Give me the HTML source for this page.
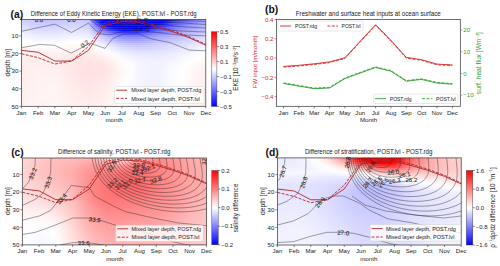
<!DOCTYPE html><html><head><meta charset="utf-8"><style>html,body{margin:0;padding:0;background:#fff;overflow:hidden}svg{display:block}</style></head><body>
<svg width="500" height="266" viewBox="0 0 500 266" font-family='"Liberation Sans", sans-serif'>
<rect width="500" height="266" fill="#fff"/>
<defs><linearGradient id="g1"><stop offset="0.000" stop-color="#cfcfff"/><stop offset="0.033" stop-color="#c9c9ff"/><stop offset="0.067" stop-color="#c4c4ff"/><stop offset="0.100" stop-color="#bfbfff"/><stop offset="0.133" stop-color="#bebeff"/><stop offset="0.167" stop-color="#bdbdff"/><stop offset="0.200" stop-color="#bebeff"/><stop offset="0.233" stop-color="#c2c2ff"/><stop offset="0.267" stop-color="#c6c6ff"/><stop offset="0.300" stop-color="#c6c6ff"/><stop offset="0.333" stop-color="#c5c5ff"/><stop offset="0.367" stop-color="#babaff"/><stop offset="0.400" stop-color="#4848ff"/><stop offset="0.433" stop-color="#0000ff"/><stop offset="0.467" stop-color="#0000ff"/><stop offset="0.500" stop-color="#0000ff"/><stop offset="0.533" stop-color="#0000ff"/><stop offset="0.567" stop-color="#0000ff"/><stop offset="0.600" stop-color="#0000ff"/><stop offset="0.633" stop-color="#0000ff"/><stop offset="0.667" stop-color="#0000ff"/><stop offset="0.700" stop-color="#0000ff"/><stop offset="0.733" stop-color="#0000ff"/><stop offset="0.767" stop-color="#0000ff"/><stop offset="0.800" stop-color="#0c0cff"/><stop offset="0.833" stop-color="#3434ff"/><stop offset="0.867" stop-color="#5151ff"/><stop offset="0.900" stop-color="#6e6eff"/><stop offset="0.933" stop-color="#8383ff"/><stop offset="0.967" stop-color="#9595ff"/><stop offset="1.000" stop-color="#a6a6ff"/></linearGradient><linearGradient id="g2"><stop offset="0.000" stop-color="#d4d4ff"/><stop offset="0.033" stop-color="#ceceff"/><stop offset="0.067" stop-color="#c8c8ff"/><stop offset="0.100" stop-color="#c4c4ff"/><stop offset="0.133" stop-color="#c4c4ff"/><stop offset="0.167" stop-color="#c3c3ff"/><stop offset="0.200" stop-color="#c5c5ff"/><stop offset="0.233" stop-color="#c9c9ff"/><stop offset="0.267" stop-color="#cdcdff"/><stop offset="0.300" stop-color="#ccccff"/><stop offset="0.333" stop-color="#cbcbff"/><stop offset="0.367" stop-color="#c1c1ff"/><stop offset="0.400" stop-color="#6262ff"/><stop offset="0.433" stop-color="#0303ff"/><stop offset="0.467" stop-color="#0000ff"/><stop offset="0.500" stop-color="#0000ff"/><stop offset="0.533" stop-color="#0000ff"/><stop offset="0.567" stop-color="#0000ff"/><stop offset="0.600" stop-color="#0000ff"/><stop offset="0.633" stop-color="#0000ff"/><stop offset="0.667" stop-color="#0000ff"/><stop offset="0.700" stop-color="#0000ff"/><stop offset="0.733" stop-color="#0000ff"/><stop offset="0.767" stop-color="#0000ff"/><stop offset="0.800" stop-color="#2626ff"/><stop offset="0.833" stop-color="#4747ff"/><stop offset="0.867" stop-color="#6060ff"/><stop offset="0.900" stop-color="#7979ff"/><stop offset="0.933" stop-color="#8b8bff"/><stop offset="0.967" stop-color="#9b9bff"/><stop offset="1.000" stop-color="#ababff"/></linearGradient><linearGradient id="g3"><stop offset="0.000" stop-color="#d8d8ff"/><stop offset="0.033" stop-color="#d3d3ff"/><stop offset="0.067" stop-color="#cdcdff"/><stop offset="0.100" stop-color="#cacaff"/><stop offset="0.133" stop-color="#cacaff"/><stop offset="0.167" stop-color="#cacaff"/><stop offset="0.200" stop-color="#cbcbff"/><stop offset="0.233" stop-color="#cfcfff"/><stop offset="0.267" stop-color="#d2d2ff"/><stop offset="0.300" stop-color="#d2d2ff"/><stop offset="0.333" stop-color="#d0d0ff"/><stop offset="0.367" stop-color="#c8c8ff"/><stop offset="0.400" stop-color="#7979ff"/><stop offset="0.433" stop-color="#2a2aff"/><stop offset="0.467" stop-color="#0000ff"/><stop offset="0.500" stop-color="#0000ff"/><stop offset="0.533" stop-color="#0000ff"/><stop offset="0.567" stop-color="#0000ff"/><stop offset="0.600" stop-color="#0000ff"/><stop offset="0.633" stop-color="#0000ff"/><stop offset="0.667" stop-color="#0000ff"/><stop offset="0.700" stop-color="#0000ff"/><stop offset="0.733" stop-color="#0000ff"/><stop offset="0.767" stop-color="#1d1dff"/><stop offset="0.800" stop-color="#3d3dff"/><stop offset="0.833" stop-color="#5959ff"/><stop offset="0.867" stop-color="#6f6fff"/><stop offset="0.900" stop-color="#8484ff"/><stop offset="0.933" stop-color="#9494ff"/><stop offset="0.967" stop-color="#a2a2ff"/><stop offset="1.000" stop-color="#b0b0ff"/></linearGradient><linearGradient id="g4"><stop offset="0.000" stop-color="#dcdcff"/><stop offset="0.033" stop-color="#d7d7ff"/><stop offset="0.067" stop-color="#d3d3ff"/><stop offset="0.100" stop-color="#cfcfff"/><stop offset="0.133" stop-color="#cfcfff"/><stop offset="0.167" stop-color="#cfcfff"/><stop offset="0.200" stop-color="#d1d1ff"/><stop offset="0.233" stop-color="#d4d4ff"/><stop offset="0.267" stop-color="#d6d6ff"/><stop offset="0.300" stop-color="#d6d6ff"/><stop offset="0.333" stop-color="#d5d5ff"/><stop offset="0.367" stop-color="#ceceff"/><stop offset="0.400" stop-color="#8c8cff"/><stop offset="0.433" stop-color="#4949ff"/><stop offset="0.467" stop-color="#0e0eff"/><stop offset="0.500" stop-color="#0000ff"/><stop offset="0.533" stop-color="#0000ff"/><stop offset="0.567" stop-color="#0000ff"/><stop offset="0.600" stop-color="#0000ff"/><stop offset="0.633" stop-color="#0000ff"/><stop offset="0.667" stop-color="#0000ff"/><stop offset="0.700" stop-color="#0000ff"/><stop offset="0.733" stop-color="#1b1bff"/><stop offset="0.767" stop-color="#3737ff"/><stop offset="0.800" stop-color="#5252ff"/><stop offset="0.833" stop-color="#6a6aff"/><stop offset="0.867" stop-color="#7d7dff"/><stop offset="0.900" stop-color="#9090ff"/><stop offset="0.933" stop-color="#9e9eff"/><stop offset="0.967" stop-color="#aaaaff"/><stop offset="1.000" stop-color="#b6b6ff"/></linearGradient><linearGradient id="g5"><stop offset="0.000" stop-color="#e0e0ff"/><stop offset="0.033" stop-color="#dcdcff"/><stop offset="0.067" stop-color="#d8d8ff"/><stop offset="0.100" stop-color="#d5d5ff"/><stop offset="0.133" stop-color="#d5d5ff"/><stop offset="0.167" stop-color="#d5d5ff"/><stop offset="0.200" stop-color="#d6d6ff"/><stop offset="0.233" stop-color="#d8d8ff"/><stop offset="0.267" stop-color="#dadaff"/><stop offset="0.300" stop-color="#dbdbff"/><stop offset="0.333" stop-color="#dadaff"/><stop offset="0.367" stop-color="#d5d5ff"/><stop offset="0.400" stop-color="#9f9fff"/><stop offset="0.433" stop-color="#6868ff"/><stop offset="0.467" stop-color="#3737ff"/><stop offset="0.500" stop-color="#1111ff"/><stop offset="0.533" stop-color="#0000ff"/><stop offset="0.567" stop-color="#0000ff"/><stop offset="0.600" stop-color="#0000ff"/><stop offset="0.633" stop-color="#0000ff"/><stop offset="0.667" stop-color="#0000ff"/><stop offset="0.700" stop-color="#1c1cff"/><stop offset="0.733" stop-color="#3b3bff"/><stop offset="0.767" stop-color="#5151ff"/><stop offset="0.800" stop-color="#6666ff"/><stop offset="0.833" stop-color="#7a7aff"/><stop offset="0.867" stop-color="#8b8bff"/><stop offset="0.900" stop-color="#9c9cff"/><stop offset="0.933" stop-color="#a8a8ff"/><stop offset="0.967" stop-color="#b2b2ff"/><stop offset="1.000" stop-color="#bcbcff"/></linearGradient><linearGradient id="g6"><stop offset="0.000" stop-color="#e5e5ff"/><stop offset="0.033" stop-color="#e1e1ff"/><stop offset="0.067" stop-color="#dedeff"/><stop offset="0.100" stop-color="#dbdbff"/><stop offset="0.133" stop-color="#dbdbff"/><stop offset="0.167" stop-color="#dbdbff"/><stop offset="0.200" stop-color="#dcdcff"/><stop offset="0.233" stop-color="#dedeff"/><stop offset="0.267" stop-color="#e0e0ff"/><stop offset="0.300" stop-color="#e0e0ff"/><stop offset="0.333" stop-color="#e0e0ff"/><stop offset="0.367" stop-color="#dcdcff"/><stop offset="0.400" stop-color="#afafff"/><stop offset="0.433" stop-color="#8282ff"/><stop offset="0.467" stop-color="#5959ff"/><stop offset="0.500" stop-color="#3737ff"/><stop offset="0.533" stop-color="#1515ff"/><stop offset="0.567" stop-color="#0909ff"/><stop offset="0.600" stop-color="#0909ff"/><stop offset="0.633" stop-color="#0909ff"/><stop offset="0.667" stop-color="#2121ff"/><stop offset="0.700" stop-color="#3c3cff"/><stop offset="0.733" stop-color="#5656ff"/><stop offset="0.767" stop-color="#6767ff"/><stop offset="0.800" stop-color="#7979ff"/><stop offset="0.833" stop-color="#8989ff"/><stop offset="0.867" stop-color="#9898ff"/><stop offset="0.900" stop-color="#a6a6ff"/><stop offset="0.933" stop-color="#b1b1ff"/><stop offset="0.967" stop-color="#babaff"/><stop offset="1.000" stop-color="#c3c3ff"/></linearGradient><linearGradient id="g7"><stop offset="0.000" stop-color="#ebebff"/><stop offset="0.033" stop-color="#e7e7ff"/><stop offset="0.067" stop-color="#e3e3ff"/><stop offset="0.100" stop-color="#e1e1ff"/><stop offset="0.133" stop-color="#e1e1ff"/><stop offset="0.167" stop-color="#e1e1ff"/><stop offset="0.200" stop-color="#e2e2ff"/><stop offset="0.233" stop-color="#e4e4ff"/><stop offset="0.267" stop-color="#e6e6ff"/><stop offset="0.300" stop-color="#e6e6ff"/><stop offset="0.333" stop-color="#e6e6ff"/><stop offset="0.367" stop-color="#e3e3ff"/><stop offset="0.400" stop-color="#bfbfff"/><stop offset="0.433" stop-color="#9b9bff"/><stop offset="0.467" stop-color="#7979ff"/><stop offset="0.500" stop-color="#5b5bff"/><stop offset="0.533" stop-color="#3e3eff"/><stop offset="0.567" stop-color="#3333ff"/><stop offset="0.600" stop-color="#3333ff"/><stop offset="0.633" stop-color="#3333ff"/><stop offset="0.667" stop-color="#4646ff"/><stop offset="0.700" stop-color="#5b5bff"/><stop offset="0.733" stop-color="#6f6fff"/><stop offset="0.767" stop-color="#7d7dff"/><stop offset="0.800" stop-color="#8b8bff"/><stop offset="0.833" stop-color="#9898ff"/><stop offset="0.867" stop-color="#a4a4ff"/><stop offset="0.900" stop-color="#b0b0ff"/><stop offset="0.933" stop-color="#b9b9ff"/><stop offset="0.967" stop-color="#c2c2ff"/><stop offset="1.000" stop-color="#cacaff"/></linearGradient><linearGradient id="g8"><stop offset="0.000" stop-color="#f1f1ff"/><stop offset="0.033" stop-color="#ededff"/><stop offset="0.067" stop-color="#e9e9ff"/><stop offset="0.100" stop-color="#e7e7ff"/><stop offset="0.133" stop-color="#e7e7ff"/><stop offset="0.167" stop-color="#e7e7ff"/><stop offset="0.200" stop-color="#e8e8ff"/><stop offset="0.233" stop-color="#e9e9ff"/><stop offset="0.267" stop-color="#ebebff"/><stop offset="0.300" stop-color="#ececff"/><stop offset="0.333" stop-color="#ececff"/><stop offset="0.367" stop-color="#e9e9ff"/><stop offset="0.400" stop-color="#ceceff"/><stop offset="0.433" stop-color="#b3b3ff"/><stop offset="0.467" stop-color="#9999ff"/><stop offset="0.500" stop-color="#8080ff"/><stop offset="0.533" stop-color="#6666ff"/><stop offset="0.567" stop-color="#5d5dff"/><stop offset="0.600" stop-color="#5d5dff"/><stop offset="0.633" stop-color="#5d5dff"/><stop offset="0.667" stop-color="#6b6bff"/><stop offset="0.700" stop-color="#7a7aff"/><stop offset="0.733" stop-color="#8989ff"/><stop offset="0.767" stop-color="#9393ff"/><stop offset="0.800" stop-color="#9d9dff"/><stop offset="0.833" stop-color="#a6a6ff"/><stop offset="0.867" stop-color="#b0b0ff"/><stop offset="0.900" stop-color="#b9b9ff"/><stop offset="0.933" stop-color="#c1c1ff"/><stop offset="0.967" stop-color="#c9c9ff"/><stop offset="1.000" stop-color="#d1d1ff"/></linearGradient><linearGradient id="g9"><stop offset="0.000" stop-color="#f6f6ff"/><stop offset="0.033" stop-color="#f2f2ff"/><stop offset="0.067" stop-color="#efefff"/><stop offset="0.100" stop-color="#ececff"/><stop offset="0.133" stop-color="#ececff"/><stop offset="0.167" stop-color="#ececff"/><stop offset="0.200" stop-color="#ededff"/><stop offset="0.233" stop-color="#efefff"/><stop offset="0.267" stop-color="#f1f1ff"/><stop offset="0.300" stop-color="#f1f1ff"/><stop offset="0.333" stop-color="#f1f1ff"/><stop offset="0.367" stop-color="#efefff"/><stop offset="0.400" stop-color="#dbdbff"/><stop offset="0.433" stop-color="#c8c8ff"/><stop offset="0.467" stop-color="#b3b3ff"/><stop offset="0.500" stop-color="#9e9eff"/><stop offset="0.533" stop-color="#8888ff"/><stop offset="0.567" stop-color="#8080ff"/><stop offset="0.600" stop-color="#8080ff"/><stop offset="0.633" stop-color="#7f7fff"/><stop offset="0.667" stop-color="#8989ff"/><stop offset="0.700" stop-color="#9494ff"/><stop offset="0.733" stop-color="#9e9eff"/><stop offset="0.767" stop-color="#a5a5ff"/><stop offset="0.800" stop-color="#acacff"/><stop offset="0.833" stop-color="#b3b3ff"/><stop offset="0.867" stop-color="#bbbbff"/><stop offset="0.900" stop-color="#c2c2ff"/><stop offset="0.933" stop-color="#c9c9ff"/><stop offset="0.967" stop-color="#d1d1ff"/><stop offset="1.000" stop-color="#d8d8ff"/></linearGradient><linearGradient id="g10"><stop offset="0.000" stop-color="#f9f9ff"/><stop offset="0.033" stop-color="#f6f6ff"/><stop offset="0.067" stop-color="#f3f3ff"/><stop offset="0.100" stop-color="#f1f1ff"/><stop offset="0.133" stop-color="#f1f1ff"/><stop offset="0.167" stop-color="#f1f1ff"/><stop offset="0.200" stop-color="#f2f2ff"/><stop offset="0.233" stop-color="#f4f4ff"/><stop offset="0.267" stop-color="#f5f5ff"/><stop offset="0.300" stop-color="#f6f6ff"/><stop offset="0.333" stop-color="#f6f6ff"/><stop offset="0.367" stop-color="#f4f4ff"/><stop offset="0.400" stop-color="#e3e3ff"/><stop offset="0.433" stop-color="#d2d2ff"/><stop offset="0.467" stop-color="#c0c0ff"/><stop offset="0.500" stop-color="#adadff"/><stop offset="0.533" stop-color="#9999ff"/><stop offset="0.567" stop-color="#9292ff"/><stop offset="0.600" stop-color="#9191ff"/><stop offset="0.633" stop-color="#9090ff"/><stop offset="0.667" stop-color="#9898ff"/><stop offset="0.700" stop-color="#a1a1ff"/><stop offset="0.733" stop-color="#a9a9ff"/><stop offset="0.767" stop-color="#b0b0ff"/><stop offset="0.800" stop-color="#b6b6ff"/><stop offset="0.833" stop-color="#bcbcff"/><stop offset="0.867" stop-color="#c3c3ff"/><stop offset="0.900" stop-color="#c9c9ff"/><stop offset="0.933" stop-color="#d0d0ff"/><stop offset="0.967" stop-color="#d7d7ff"/><stop offset="1.000" stop-color="#dedeff"/></linearGradient><linearGradient id="g11"><stop offset="0.000" stop-color="#fdfdff"/><stop offset="0.033" stop-color="#fafaff"/><stop offset="0.067" stop-color="#f7f7ff"/><stop offset="0.100" stop-color="#f5f5ff"/><stop offset="0.133" stop-color="#f5f5ff"/><stop offset="0.167" stop-color="#f5f5ff"/><stop offset="0.200" stop-color="#f6f6ff"/><stop offset="0.233" stop-color="#f8f8ff"/><stop offset="0.267" stop-color="#fafaff"/><stop offset="0.300" stop-color="#fafaff"/><stop offset="0.333" stop-color="#fafaff"/><stop offset="0.367" stop-color="#f9f9ff"/><stop offset="0.400" stop-color="#eaeaff"/><stop offset="0.433" stop-color="#dcdcff"/><stop offset="0.467" stop-color="#ccccff"/><stop offset="0.500" stop-color="#bcbcff"/><stop offset="0.533" stop-color="#ababff"/><stop offset="0.567" stop-color="#a4a4ff"/><stop offset="0.600" stop-color="#a2a2ff"/><stop offset="0.633" stop-color="#a0a0ff"/><stop offset="0.667" stop-color="#a6a6ff"/><stop offset="0.700" stop-color="#aeaeff"/><stop offset="0.733" stop-color="#b5b5ff"/><stop offset="0.767" stop-color="#babaff"/><stop offset="0.800" stop-color="#c0c0ff"/><stop offset="0.833" stop-color="#c5c5ff"/><stop offset="0.867" stop-color="#cbcbff"/><stop offset="0.900" stop-color="#d0d0ff"/><stop offset="0.933" stop-color="#d7d7ff"/><stop offset="0.967" stop-color="#ddddff"/><stop offset="1.000" stop-color="#e4e4ff"/></linearGradient><linearGradient id="g12"><stop offset="0.000" stop-color="#fffefe"/><stop offset="0.033" stop-color="#fefeff"/><stop offset="0.067" stop-color="#fcfcff"/><stop offset="0.100" stop-color="#fafaff"/><stop offset="0.133" stop-color="#fafaff"/><stop offset="0.167" stop-color="#fafaff"/><stop offset="0.200" stop-color="#fbfbff"/><stop offset="0.233" stop-color="#fdfdff"/><stop offset="0.267" stop-color="#ffffff"/><stop offset="0.300" stop-color="#ffffff"/><stop offset="0.333" stop-color="#ffffff"/><stop offset="0.367" stop-color="#fefeff"/><stop offset="0.400" stop-color="#f2f2ff"/><stop offset="0.433" stop-color="#e6e6ff"/><stop offset="0.467" stop-color="#d9d9ff"/><stop offset="0.500" stop-color="#cbcbff"/><stop offset="0.533" stop-color="#bdbdff"/><stop offset="0.567" stop-color="#b6b6ff"/><stop offset="0.600" stop-color="#b3b3ff"/><stop offset="0.633" stop-color="#b0b0ff"/><stop offset="0.667" stop-color="#b5b5ff"/><stop offset="0.700" stop-color="#bbbbff"/><stop offset="0.733" stop-color="#c0c0ff"/><stop offset="0.767" stop-color="#c5c5ff"/><stop offset="0.800" stop-color="#c9c9ff"/><stop offset="0.833" stop-color="#ceceff"/><stop offset="0.867" stop-color="#d3d3ff"/><stop offset="0.900" stop-color="#d7d7ff"/><stop offset="0.933" stop-color="#ddddff"/><stop offset="0.967" stop-color="#e3e3ff"/><stop offset="1.000" stop-color="#e9e9ff"/></linearGradient><linearGradient id="g13"><stop offset="0.000" stop-color="#fffafa"/><stop offset="0.033" stop-color="#fffcfc"/><stop offset="0.067" stop-color="#fffefe"/><stop offset="0.100" stop-color="#ffffff"/><stop offset="0.133" stop-color="#ffffff"/><stop offset="0.167" stop-color="#ffffff"/><stop offset="0.200" stop-color="#fffefe"/><stop offset="0.233" stop-color="#fffdfd"/><stop offset="0.267" stop-color="#fffbfb"/><stop offset="0.300" stop-color="#fffafa"/><stop offset="0.333" stop-color="#fffafa"/><stop offset="0.367" stop-color="#fffbfb"/><stop offset="0.400" stop-color="#f9f9ff"/><stop offset="0.433" stop-color="#f0f0ff"/><stop offset="0.467" stop-color="#e5e5ff"/><stop offset="0.500" stop-color="#dadaff"/><stop offset="0.533" stop-color="#ceceff"/><stop offset="0.567" stop-color="#c8c8ff"/><stop offset="0.600" stop-color="#c4c4ff"/><stop offset="0.633" stop-color="#c1c1ff"/><stop offset="0.667" stop-color="#c4c4ff"/><stop offset="0.700" stop-color="#c8c8ff"/><stop offset="0.733" stop-color="#ccccff"/><stop offset="0.767" stop-color="#cfcfff"/><stop offset="0.800" stop-color="#d3d3ff"/><stop offset="0.833" stop-color="#d7d7ff"/><stop offset="0.867" stop-color="#dbdbff"/><stop offset="0.900" stop-color="#dfdfff"/><stop offset="0.933" stop-color="#e4e4ff"/><stop offset="0.967" stop-color="#e9e9ff"/><stop offset="1.000" stop-color="#efefff"/></linearGradient><linearGradient id="g14"><stop offset="0.000" stop-color="#fff8f8"/><stop offset="0.033" stop-color="#fff9f9"/><stop offset="0.067" stop-color="#fffbfb"/><stop offset="0.100" stop-color="#fffcfc"/><stop offset="0.133" stop-color="#fffcfc"/><stop offset="0.167" stop-color="#fffcfc"/><stop offset="0.200" stop-color="#fffbfb"/><stop offset="0.233" stop-color="#fff9f9"/><stop offset="0.267" stop-color="#fff7f7"/><stop offset="0.300" stop-color="#fff7f7"/><stop offset="0.333" stop-color="#fff7f7"/><stop offset="0.367" stop-color="#fff8f8"/><stop offset="0.400" stop-color="#fefeff"/><stop offset="0.433" stop-color="#f6f6ff"/><stop offset="0.467" stop-color="#ededff"/><stop offset="0.500" stop-color="#e2e2ff"/><stop offset="0.533" stop-color="#d7d7ff"/><stop offset="0.567" stop-color="#d1d1ff"/><stop offset="0.600" stop-color="#cdcdff"/><stop offset="0.633" stop-color="#c9c9ff"/><stop offset="0.667" stop-color="#ccccff"/><stop offset="0.700" stop-color="#cfcfff"/><stop offset="0.733" stop-color="#d2d2ff"/><stop offset="0.767" stop-color="#d5d5ff"/><stop offset="0.800" stop-color="#d9d9ff"/><stop offset="0.833" stop-color="#dcdcff"/><stop offset="0.867" stop-color="#e0e0ff"/><stop offset="0.900" stop-color="#e4e4ff"/><stop offset="0.933" stop-color="#e8e8ff"/><stop offset="0.967" stop-color="#eeeeff"/><stop offset="1.000" stop-color="#f3f3ff"/></linearGradient><linearGradient id="g15"><stop offset="0.000" stop-color="#fff5f5"/><stop offset="0.033" stop-color="#fff7f7"/><stop offset="0.067" stop-color="#fff8f8"/><stop offset="0.100" stop-color="#fff8f8"/><stop offset="0.133" stop-color="#fff8f8"/><stop offset="0.167" stop-color="#fff8f8"/><stop offset="0.200" stop-color="#fff7f7"/><stop offset="0.233" stop-color="#fff6f6"/><stop offset="0.267" stop-color="#fff4f4"/><stop offset="0.300" stop-color="#fff3f3"/><stop offset="0.333" stop-color="#fff3f3"/><stop offset="0.367" stop-color="#fff4f4"/><stop offset="0.400" stop-color="#fffbfb"/><stop offset="0.433" stop-color="#fcfcff"/><stop offset="0.467" stop-color="#f4f4ff"/><stop offset="0.500" stop-color="#eaeaff"/><stop offset="0.533" stop-color="#dfdfff"/><stop offset="0.567" stop-color="#d9d9ff"/><stop offset="0.600" stop-color="#d5d5ff"/><stop offset="0.633" stop-color="#d2d2ff"/><stop offset="0.667" stop-color="#d3d3ff"/><stop offset="0.700" stop-color="#d5d5ff"/><stop offset="0.733" stop-color="#d8d8ff"/><stop offset="0.767" stop-color="#dadaff"/><stop offset="0.800" stop-color="#ddddff"/><stop offset="0.833" stop-color="#e1e1ff"/><stop offset="0.867" stop-color="#e4e4ff"/><stop offset="0.900" stop-color="#e8e8ff"/><stop offset="0.933" stop-color="#ededff"/><stop offset="0.967" stop-color="#f2f2ff"/><stop offset="1.000" stop-color="#f6f6ff"/></linearGradient><linearGradient id="g16"><stop offset="0.000" stop-color="#fff3f3"/><stop offset="0.033" stop-color="#fff4f4"/><stop offset="0.067" stop-color="#fff4f4"/><stop offset="0.100" stop-color="#fff5f5"/><stop offset="0.133" stop-color="#fff5f5"/><stop offset="0.167" stop-color="#fff5f5"/><stop offset="0.200" stop-color="#fff4f4"/><stop offset="0.233" stop-color="#fff2f2"/><stop offset="0.267" stop-color="#fff0f0"/><stop offset="0.300" stop-color="#fff0f0"/><stop offset="0.333" stop-color="#fff0f0"/><stop offset="0.367" stop-color="#fff0f0"/><stop offset="0.400" stop-color="#fff6f6"/><stop offset="0.433" stop-color="#fffcfc"/><stop offset="0.467" stop-color="#fbfbff"/><stop offset="0.500" stop-color="#f1f1ff"/><stop offset="0.533" stop-color="#e7e7ff"/><stop offset="0.567" stop-color="#e1e1ff"/><stop offset="0.600" stop-color="#ddddff"/><stop offset="0.633" stop-color="#dadaff"/><stop offset="0.667" stop-color="#dadaff"/><stop offset="0.700" stop-color="#dcdcff"/><stop offset="0.733" stop-color="#ddddff"/><stop offset="0.767" stop-color="#e0e0ff"/><stop offset="0.800" stop-color="#e2e2ff"/><stop offset="0.833" stop-color="#e5e5ff"/><stop offset="0.867" stop-color="#e9e9ff"/><stop offset="0.900" stop-color="#ededff"/><stop offset="0.933" stop-color="#f1f1ff"/><stop offset="0.967" stop-color="#f5f5ff"/><stop offset="1.000" stop-color="#fafaff"/></linearGradient><linearGradient id="g17"><stop offset="0.000" stop-color="#fff1f1"/><stop offset="0.033" stop-color="#fff1f1"/><stop offset="0.067" stop-color="#fff1f1"/><stop offset="0.100" stop-color="#fff1f1"/><stop offset="0.133" stop-color="#fff1f1"/><stop offset="0.167" stop-color="#fff1f1"/><stop offset="0.200" stop-color="#fff0f0"/><stop offset="0.233" stop-color="#ffefef"/><stop offset="0.267" stop-color="#ffeded"/><stop offset="0.300" stop-color="#ffecec"/><stop offset="0.333" stop-color="#ffecec"/><stop offset="0.367" stop-color="#ffeded"/><stop offset="0.400" stop-color="#fff1f1"/><stop offset="0.433" stop-color="#fff5f5"/><stop offset="0.467" stop-color="#fffcfc"/><stop offset="0.500" stop-color="#f9f9ff"/><stop offset="0.533" stop-color="#efefff"/><stop offset="0.567" stop-color="#e9e9ff"/><stop offset="0.600" stop-color="#e6e6ff"/><stop offset="0.633" stop-color="#e2e2ff"/><stop offset="0.667" stop-color="#e2e2ff"/><stop offset="0.700" stop-color="#e2e2ff"/><stop offset="0.733" stop-color="#e3e3ff"/><stop offset="0.767" stop-color="#e5e5ff"/><stop offset="0.800" stop-color="#e7e7ff"/><stop offset="0.833" stop-color="#eaeaff"/><stop offset="0.867" stop-color="#eeeeff"/><stop offset="0.900" stop-color="#f1f1ff"/><stop offset="0.933" stop-color="#f5f5ff"/><stop offset="0.967" stop-color="#f9f9ff"/><stop offset="1.000" stop-color="#fdfdff"/></linearGradient><linearGradient id="g18"><stop offset="0.000" stop-color="#ffefef"/><stop offset="0.033" stop-color="#ffefef"/><stop offset="0.067" stop-color="#ffefef"/><stop offset="0.100" stop-color="#ffefef"/><stop offset="0.133" stop-color="#ffefef"/><stop offset="0.167" stop-color="#ffefef"/><stop offset="0.200" stop-color="#ffeeee"/><stop offset="0.233" stop-color="#ffecec"/><stop offset="0.267" stop-color="#ffeaea"/><stop offset="0.300" stop-color="#ffeaea"/><stop offset="0.333" stop-color="#ffeaea"/><stop offset="0.367" stop-color="#ffeaea"/><stop offset="0.400" stop-color="#ffeded"/><stop offset="0.433" stop-color="#fff1f1"/><stop offset="0.467" stop-color="#fff6f6"/><stop offset="0.500" stop-color="#fefeff"/><stop offset="0.533" stop-color="#f5f5ff"/><stop offset="0.567" stop-color="#f0f0ff"/><stop offset="0.600" stop-color="#ececff"/><stop offset="0.633" stop-color="#e8e8ff"/><stop offset="0.667" stop-color="#e7e7ff"/><stop offset="0.700" stop-color="#e7e7ff"/><stop offset="0.733" stop-color="#e7e7ff"/><stop offset="0.767" stop-color="#e9e9ff"/><stop offset="0.800" stop-color="#ebebff"/><stop offset="0.833" stop-color="#ededff"/><stop offset="0.867" stop-color="#f1f1ff"/><stop offset="0.900" stop-color="#f5f5ff"/><stop offset="0.933" stop-color="#f9f9ff"/><stop offset="0.967" stop-color="#fcfcff"/><stop offset="1.000" stop-color="#fffefe"/></linearGradient><linearGradient id="g19"><stop offset="0.000" stop-color="#ffeeee"/><stop offset="0.033" stop-color="#ffeeee"/><stop offset="0.067" stop-color="#ffefef"/><stop offset="0.100" stop-color="#ffefef"/><stop offset="0.133" stop-color="#ffefef"/><stop offset="0.167" stop-color="#ffefef"/><stop offset="0.200" stop-color="#ffeeee"/><stop offset="0.233" stop-color="#ffebeb"/><stop offset="0.267" stop-color="#ffe9e9"/><stop offset="0.300" stop-color="#ffe8e8"/><stop offset="0.333" stop-color="#ffe8e8"/><stop offset="0.367" stop-color="#ffe7e7"/><stop offset="0.400" stop-color="#ffebeb"/><stop offset="0.433" stop-color="#ffeeee"/><stop offset="0.467" stop-color="#fff3f3"/><stop offset="0.500" stop-color="#fffbfb"/><stop offset="0.533" stop-color="#fafaff"/><stop offset="0.567" stop-color="#f4f4ff"/><stop offset="0.600" stop-color="#efefff"/><stop offset="0.633" stop-color="#ebebff"/><stop offset="0.667" stop-color="#eaeaff"/><stop offset="0.700" stop-color="#e9e9ff"/><stop offset="0.733" stop-color="#e9e9ff"/><stop offset="0.767" stop-color="#ebebff"/><stop offset="0.800" stop-color="#ededff"/><stop offset="0.833" stop-color="#f0f0ff"/><stop offset="0.867" stop-color="#f4f4ff"/><stop offset="0.900" stop-color="#f7f7ff"/><stop offset="0.933" stop-color="#fbfbff"/><stop offset="0.967" stop-color="#ffffff"/><stop offset="1.000" stop-color="#fffcfc"/></linearGradient><linearGradient id="g20"><stop offset="0.000" stop-color="#ffeded"/><stop offset="0.033" stop-color="#ffeded"/><stop offset="0.067" stop-color="#ffeeee"/><stop offset="0.100" stop-color="#ffeeee"/><stop offset="0.133" stop-color="#ffeeee"/><stop offset="0.167" stop-color="#ffeeee"/><stop offset="0.200" stop-color="#ffeded"/><stop offset="0.233" stop-color="#ffebeb"/><stop offset="0.267" stop-color="#ffe8e8"/><stop offset="0.300" stop-color="#ffe7e7"/><stop offset="0.333" stop-color="#ffe6e6"/><stop offset="0.367" stop-color="#ffe5e5"/><stop offset="0.400" stop-color="#ffe8e8"/><stop offset="0.433" stop-color="#ffeaea"/><stop offset="0.467" stop-color="#ffefef"/><stop offset="0.500" stop-color="#fff7f7"/><stop offset="0.533" stop-color="#fefeff"/><stop offset="0.567" stop-color="#f8f8ff"/><stop offset="0.600" stop-color="#f3f3ff"/><stop offset="0.633" stop-color="#efefff"/><stop offset="0.667" stop-color="#ededff"/><stop offset="0.700" stop-color="#ececff"/><stop offset="0.733" stop-color="#ececff"/><stop offset="0.767" stop-color="#eeeeff"/><stop offset="0.800" stop-color="#efefff"/><stop offset="0.833" stop-color="#f2f2ff"/><stop offset="0.867" stop-color="#f6f6ff"/><stop offset="0.900" stop-color="#fafaff"/><stop offset="0.933" stop-color="#fdfdff"/><stop offset="0.967" stop-color="#fffdfd"/><stop offset="1.000" stop-color="#fff9f9"/></linearGradient><linearGradient id="g21"><stop offset="0.000" stop-color="#ffecec"/><stop offset="0.033" stop-color="#ffecec"/><stop offset="0.067" stop-color="#ffeded"/><stop offset="0.100" stop-color="#ffeeee"/><stop offset="0.133" stop-color="#ffeeee"/><stop offset="0.167" stop-color="#ffeeee"/><stop offset="0.200" stop-color="#ffecec"/><stop offset="0.233" stop-color="#ffeaea"/><stop offset="0.267" stop-color="#ffe7e7"/><stop offset="0.300" stop-color="#ffe5e5"/><stop offset="0.333" stop-color="#ffe4e4"/><stop offset="0.367" stop-color="#ffe3e3"/><stop offset="0.400" stop-color="#ffe5e5"/><stop offset="0.433" stop-color="#ffe7e7"/><stop offset="0.467" stop-color="#ffebeb"/><stop offset="0.500" stop-color="#fff3f3"/><stop offset="0.533" stop-color="#fffbfb"/><stop offset="0.567" stop-color="#fdfdff"/><stop offset="0.600" stop-color="#f7f7ff"/><stop offset="0.633" stop-color="#f2f2ff"/><stop offset="0.667" stop-color="#f0f0ff"/><stop offset="0.700" stop-color="#efefff"/><stop offset="0.733" stop-color="#eeeeff"/><stop offset="0.767" stop-color="#f0f0ff"/><stop offset="0.800" stop-color="#f2f2ff"/><stop offset="0.833" stop-color="#f4f4ff"/><stop offset="0.867" stop-color="#f8f8ff"/><stop offset="0.900" stop-color="#fcfcff"/><stop offset="0.933" stop-color="#fffefe"/><stop offset="0.967" stop-color="#fffbfb"/><stop offset="1.000" stop-color="#fff7f7"/></linearGradient><linearGradient id="g22"><stop offset="0.000" stop-color="#ffebeb"/><stop offset="0.033" stop-color="#ffecec"/><stop offset="0.067" stop-color="#ffeded"/><stop offset="0.100" stop-color="#ffeded"/><stop offset="0.133" stop-color="#ffeded"/><stop offset="0.167" stop-color="#ffeded"/><stop offset="0.200" stop-color="#ffecec"/><stop offset="0.233" stop-color="#ffe9e9"/><stop offset="0.267" stop-color="#ffe6e6"/><stop offset="0.300" stop-color="#ffe4e4"/><stop offset="0.333" stop-color="#ffe2e2"/><stop offset="0.367" stop-color="#ffe1e1"/><stop offset="0.400" stop-color="#ffe2e2"/><stop offset="0.433" stop-color="#ffe4e4"/><stop offset="0.467" stop-color="#ffe8e8"/><stop offset="0.500" stop-color="#fff0f0"/><stop offset="0.533" stop-color="#fff7f7"/><stop offset="0.567" stop-color="#fffdfd"/><stop offset="0.600" stop-color="#fbfbff"/><stop offset="0.633" stop-color="#f5f5ff"/><stop offset="0.667" stop-color="#f3f3ff"/><stop offset="0.700" stop-color="#f1f1ff"/><stop offset="0.733" stop-color="#f0f0ff"/><stop offset="0.767" stop-color="#f2f2ff"/><stop offset="0.800" stop-color="#f4f4ff"/><stop offset="0.833" stop-color="#f7f7ff"/><stop offset="0.867" stop-color="#fafaff"/><stop offset="0.900" stop-color="#fefeff"/><stop offset="0.933" stop-color="#fffcfc"/><stop offset="0.967" stop-color="#fff8f8"/><stop offset="1.000" stop-color="#fff5f5"/></linearGradient><linearGradient id="g23"><stop offset="0.000" stop-color="#ffebeb"/><stop offset="0.033" stop-color="#ffecec"/><stop offset="0.067" stop-color="#ffeded"/><stop offset="0.100" stop-color="#ffeeee"/><stop offset="0.133" stop-color="#ffeeee"/><stop offset="0.167" stop-color="#ffeeee"/><stop offset="0.200" stop-color="#ffecec"/><stop offset="0.233" stop-color="#ffe9e9"/><stop offset="0.267" stop-color="#ffe6e6"/><stop offset="0.300" stop-color="#ffe4e4"/><stop offset="0.333" stop-color="#ffe2e2"/><stop offset="0.367" stop-color="#ffe1e1"/><stop offset="0.400" stop-color="#ffe2e2"/><stop offset="0.433" stop-color="#ffe3e3"/><stop offset="0.467" stop-color="#ffe7e7"/><stop offset="0.500" stop-color="#ffeeee"/><stop offset="0.533" stop-color="#fff6f6"/><stop offset="0.567" stop-color="#fffcfc"/><stop offset="0.600" stop-color="#fbfbff"/><stop offset="0.633" stop-color="#f5f5ff"/><stop offset="0.667" stop-color="#f3f3ff"/><stop offset="0.700" stop-color="#f1f1ff"/><stop offset="0.733" stop-color="#f0f0ff"/><stop offset="0.767" stop-color="#f2f2ff"/><stop offset="0.800" stop-color="#f5f5ff"/><stop offset="0.833" stop-color="#f8f8ff"/><stop offset="0.867" stop-color="#fcfcff"/><stop offset="0.900" stop-color="#ffffff"/><stop offset="0.933" stop-color="#fffbfb"/><stop offset="0.967" stop-color="#fff7f7"/><stop offset="1.000" stop-color="#fff4f4"/></linearGradient><linearGradient id="g24"><stop offset="0.000" stop-color="#ffebeb"/><stop offset="0.033" stop-color="#ffecec"/><stop offset="0.067" stop-color="#ffeded"/><stop offset="0.100" stop-color="#ffeeee"/><stop offset="0.133" stop-color="#ffeeee"/><stop offset="0.167" stop-color="#ffeeee"/><stop offset="0.200" stop-color="#ffeded"/><stop offset="0.233" stop-color="#ffe9e9"/><stop offset="0.267" stop-color="#ffe6e6"/><stop offset="0.300" stop-color="#ffe4e4"/><stop offset="0.333" stop-color="#ffe2e2"/><stop offset="0.367" stop-color="#ffe0e0"/><stop offset="0.400" stop-color="#ffe1e1"/><stop offset="0.433" stop-color="#ffe2e2"/><stop offset="0.467" stop-color="#ffe6e6"/><stop offset="0.500" stop-color="#ffeded"/><stop offset="0.533" stop-color="#fff5f5"/><stop offset="0.567" stop-color="#fffcfc"/><stop offset="0.600" stop-color="#fcfcff"/><stop offset="0.633" stop-color="#f5f5ff"/><stop offset="0.667" stop-color="#f3f3ff"/><stop offset="0.700" stop-color="#f1f1ff"/><stop offset="0.733" stop-color="#f0f0ff"/><stop offset="0.767" stop-color="#f3f3ff"/><stop offset="0.800" stop-color="#f6f6ff"/><stop offset="0.833" stop-color="#f9f9ff"/><stop offset="0.867" stop-color="#fdfdff"/><stop offset="0.900" stop-color="#fffefe"/><stop offset="0.933" stop-color="#fffafa"/><stop offset="0.967" stop-color="#fff6f6"/><stop offset="1.000" stop-color="#fff2f2"/></linearGradient><linearGradient id="g25"><stop offset="0.000" stop-color="#ffebeb"/><stop offset="0.033" stop-color="#ffecec"/><stop offset="0.067" stop-color="#ffeeee"/><stop offset="0.100" stop-color="#ffefef"/><stop offset="0.133" stop-color="#ffefef"/><stop offset="0.167" stop-color="#ffefef"/><stop offset="0.200" stop-color="#ffeded"/><stop offset="0.233" stop-color="#ffeaea"/><stop offset="0.267" stop-color="#ffe6e6"/><stop offset="0.300" stop-color="#ffe4e4"/><stop offset="0.333" stop-color="#ffe2e2"/><stop offset="0.367" stop-color="#ffe0e0"/><stop offset="0.400" stop-color="#ffe1e1"/><stop offset="0.433" stop-color="#ffe2e2"/><stop offset="0.467" stop-color="#ffe5e5"/><stop offset="0.500" stop-color="#ffecec"/><stop offset="0.533" stop-color="#fff4f4"/><stop offset="0.567" stop-color="#fffbfb"/><stop offset="0.600" stop-color="#fcfcff"/><stop offset="0.633" stop-color="#f5f5ff"/><stop offset="0.667" stop-color="#f3f3ff"/><stop offset="0.700" stop-color="#f1f1ff"/><stop offset="0.733" stop-color="#f0f0ff"/><stop offset="0.767" stop-color="#f3f3ff"/><stop offset="0.800" stop-color="#f7f7ff"/><stop offset="0.833" stop-color="#fafaff"/><stop offset="0.867" stop-color="#fefeff"/><stop offset="0.900" stop-color="#fffcfc"/><stop offset="0.933" stop-color="#fff9f9"/><stop offset="0.967" stop-color="#fff5f5"/><stop offset="1.000" stop-color="#fff1f1"/></linearGradient><linearGradient id="g26"><stop offset="0.000" stop-color="#ffebeb"/><stop offset="0.033" stop-color="#ffecec"/><stop offset="0.067" stop-color="#ffeeee"/><stop offset="0.100" stop-color="#fff0f0"/><stop offset="0.133" stop-color="#fff0f0"/><stop offset="0.167" stop-color="#fff0f0"/><stop offset="0.200" stop-color="#ffeeee"/><stop offset="0.233" stop-color="#ffeaea"/><stop offset="0.267" stop-color="#ffe6e6"/><stop offset="0.300" stop-color="#ffe4e4"/><stop offset="0.333" stop-color="#ffe2e2"/><stop offset="0.367" stop-color="#ffe0e0"/><stop offset="0.400" stop-color="#ffe1e1"/><stop offset="0.433" stop-color="#ffe1e1"/><stop offset="0.467" stop-color="#ffe3e3"/><stop offset="0.500" stop-color="#ffebeb"/><stop offset="0.533" stop-color="#fff2f2"/><stop offset="0.567" stop-color="#fffafa"/><stop offset="0.600" stop-color="#fdfdff"/><stop offset="0.633" stop-color="#f5f5ff"/><stop offset="0.667" stop-color="#f3f3ff"/><stop offset="0.700" stop-color="#f1f1ff"/><stop offset="0.733" stop-color="#f0f0ff"/><stop offset="0.767" stop-color="#f4f4ff"/><stop offset="0.800" stop-color="#f8f8ff"/><stop offset="0.833" stop-color="#fbfbff"/><stop offset="0.867" stop-color="#ffffff"/><stop offset="0.900" stop-color="#fffbfb"/><stop offset="0.933" stop-color="#fff8f8"/><stop offset="0.967" stop-color="#fff4f4"/><stop offset="1.000" stop-color="#fff0f0"/></linearGradient><linearGradient id="g27"><stop offset="0.000" stop-color="#ffebeb"/><stop offset="0.033" stop-color="#ffeded"/><stop offset="0.067" stop-color="#ffefef"/><stop offset="0.100" stop-color="#fff0f0"/><stop offset="0.133" stop-color="#fff0f0"/><stop offset="0.167" stop-color="#fff0f0"/><stop offset="0.200" stop-color="#ffeeee"/><stop offset="0.233" stop-color="#ffeaea"/><stop offset="0.267" stop-color="#ffe7e7"/><stop offset="0.300" stop-color="#ffe4e4"/><stop offset="0.333" stop-color="#ffe3e3"/><stop offset="0.367" stop-color="#ffe1e1"/><stop offset="0.400" stop-color="#ffe1e1"/><stop offset="0.433" stop-color="#ffe1e1"/><stop offset="0.467" stop-color="#ffe4e4"/><stop offset="0.500" stop-color="#ffebeb"/><stop offset="0.533" stop-color="#fff3f3"/><stop offset="0.567" stop-color="#fffafa"/><stop offset="0.600" stop-color="#fdfdff"/><stop offset="0.633" stop-color="#f5f5ff"/><stop offset="0.667" stop-color="#f3f3ff"/><stop offset="0.700" stop-color="#f1f1ff"/><stop offset="0.733" stop-color="#f0f0ff"/><stop offset="0.767" stop-color="#f4f4ff"/><stop offset="0.800" stop-color="#f8f8ff"/><stop offset="0.833" stop-color="#fcfcff"/><stop offset="0.867" stop-color="#fffefe"/><stop offset="0.900" stop-color="#fffbfb"/><stop offset="0.933" stop-color="#fff7f7"/><stop offset="0.967" stop-color="#fff3f3"/><stop offset="1.000" stop-color="#ffefef"/></linearGradient><linearGradient id="g28"><stop offset="0.000" stop-color="#ffebeb"/><stop offset="0.033" stop-color="#ffeded"/><stop offset="0.067" stop-color="#ffefef"/><stop offset="0.100" stop-color="#fff0f0"/><stop offset="0.133" stop-color="#fff0f0"/><stop offset="0.167" stop-color="#fff1f1"/><stop offset="0.200" stop-color="#ffefef"/><stop offset="0.233" stop-color="#ffebeb"/><stop offset="0.267" stop-color="#ffe7e7"/><stop offset="0.300" stop-color="#ffe5e5"/><stop offset="0.333" stop-color="#ffe3e3"/><stop offset="0.367" stop-color="#ffe1e1"/><stop offset="0.400" stop-color="#ffe2e2"/><stop offset="0.433" stop-color="#ffe2e2"/><stop offset="0.467" stop-color="#ffe5e5"/><stop offset="0.500" stop-color="#ffeded"/><stop offset="0.533" stop-color="#fff4f4"/><stop offset="0.567" stop-color="#fffbfb"/><stop offset="0.600" stop-color="#fcfcff"/><stop offset="0.633" stop-color="#f5f5ff"/><stop offset="0.667" stop-color="#f3f3ff"/><stop offset="0.700" stop-color="#f1f1ff"/><stop offset="0.733" stop-color="#f0f0ff"/><stop offset="0.767" stop-color="#f4f4ff"/><stop offset="0.800" stop-color="#f8f8ff"/><stop offset="0.833" stop-color="#fcfcff"/><stop offset="0.867" stop-color="#fffefe"/><stop offset="0.900" stop-color="#fffafa"/><stop offset="0.933" stop-color="#fff6f6"/><stop offset="0.967" stop-color="#fff2f2"/><stop offset="1.000" stop-color="#ffefef"/></linearGradient><linearGradient id="g29"><stop offset="0.000" stop-color="#ffebeb"/><stop offset="0.033" stop-color="#ffeded"/><stop offset="0.067" stop-color="#ffefef"/><stop offset="0.100" stop-color="#fff1f1"/><stop offset="0.133" stop-color="#fff1f1"/><stop offset="0.167" stop-color="#fff1f1"/><stop offset="0.200" stop-color="#ffefef"/><stop offset="0.233" stop-color="#ffebeb"/><stop offset="0.267" stop-color="#ffe8e8"/><stop offset="0.300" stop-color="#ffe6e6"/><stop offset="0.333" stop-color="#ffe4e4"/><stop offset="0.367" stop-color="#ffe2e2"/><stop offset="0.400" stop-color="#ffe3e3"/><stop offset="0.433" stop-color="#ffe3e3"/><stop offset="0.467" stop-color="#ffe6e6"/><stop offset="0.500" stop-color="#ffeeee"/><stop offset="0.533" stop-color="#fff5f5"/><stop offset="0.567" stop-color="#fffcfc"/><stop offset="0.600" stop-color="#fcfcff"/><stop offset="0.633" stop-color="#f5f5ff"/><stop offset="0.667" stop-color="#f3f3ff"/><stop offset="0.700" stop-color="#f1f1ff"/><stop offset="0.733" stop-color="#f0f0ff"/><stop offset="0.767" stop-color="#f4f4ff"/><stop offset="0.800" stop-color="#f8f8ff"/><stop offset="0.833" stop-color="#fcfcff"/><stop offset="0.867" stop-color="#fffefe"/><stop offset="0.900" stop-color="#fffafa"/><stop offset="0.933" stop-color="#fff6f6"/><stop offset="0.967" stop-color="#fff2f2"/><stop offset="1.000" stop-color="#ffeeee"/></linearGradient><linearGradient id="g30"><stop offset="0.000" stop-color="#ffecec"/><stop offset="0.033" stop-color="#ffeeee"/><stop offset="0.067" stop-color="#ffefef"/><stop offset="0.100" stop-color="#fff1f1"/><stop offset="0.133" stop-color="#fff1f1"/><stop offset="0.167" stop-color="#fff2f2"/><stop offset="0.200" stop-color="#fff0f0"/><stop offset="0.233" stop-color="#ffecec"/><stop offset="0.267" stop-color="#ffe8e8"/><stop offset="0.300" stop-color="#ffe6e6"/><stop offset="0.333" stop-color="#ffe4e4"/><stop offset="0.367" stop-color="#ffe3e3"/><stop offset="0.400" stop-color="#ffe3e3"/><stop offset="0.433" stop-color="#ffe4e4"/><stop offset="0.467" stop-color="#ffe7e7"/><stop offset="0.500" stop-color="#ffefef"/><stop offset="0.533" stop-color="#fff6f6"/><stop offset="0.567" stop-color="#fffdfd"/><stop offset="0.600" stop-color="#fbfbff"/><stop offset="0.633" stop-color="#f5f5ff"/><stop offset="0.667" stop-color="#f3f3ff"/><stop offset="0.700" stop-color="#f1f1ff"/><stop offset="0.733" stop-color="#f0f0ff"/><stop offset="0.767" stop-color="#f4f4ff"/><stop offset="0.800" stop-color="#f8f8ff"/><stop offset="0.833" stop-color="#fcfcff"/><stop offset="0.867" stop-color="#fffefe"/><stop offset="0.900" stop-color="#fff9f9"/><stop offset="0.933" stop-color="#fff5f5"/><stop offset="0.967" stop-color="#fff1f1"/><stop offset="1.000" stop-color="#ffeeee"/></linearGradient><linearGradient id="g31"><stop offset="0.000" stop-color="#ffecec"/><stop offset="0.033" stop-color="#ffeeee"/><stop offset="0.067" stop-color="#fff0f0"/><stop offset="0.100" stop-color="#fff1f1"/><stop offset="0.133" stop-color="#fff2f2"/><stop offset="0.167" stop-color="#fff2f2"/><stop offset="0.200" stop-color="#fff0f0"/><stop offset="0.233" stop-color="#ffeded"/><stop offset="0.267" stop-color="#ffe9e9"/><stop offset="0.300" stop-color="#ffe7e7"/><stop offset="0.333" stop-color="#ffe5e5"/><stop offset="0.367" stop-color="#ffe3e3"/><stop offset="0.400" stop-color="#ffe4e4"/><stop offset="0.433" stop-color="#ffe5e5"/><stop offset="0.467" stop-color="#ffe9e9"/><stop offset="0.500" stop-color="#fff0f0"/><stop offset="0.533" stop-color="#fff8f8"/><stop offset="0.567" stop-color="#fffefe"/><stop offset="0.600" stop-color="#fbfbff"/><stop offset="0.633" stop-color="#f5f5ff"/><stop offset="0.667" stop-color="#f3f3ff"/><stop offset="0.700" stop-color="#f1f1ff"/><stop offset="0.733" stop-color="#f0f0ff"/><stop offset="0.767" stop-color="#f4f4ff"/><stop offset="0.800" stop-color="#f8f8ff"/><stop offset="0.833" stop-color="#fcfcff"/><stop offset="0.867" stop-color="#fffdfd"/><stop offset="0.900" stop-color="#fff8f8"/><stop offset="0.933" stop-color="#fff4f4"/><stop offset="0.967" stop-color="#fff1f1"/><stop offset="1.000" stop-color="#ffeded"/></linearGradient><linearGradient id="g32"><stop offset="0.000" stop-color="#ffecec"/><stop offset="0.033" stop-color="#ffeeee"/><stop offset="0.067" stop-color="#fff0f0"/><stop offset="0.100" stop-color="#fff2f2"/><stop offset="0.133" stop-color="#fff2f2"/><stop offset="0.167" stop-color="#fff3f3"/><stop offset="0.200" stop-color="#fff1f1"/><stop offset="0.233" stop-color="#ffeded"/><stop offset="0.267" stop-color="#ffe9e9"/><stop offset="0.300" stop-color="#ffe7e7"/><stop offset="0.333" stop-color="#ffe5e5"/><stop offset="0.367" stop-color="#ffe4e4"/><stop offset="0.400" stop-color="#ffe5e5"/><stop offset="0.433" stop-color="#ffe6e6"/><stop offset="0.467" stop-color="#ffeaea"/><stop offset="0.500" stop-color="#fff1f1"/><stop offset="0.533" stop-color="#fff9f9"/><stop offset="0.567" stop-color="#ffffff"/><stop offset="0.600" stop-color="#fafaff"/><stop offset="0.633" stop-color="#f5f5ff"/><stop offset="0.667" stop-color="#f3f3ff"/><stop offset="0.700" stop-color="#f1f1ff"/><stop offset="0.733" stop-color="#f0f0ff"/><stop offset="0.767" stop-color="#f4f4ff"/><stop offset="0.800" stop-color="#f8f8ff"/><stop offset="0.833" stop-color="#fcfcff"/><stop offset="0.867" stop-color="#fffdfd"/><stop offset="0.900" stop-color="#fff8f8"/><stop offset="0.933" stop-color="#fff4f4"/><stop offset="0.967" stop-color="#fff0f0"/><stop offset="1.000" stop-color="#ffecec"/></linearGradient><linearGradient id="g33"><stop offset="0.000" stop-color="#ffeded"/><stop offset="0.033" stop-color="#ffeeee"/><stop offset="0.067" stop-color="#fff0f0"/><stop offset="0.100" stop-color="#fff2f2"/><stop offset="0.133" stop-color="#fff3f3"/><stop offset="0.167" stop-color="#fff3f3"/><stop offset="0.200" stop-color="#fff2f2"/><stop offset="0.233" stop-color="#ffeeee"/><stop offset="0.267" stop-color="#ffeaea"/><stop offset="0.300" stop-color="#ffe8e8"/><stop offset="0.333" stop-color="#ffe6e6"/><stop offset="0.367" stop-color="#ffe4e4"/><stop offset="0.400" stop-color="#ffe6e6"/><stop offset="0.433" stop-color="#ffe7e7"/><stop offset="0.467" stop-color="#ffebeb"/><stop offset="0.500" stop-color="#fff2f2"/><stop offset="0.533" stop-color="#fffafa"/><stop offset="0.567" stop-color="#fefeff"/><stop offset="0.600" stop-color="#fafaff"/><stop offset="0.633" stop-color="#f5f5ff"/><stop offset="0.667" stop-color="#f3f3ff"/><stop offset="0.700" stop-color="#f1f1ff"/><stop offset="0.733" stop-color="#f0f0ff"/><stop offset="0.767" stop-color="#f4f4ff"/><stop offset="0.800" stop-color="#f8f8ff"/><stop offset="0.833" stop-color="#fcfcff"/><stop offset="0.867" stop-color="#fffdfd"/><stop offset="0.900" stop-color="#fff7f7"/><stop offset="0.933" stop-color="#fff3f3"/><stop offset="0.967" stop-color="#fff0f0"/><stop offset="1.000" stop-color="#ffecec"/></linearGradient><linearGradient id="g34"><stop offset="0.000" stop-color="#ffeded"/><stop offset="0.033" stop-color="#ffefef"/><stop offset="0.067" stop-color="#fff1f1"/><stop offset="0.100" stop-color="#fff2f2"/><stop offset="0.133" stop-color="#fff3f3"/><stop offset="0.167" stop-color="#fff4f4"/><stop offset="0.200" stop-color="#fff2f2"/><stop offset="0.233" stop-color="#ffeeee"/><stop offset="0.267" stop-color="#ffebeb"/><stop offset="0.300" stop-color="#ffe8e8"/><stop offset="0.333" stop-color="#ffe7e7"/><stop offset="0.367" stop-color="#ffe5e5"/><stop offset="0.400" stop-color="#ffe7e7"/><stop offset="0.433" stop-color="#ffe8e8"/><stop offset="0.467" stop-color="#ffecec"/><stop offset="0.500" stop-color="#fff4f4"/><stop offset="0.533" stop-color="#fffbfb"/><stop offset="0.567" stop-color="#fefeff"/><stop offset="0.600" stop-color="#f9f9ff"/><stop offset="0.633" stop-color="#f5f5ff"/><stop offset="0.667" stop-color="#f3f3ff"/><stop offset="0.700" stop-color="#f1f1ff"/><stop offset="0.733" stop-color="#f0f0ff"/><stop offset="0.767" stop-color="#f4f4ff"/><stop offset="0.800" stop-color="#f8f8ff"/><stop offset="0.833" stop-color="#fcfcff"/><stop offset="0.867" stop-color="#fffcfc"/><stop offset="0.900" stop-color="#fff7f7"/><stop offset="0.933" stop-color="#fff3f3"/><stop offset="0.967" stop-color="#ffefef"/><stop offset="1.000" stop-color="#ffebeb"/></linearGradient><linearGradient id="g35"><stop offset="0.000" stop-color="#ffeded"/><stop offset="0.033" stop-color="#ffefef"/><stop offset="0.067" stop-color="#fff1f1"/><stop offset="0.100" stop-color="#fff2f2"/><stop offset="0.133" stop-color="#fff3f3"/><stop offset="0.167" stop-color="#fff4f4"/><stop offset="0.200" stop-color="#fff3f3"/><stop offset="0.233" stop-color="#ffefef"/><stop offset="0.267" stop-color="#ffebeb"/><stop offset="0.300" stop-color="#ffe9e9"/><stop offset="0.333" stop-color="#ffe7e7"/><stop offset="0.367" stop-color="#ffe6e6"/><stop offset="0.400" stop-color="#ffe7e7"/><stop offset="0.433" stop-color="#ffe9e9"/><stop offset="0.467" stop-color="#ffeded"/><stop offset="0.500" stop-color="#fff5f5"/><stop offset="0.533" stop-color="#fffcfc"/><stop offset="0.567" stop-color="#fdfdff"/><stop offset="0.600" stop-color="#f9f9ff"/><stop offset="0.633" stop-color="#f5f5ff"/><stop offset="0.667" stop-color="#f3f3ff"/><stop offset="0.700" stop-color="#f1f1ff"/><stop offset="0.733" stop-color="#f0f0ff"/><stop offset="0.767" stop-color="#f4f4ff"/><stop offset="0.800" stop-color="#f8f8ff"/><stop offset="0.833" stop-color="#fcfcff"/><stop offset="0.867" stop-color="#fffcfc"/><stop offset="0.900" stop-color="#fff6f6"/><stop offset="0.933" stop-color="#fff2f2"/><stop offset="0.967" stop-color="#ffeeee"/><stop offset="1.000" stop-color="#ffebeb"/></linearGradient><linearGradient id="g36"><stop offset="0.000" stop-color="#ffeded"/><stop offset="0.033" stop-color="#ffefef"/><stop offset="0.067" stop-color="#fff1f1"/><stop offset="0.100" stop-color="#fff3f3"/><stop offset="0.133" stop-color="#fff4f4"/><stop offset="0.167" stop-color="#fff5f5"/><stop offset="0.200" stop-color="#fff3f3"/><stop offset="0.233" stop-color="#ffefef"/><stop offset="0.267" stop-color="#ffecec"/><stop offset="0.300" stop-color="#ffeaea"/><stop offset="0.333" stop-color="#ffe8e8"/><stop offset="0.367" stop-color="#ffe6e6"/><stop offset="0.400" stop-color="#ffe8e8"/><stop offset="0.433" stop-color="#ffeaea"/><stop offset="0.467" stop-color="#ffeeee"/><stop offset="0.500" stop-color="#fff5f5"/><stop offset="0.533" stop-color="#fffcfc"/><stop offset="0.567" stop-color="#fdfdff"/><stop offset="0.600" stop-color="#f9f9ff"/><stop offset="0.633" stop-color="#f5f5ff"/><stop offset="0.667" stop-color="#f3f3ff"/><stop offset="0.700" stop-color="#f2f2ff"/><stop offset="0.733" stop-color="#f1f1ff"/><stop offset="0.767" stop-color="#f5f5ff"/><stop offset="0.800" stop-color="#f8f8ff"/><stop offset="0.833" stop-color="#fdfdff"/><stop offset="0.867" stop-color="#fffcfc"/><stop offset="0.900" stop-color="#fff6f6"/><stop offset="0.933" stop-color="#fff2f2"/><stop offset="0.967" stop-color="#ffeeee"/><stop offset="1.000" stop-color="#ffebeb"/></linearGradient><linearGradient id="g37"><stop offset="0.000" stop-color="#ffeeee"/><stop offset="0.033" stop-color="#fff0f0"/><stop offset="0.067" stop-color="#fff1f1"/><stop offset="0.100" stop-color="#fff3f3"/><stop offset="0.133" stop-color="#fff4f4"/><stop offset="0.167" stop-color="#fff5f5"/><stop offset="0.200" stop-color="#fff3f3"/><stop offset="0.233" stop-color="#fff0f0"/><stop offset="0.267" stop-color="#ffecec"/><stop offset="0.300" stop-color="#ffeaea"/><stop offset="0.333" stop-color="#ffe8e8"/><stop offset="0.367" stop-color="#ffe7e7"/><stop offset="0.400" stop-color="#ffe9e9"/><stop offset="0.433" stop-color="#ffebeb"/><stop offset="0.467" stop-color="#ffeeee"/><stop offset="0.500" stop-color="#fff5f5"/><stop offset="0.533" stop-color="#fffcfc"/><stop offset="0.567" stop-color="#fdfdff"/><stop offset="0.600" stop-color="#f9f9ff"/><stop offset="0.633" stop-color="#f5f5ff"/><stop offset="0.667" stop-color="#f3f3ff"/><stop offset="0.700" stop-color="#f2f2ff"/><stop offset="0.733" stop-color="#f1f1ff"/><stop offset="0.767" stop-color="#f5f5ff"/><stop offset="0.800" stop-color="#f9f9ff"/><stop offset="0.833" stop-color="#fdfdff"/><stop offset="0.867" stop-color="#fffbfb"/><stop offset="0.900" stop-color="#fff6f6"/><stop offset="0.933" stop-color="#fff2f2"/><stop offset="0.967" stop-color="#ffeeee"/><stop offset="1.000" stop-color="#ffebeb"/></linearGradient><linearGradient id="g38"><stop offset="0.000" stop-color="#ffeeee"/><stop offset="0.033" stop-color="#fff0f0"/><stop offset="0.067" stop-color="#fff2f2"/><stop offset="0.100" stop-color="#fff3f3"/><stop offset="0.133" stop-color="#fff4f4"/><stop offset="0.167" stop-color="#fff5f5"/><stop offset="0.200" stop-color="#fff4f4"/><stop offset="0.233" stop-color="#fff0f0"/><stop offset="0.267" stop-color="#ffeded"/><stop offset="0.300" stop-color="#ffebeb"/><stop offset="0.333" stop-color="#ffe9e9"/><stop offset="0.367" stop-color="#ffe7e7"/><stop offset="0.400" stop-color="#ffe9e9"/><stop offset="0.433" stop-color="#ffebeb"/><stop offset="0.467" stop-color="#ffefef"/><stop offset="0.500" stop-color="#fff6f6"/><stop offset="0.533" stop-color="#fffdfd"/><stop offset="0.567" stop-color="#fdfdff"/><stop offset="0.600" stop-color="#f9f9ff"/><stop offset="0.633" stop-color="#f5f5ff"/><stop offset="0.667" stop-color="#f4f4ff"/><stop offset="0.700" stop-color="#f2f2ff"/><stop offset="0.733" stop-color="#f2f2ff"/><stop offset="0.767" stop-color="#f6f6ff"/><stop offset="0.800" stop-color="#fafaff"/><stop offset="0.833" stop-color="#fefeff"/><stop offset="0.867" stop-color="#fffbfb"/><stop offset="0.900" stop-color="#fff6f6"/><stop offset="0.933" stop-color="#fff2f2"/><stop offset="0.967" stop-color="#ffeeee"/><stop offset="1.000" stop-color="#ffebeb"/></linearGradient><linearGradient id="g39"><stop offset="0.000" stop-color="#ffeeee"/><stop offset="0.033" stop-color="#fff0f0"/><stop offset="0.067" stop-color="#fff2f2"/><stop offset="0.100" stop-color="#fff4f4"/><stop offset="0.133" stop-color="#fff5f5"/><stop offset="0.167" stop-color="#fff6f6"/><stop offset="0.200" stop-color="#fff4f4"/><stop offset="0.233" stop-color="#fff1f1"/><stop offset="0.267" stop-color="#ffeded"/><stop offset="0.300" stop-color="#ffebeb"/><stop offset="0.333" stop-color="#ffe9e9"/><stop offset="0.367" stop-color="#ffe8e8"/><stop offset="0.400" stop-color="#ffeaea"/><stop offset="0.433" stop-color="#ffecec"/><stop offset="0.467" stop-color="#ffefef"/><stop offset="0.500" stop-color="#fff6f6"/><stop offset="0.533" stop-color="#fffdfd"/><stop offset="0.567" stop-color="#fdfdff"/><stop offset="0.600" stop-color="#f9f9ff"/><stop offset="0.633" stop-color="#f5f5ff"/><stop offset="0.667" stop-color="#f4f4ff"/><stop offset="0.700" stop-color="#f3f3ff"/><stop offset="0.733" stop-color="#f3f3ff"/><stop offset="0.767" stop-color="#f6f6ff"/><stop offset="0.800" stop-color="#fafaff"/><stop offset="0.833" stop-color="#fefeff"/><stop offset="0.867" stop-color="#fffbfb"/><stop offset="0.900" stop-color="#fff6f6"/><stop offset="0.933" stop-color="#fff2f2"/><stop offset="0.967" stop-color="#ffeeee"/><stop offset="1.000" stop-color="#ffebeb"/></linearGradient><linearGradient id="g40"><stop offset="0.000" stop-color="#ffefef"/><stop offset="0.033" stop-color="#fff0f0"/><stop offset="0.067" stop-color="#fff2f2"/><stop offset="0.100" stop-color="#fff4f4"/><stop offset="0.133" stop-color="#fff5f5"/><stop offset="0.167" stop-color="#fff6f6"/><stop offset="0.200" stop-color="#fff4f4"/><stop offset="0.233" stop-color="#fff1f1"/><stop offset="0.267" stop-color="#ffeeee"/><stop offset="0.300" stop-color="#ffecec"/><stop offset="0.333" stop-color="#ffeaea"/><stop offset="0.367" stop-color="#ffe9e9"/><stop offset="0.400" stop-color="#ffeaea"/><stop offset="0.433" stop-color="#ffecec"/><stop offset="0.467" stop-color="#fff0f0"/><stop offset="0.500" stop-color="#fff6f6"/><stop offset="0.533" stop-color="#fffdfd"/><stop offset="0.567" stop-color="#fdfdff"/><stop offset="0.600" stop-color="#f9f9ff"/><stop offset="0.633" stop-color="#f5f5ff"/><stop offset="0.667" stop-color="#f4f4ff"/><stop offset="0.700" stop-color="#f3f3ff"/><stop offset="0.733" stop-color="#f3f3ff"/><stop offset="0.767" stop-color="#f7f7ff"/><stop offset="0.800" stop-color="#fbfbff"/><stop offset="0.833" stop-color="#ffffff"/><stop offset="0.867" stop-color="#fffbfb"/><stop offset="0.900" stop-color="#fff6f6"/><stop offset="0.933" stop-color="#fff2f2"/><stop offset="0.967" stop-color="#ffeeee"/><stop offset="1.000" stop-color="#ffebeb"/></linearGradient><linearGradient id="g41"><stop offset="0.000" stop-color="#ffefef"/><stop offset="0.033" stop-color="#fff1f1"/><stop offset="0.067" stop-color="#fff3f3"/><stop offset="0.100" stop-color="#fff4f4"/><stop offset="0.133" stop-color="#fff5f5"/><stop offset="0.167" stop-color="#fff6f6"/><stop offset="0.200" stop-color="#fff5f5"/><stop offset="0.233" stop-color="#fff2f2"/><stop offset="0.267" stop-color="#ffefef"/><stop offset="0.300" stop-color="#ffecec"/><stop offset="0.333" stop-color="#ffebeb"/><stop offset="0.367" stop-color="#ffe9e9"/><stop offset="0.400" stop-color="#ffebeb"/><stop offset="0.433" stop-color="#ffeded"/><stop offset="0.467" stop-color="#fff0f0"/><stop offset="0.500" stop-color="#fff7f7"/><stop offset="0.533" stop-color="#fffdfd"/><stop offset="0.567" stop-color="#fdfdff"/><stop offset="0.600" stop-color="#f9f9ff"/><stop offset="0.633" stop-color="#f5f5ff"/><stop offset="0.667" stop-color="#f4f4ff"/><stop offset="0.700" stop-color="#f4f4ff"/><stop offset="0.733" stop-color="#f4f4ff"/><stop offset="0.767" stop-color="#f8f8ff"/><stop offset="0.800" stop-color="#fbfbff"/><stop offset="0.833" stop-color="#ffffff"/><stop offset="0.867" stop-color="#fffafa"/><stop offset="0.900" stop-color="#fff6f6"/><stop offset="0.933" stop-color="#fff2f2"/><stop offset="0.967" stop-color="#ffeeee"/><stop offset="1.000" stop-color="#ffebeb"/></linearGradient><linearGradient id="g42"><stop offset="0.000" stop-color="#ffefef"/><stop offset="0.033" stop-color="#fff1f1"/><stop offset="0.067" stop-color="#fff3f3"/><stop offset="0.100" stop-color="#fff5f5"/><stop offset="0.133" stop-color="#fff5f5"/><stop offset="0.167" stop-color="#fff6f6"/><stop offset="0.200" stop-color="#fff5f5"/><stop offset="0.233" stop-color="#fff2f2"/><stop offset="0.267" stop-color="#ffefef"/><stop offset="0.300" stop-color="#ffeded"/><stop offset="0.333" stop-color="#ffebeb"/><stop offset="0.367" stop-color="#ffeaea"/><stop offset="0.400" stop-color="#ffecec"/><stop offset="0.433" stop-color="#ffeded"/><stop offset="0.467" stop-color="#fff1f1"/><stop offset="0.500" stop-color="#fff7f7"/><stop offset="0.533" stop-color="#fffdfd"/><stop offset="0.567" stop-color="#fdfdff"/><stop offset="0.600" stop-color="#f9f9ff"/><stop offset="0.633" stop-color="#f5f5ff"/><stop offset="0.667" stop-color="#f4f4ff"/><stop offset="0.700" stop-color="#f4f4ff"/><stop offset="0.733" stop-color="#f4f4ff"/><stop offset="0.767" stop-color="#f8f8ff"/><stop offset="0.800" stop-color="#fcfcff"/><stop offset="0.833" stop-color="#fffefe"/><stop offset="0.867" stop-color="#fffafa"/><stop offset="0.900" stop-color="#fff6f6"/><stop offset="0.933" stop-color="#fff2f2"/><stop offset="0.967" stop-color="#ffeeee"/><stop offset="1.000" stop-color="#ffebeb"/></linearGradient><linearGradient id="g43"><stop offset="0.000" stop-color="#ffefef"/><stop offset="0.033" stop-color="#fff1f1"/><stop offset="0.067" stop-color="#fff3f3"/><stop offset="0.100" stop-color="#fff5f5"/><stop offset="0.133" stop-color="#fff6f6"/><stop offset="0.167" stop-color="#fff7f7"/><stop offset="0.200" stop-color="#fff6f6"/><stop offset="0.233" stop-color="#fff3f3"/><stop offset="0.267" stop-color="#fff0f0"/><stop offset="0.300" stop-color="#ffeeee"/><stop offset="0.333" stop-color="#ffecec"/><stop offset="0.367" stop-color="#ffeaea"/><stop offset="0.400" stop-color="#ffecec"/><stop offset="0.433" stop-color="#ffeeee"/><stop offset="0.467" stop-color="#fff1f1"/><stop offset="0.500" stop-color="#fff7f7"/><stop offset="0.533" stop-color="#fffdfd"/><stop offset="0.567" stop-color="#fdfdff"/><stop offset="0.600" stop-color="#f9f9ff"/><stop offset="0.633" stop-color="#f5f5ff"/><stop offset="0.667" stop-color="#f5f5ff"/><stop offset="0.700" stop-color="#f4f4ff"/><stop offset="0.733" stop-color="#f5f5ff"/><stop offset="0.767" stop-color="#f9f9ff"/><stop offset="0.800" stop-color="#fcfcff"/><stop offset="0.833" stop-color="#fffefe"/><stop offset="0.867" stop-color="#fffafa"/><stop offset="0.900" stop-color="#fff6f6"/><stop offset="0.933" stop-color="#fff2f2"/><stop offset="0.967" stop-color="#ffeeee"/><stop offset="1.000" stop-color="#ffebeb"/></linearGradient><linearGradient id="g44"><stop offset="0.000" stop-color="#fff0f0"/><stop offset="0.033" stop-color="#fff2f2"/><stop offset="0.067" stop-color="#fff3f3"/><stop offset="0.100" stop-color="#fff5f5"/><stop offset="0.133" stop-color="#fff6f6"/><stop offset="0.167" stop-color="#fff7f7"/><stop offset="0.200" stop-color="#fff6f6"/><stop offset="0.233" stop-color="#fff3f3"/><stop offset="0.267" stop-color="#fff0f0"/><stop offset="0.300" stop-color="#ffeeee"/><stop offset="0.333" stop-color="#ffecec"/><stop offset="0.367" stop-color="#ffebeb"/><stop offset="0.400" stop-color="#ffeded"/><stop offset="0.433" stop-color="#ffeeee"/><stop offset="0.467" stop-color="#fff2f2"/><stop offset="0.500" stop-color="#fff7f7"/><stop offset="0.533" stop-color="#fffdfd"/><stop offset="0.567" stop-color="#fdfdff"/><stop offset="0.600" stop-color="#f9f9ff"/><stop offset="0.633" stop-color="#f5f5ff"/><stop offset="0.667" stop-color="#f5f5ff"/><stop offset="0.700" stop-color="#f5f5ff"/><stop offset="0.733" stop-color="#f5f5ff"/><stop offset="0.767" stop-color="#f9f9ff"/><stop offset="0.800" stop-color="#fdfdff"/><stop offset="0.833" stop-color="#fffdfd"/><stop offset="0.867" stop-color="#fffafa"/><stop offset="0.900" stop-color="#fff6f6"/><stop offset="0.933" stop-color="#fff2f2"/><stop offset="0.967" stop-color="#ffeeee"/><stop offset="1.000" stop-color="#ffebeb"/></linearGradient></defs>
<rect x="21.4" y="19.5" width="184.4" height="2.3" fill="url(#g1)"/><rect x="21.4" y="21.5" width="184.4" height="2.3" fill="url(#g2)"/><rect x="21.4" y="23.5" width="184.4" height="2.3" fill="url(#g3)"/><rect x="21.4" y="25.5" width="184.4" height="2.3" fill="url(#g4)"/><rect x="21.4" y="27.5" width="184.4" height="2.3" fill="url(#g5)"/><rect x="21.4" y="29.5" width="184.4" height="2.3" fill="url(#g6)"/><rect x="21.4" y="31.5" width="184.4" height="2.3" fill="url(#g7)"/><rect x="21.4" y="33.5" width="184.4" height="2.3" fill="url(#g8)"/><rect x="21.4" y="35.5" width="184.4" height="2.3" fill="url(#g9)"/><rect x="21.4" y="37.5" width="184.4" height="2.3" fill="url(#g10)"/><rect x="21.4" y="39.5" width="184.4" height="2.3" fill="url(#g11)"/><rect x="21.4" y="41.5" width="184.4" height="2.3" fill="url(#g12)"/><rect x="21.4" y="43.5" width="184.4" height="2.3" fill="url(#g13)"/><rect x="21.4" y="45.5" width="184.4" height="2.3" fill="url(#g14)"/><rect x="21.4" y="47.5" width="184.4" height="2.3" fill="url(#g15)"/><rect x="21.4" y="49.5" width="184.4" height="2.3" fill="url(#g16)"/><rect x="21.4" y="51.5" width="184.4" height="2.3" fill="url(#g17)"/><rect x="21.4" y="53.5" width="184.4" height="2.3" fill="url(#g18)"/><rect x="21.4" y="55.5" width="184.4" height="2.3" fill="url(#g19)"/><rect x="21.4" y="57.5" width="184.4" height="2.3" fill="url(#g20)"/><rect x="21.4" y="59.5" width="184.4" height="2.3" fill="url(#g21)"/><rect x="21.4" y="61.5" width="184.4" height="2.3" fill="url(#g22)"/><rect x="21.4" y="63.5" width="184.4" height="2.3" fill="url(#g23)"/><rect x="21.4" y="65.5" width="184.4" height="2.3" fill="url(#g24)"/><rect x="21.4" y="67.5" width="184.4" height="2.3" fill="url(#g25)"/><rect x="21.4" y="69.5" width="184.4" height="2.3" fill="url(#g26)"/><rect x="21.4" y="71.5" width="184.4" height="2.3" fill="url(#g27)"/><rect x="21.4" y="73.5" width="184.4" height="2.3" fill="url(#g28)"/><rect x="21.4" y="75.5" width="184.4" height="2.3" fill="url(#g29)"/><rect x="21.4" y="77.5" width="184.4" height="2.3" fill="url(#g30)"/><rect x="21.4" y="79.5" width="184.4" height="2.3" fill="url(#g31)"/><rect x="21.4" y="81.5" width="184.4" height="2.3" fill="url(#g32)"/><rect x="21.4" y="83.5" width="184.4" height="2.3" fill="url(#g33)"/><rect x="21.4" y="85.5" width="184.4" height="2.3" fill="url(#g34)"/><rect x="21.4" y="87.5" width="184.4" height="2.3" fill="url(#g35)"/><rect x="21.4" y="89.5" width="184.4" height="2.3" fill="url(#g36)"/><rect x="21.4" y="91.5" width="184.4" height="2.3" fill="url(#g37)"/><rect x="21.4" y="93.5" width="184.4" height="2.3" fill="url(#g38)"/><rect x="21.4" y="95.5" width="184.4" height="2.3" fill="url(#g39)"/><rect x="21.4" y="97.5" width="184.4" height="2.3" fill="url(#g40)"/><rect x="21.4" y="99.5" width="184.4" height="2.3" fill="url(#g41)"/><rect x="21.4" y="101.5" width="184.4" height="2.3" fill="url(#g42)"/><rect x="21.4" y="103.5" width="184.4" height="2.3" fill="url(#g43)"/><rect x="21.4" y="105.5" width="184.4" height="1.1" fill="url(#g44)"/>
<clipPath id="clipA"><rect x="21.4" y="19.5" width="184.4" height="86.8"/></clipPath>
<g clip-path="url(#clipA)">
<path d="M21.4 31.3 L38.1 27.7 L54.9 24.1 L71.6 32.5 L88.6 23 L96 31 L100.5 34 L109.6 34.8 L123.1 31.5 L140 30.5 L160 32.8 L177 34.8 L205.8 35.8" stroke="#303030" stroke-width="0.45" fill="none"/>
<path d="M21.4 47.8 L39.5 44.4 L54.6 45.3 L71.1 53.1 L80 48.6 L90 43.1 L105 48.4 L112.6 38.6 L123.1 34.1 L137.8 33.6 L146.2 37 L150 38.6 L170.3 42.7 L189.2 50.1 L205.8 50.8" stroke="#303030" stroke-width="0.45" fill="none"/>
<path d="M90 19.5 L97 25 L104 28.5 L112 29.5 L125 28 L140 27.2 L160 28.8 L180 31 L205.8 32" stroke="#303030" stroke-width="0.45" fill="none"/>
<path d="M93 19.5 L100 23.5 L110 25.5 L125 24.5 L145 23.8 L165 25 L185 27 L205.8 28" stroke="#303030" stroke-width="0.45" fill="none"/>
<path d="M98 19.5 L106 21.8 L120 22.3 L140 21.5 L158 21.5 L180 22.8 L205.8 24.5" stroke="#303030" stroke-width="0.45" fill="none"/>
<path d="M150 19.5 L175 20.5 L205.8 21.5" stroke="#303030" stroke-width="0.45" fill="none"/>
<path d="M106 19.5 L130 20.3 L150 20 L160 19.5" stroke="#303030" stroke-width="0.45" fill="none"/>
<text x="39" y="19.8" font-size="6.1" text-anchor="middle" fill="#1a1a1a" dominant-baseline="central" stroke="#222" stroke-width="0.06">0.0</text>
<text x="71.5" y="19.8" font-size="6.1" text-anchor="middle" fill="#1a1a1a" dominant-baseline="central" stroke="#222" stroke-width="0.06">0.0</text>
<path d="M21.4 50.33 L38.16 52.27 L54.93 61.07 L71.69 61.07 L88.45 50.33 L105.22 25.52 L121.98 21.47 L138.75 22.35 L155.51 26.75 L172.27 31.68 L189.04 37.66 L205.8 45.23" stroke="#b22222" stroke-width="0.9" fill="none"/>
<path d="M21.4 53.68 L38.16 57.72 L54.93 64.06 L71.69 60.89 L88.45 46.46 L105.22 22.7 L121.98 20.06 L138.75 20.94 L155.51 25.34 L172.27 30.44 L189.04 36.6 L205.8 44.35" stroke="#b22222" stroke-width="0.9" fill="none" stroke-dasharray="3,1.4"/>
</g>
<rect x="21.4" y="19.5" width="184.4" height="86.8" fill="none" stroke="#333" stroke-width="0.7"/>
<path d="M21.4 106.3 L21.4 108.3" stroke="#333" stroke-width="0.6" fill="none"/>
<text x="21.4" y="114.6" font-size="6.1" text-anchor="middle" fill="#1a1a1a">Jan</text>
<path d="M38.16 106.3 L38.16 108.3" stroke="#333" stroke-width="0.6" fill="none"/>
<text x="38.16" y="114.6" font-size="6.1" text-anchor="middle" fill="#1a1a1a">Feb</text>
<path d="M54.93 106.3 L54.93 108.3" stroke="#333" stroke-width="0.6" fill="none"/>
<text x="54.93" y="114.6" font-size="6.1" text-anchor="middle" fill="#1a1a1a">Mar</text>
<path d="M71.69 106.3 L71.69 108.3" stroke="#333" stroke-width="0.6" fill="none"/>
<text x="71.69" y="114.6" font-size="6.1" text-anchor="middle" fill="#1a1a1a">Apr</text>
<path d="M88.45 106.3 L88.45 108.3" stroke="#333" stroke-width="0.6" fill="none"/>
<text x="88.45" y="114.6" font-size="6.1" text-anchor="middle" fill="#1a1a1a">May</text>
<path d="M105.22 106.3 L105.22 108.3" stroke="#333" stroke-width="0.6" fill="none"/>
<text x="105.22" y="114.6" font-size="6.1" text-anchor="middle" fill="#1a1a1a">Jun</text>
<path d="M121.98 106.3 L121.98 108.3" stroke="#333" stroke-width="0.6" fill="none"/>
<text x="121.98" y="114.6" font-size="6.1" text-anchor="middle" fill="#1a1a1a">Jul</text>
<path d="M138.75 106.3 L138.75 108.3" stroke="#333" stroke-width="0.6" fill="none"/>
<text x="138.75" y="114.6" font-size="6.1" text-anchor="middle" fill="#1a1a1a">Aug</text>
<path d="M155.51 106.3 L155.51 108.3" stroke="#333" stroke-width="0.6" fill="none"/>
<text x="155.51" y="114.6" font-size="6.1" text-anchor="middle" fill="#1a1a1a">Sep</text>
<path d="M172.27 106.3 L172.27 108.3" stroke="#333" stroke-width="0.6" fill="none"/>
<text x="172.27" y="114.6" font-size="6.1" text-anchor="middle" fill="#1a1a1a">Oct</text>
<path d="M189.04 106.3 L189.04 108.3" stroke="#333" stroke-width="0.6" fill="none"/>
<text x="189.04" y="114.6" font-size="6.1" text-anchor="middle" fill="#1a1a1a">Nov</text>
<path d="M205.8 106.3 L205.8 108.3" stroke="#333" stroke-width="0.6" fill="none"/>
<text x="205.8" y="114.6" font-size="6.1" text-anchor="middle" fill="#1a1a1a">Dec</text>
<path d="M19.4 35.9 L21.4 35.9" stroke="#333" stroke-width="0.6" fill="none"/>
<text x="18.4" y="38.1" font-size="6.1" text-anchor="end" fill="#1a1a1a">10</text>
<path d="M19.4 53.5 L21.4 53.5" stroke="#333" stroke-width="0.6" fill="none"/>
<text x="18.4" y="55.7" font-size="6.1" text-anchor="end" fill="#1a1a1a">20</text>
<path d="M19.4 71.1 L21.4 71.1" stroke="#333" stroke-width="0.6" fill="none"/>
<text x="18.4" y="73.3" font-size="6.1" text-anchor="end" fill="#1a1a1a">30</text>
<path d="M19.4 88.7 L21.4 88.7" stroke="#333" stroke-width="0.6" fill="none"/>
<text x="18.4" y="90.9" font-size="6.1" text-anchor="end" fill="#1a1a1a">40</text>
<path d="M19.4 106.3 L21.4 106.3" stroke="#333" stroke-width="0.6" fill="none"/>
<text x="18.4" y="108.5" font-size="6.1" text-anchor="end" fill="#1a1a1a">50</text>
<text x="114" y="122.3" font-size="6.2" text-anchor="middle" fill="#1a1a1a">month</text>
<text x="10" y="62.5" font-size="6.7" text-anchor="middle" fill="#1a1a1a" transform="rotate(-90 10 62.5)">depth [m]</text>
<text x="10.6" y="18" font-size="11.2" text-anchor="start" fill="#111" font-weight="bold" textLength="12.6" lengthAdjust="spacingAndGlyphs">(a)</text>
<text x="30.7" y="16" font-size="7.0" text-anchor="start" fill="#1a1a1a" textLength="166" lengthAdjust="spacingAndGlyphs">Difference of Eddy Kinetic Energy (EKE),  POST.lvl - POST.rdg</text>
<text x="84.5" y="43.5" font-size="6.1" text-anchor="middle" fill="#1a1a1a" transform="rotate(-40 84.5 43.5)" dominant-baseline="central" stroke="#222" stroke-width="0.06">0.2</text>
<text x="138.4" y="28" font-size="6.1" text-anchor="middle" fill="#1a1a1a" dominant-baseline="central" stroke="#222" stroke-width="0.06">0.4</text>
<text x="147.4" y="27.4" font-size="6.1" text-anchor="middle" fill="#1a1a1a" transform="rotate(-80 147.4 27.4)" dominant-baseline="central" stroke="#222" stroke-width="0.06">0.8</text>
<text x="138.5" y="21.5" font-size="5.6" text-anchor="middle" fill="#1a1a1a" transform="rotate(-80 138.5 21.5)" dominant-baseline="central" stroke="#222" stroke-width="0.06">1.2</text>
<text x="145.5" y="21.5" font-size="5.6" text-anchor="middle" fill="#1a1a1a" transform="rotate(-80 145.5 21.5)" dominant-baseline="central" stroke="#222" stroke-width="0.06">1.6</text>
<rect x="114.6" y="86.6" width="89.4" height="16.8" rx="1" fill="#fff" fill-opacity="0.8" stroke="#d0d0d0" stroke-width="0.5"/>
<path d="M116.2 90.2 L127 90.2" stroke="#b22222" stroke-width="0.9" fill="none"/>
<path d="M116.2 98.4 L127 98.4" stroke="#b22222" stroke-width="0.9" fill="none" stroke-dasharray="3,1.4"/>
<text x="131.2" y="92.4" font-size="6.1" text-anchor="start" fill="#1a1a1a" textLength="70" lengthAdjust="spacingAndGlyphs">Mixed layer depth, POST.rdg</text>
<text x="131.2" y="100.6" font-size="6.1" text-anchor="start" fill="#1a1a1a" textLength="68.5" lengthAdjust="spacingAndGlyphs">Mixed layer depth, POST.lvl</text>
<defs><linearGradient id="cb45" x1="0" y1="0" x2="0" y2="1"><stop offset="0" stop-color="#f00"/><stop offset="0.5" stop-color="#fff"/><stop offset="1" stop-color="#00f"/></linearGradient></defs>
<rect x="211.4" y="31.8" width="5.5" height="74.6" fill="url(#cb45)" stroke="#333" stroke-width="0.4"/>
<path d="M216.9 31.8 L218.9 31.8" stroke="#333" stroke-width="0.6" fill="none"/>
<text x="219.9" y="33.95" font-size="6.0" text-anchor="start" fill="#1a1a1a">0.5</text>
<path d="M216.9 46.72 L218.9 46.72" stroke="#333" stroke-width="0.6" fill="none"/>
<text x="219.9" y="48.87" font-size="6.0" text-anchor="start" fill="#1a1a1a">0.3</text>
<path d="M216.9 61.64 L218.9 61.64" stroke="#333" stroke-width="0.6" fill="none"/>
<text x="219.9" y="63.79" font-size="6.0" text-anchor="start" fill="#1a1a1a">0.1</text>
<path d="M216.9 76.56 L218.9 76.56" stroke="#333" stroke-width="0.6" fill="none"/>
<text x="219.9" y="78.71" font-size="6.0" text-anchor="start" fill="#1a1a1a">−0.1</text>
<path d="M216.9 91.48 L218.9 91.48" stroke="#333" stroke-width="0.6" fill="none"/>
<text x="219.9" y="93.63" font-size="6.0" text-anchor="start" fill="#1a1a1a">−0.3</text>
<path d="M216.9 106.4 L218.9 106.4" stroke="#333" stroke-width="0.6" fill="none"/>
<text x="219.9" y="108.55" font-size="6.0" text-anchor="start" fill="#1a1a1a">−0.5</text>
<text x="238.4" y="68.2" font-size="6.4" text-anchor="middle" fill="#1a1a1a" transform="rotate(-90 238.4 68.2)">EKE  [10<tspan dy="-2.2" font-size="4">−3</tspan><tspan dy="2.2">m<tspan dy="-2.2" font-size="4">2</tspan><tspan dy="2.2">s<tspan dy="-2.2" font-size="4">−2</tspan><tspan dy="2.2">]</tspan></tspan></tspan></text>
<defs><linearGradient id="g46"><stop offset="0.000" stop-color="#ffd8d8"/><stop offset="0.033" stop-color="#ffd3d3"/><stop offset="0.067" stop-color="#ffcfcf"/><stop offset="0.100" stop-color="#ffcaca"/><stop offset="0.133" stop-color="#ffc5c5"/><stop offset="0.167" stop-color="#ffc0c0"/><stop offset="0.200" stop-color="#ffbebe"/><stop offset="0.233" stop-color="#ffbebe"/><stop offset="0.267" stop-color="#ffbdbd"/><stop offset="0.300" stop-color="#ffbbbb"/><stop offset="0.333" stop-color="#ffb8b8"/><stop offset="0.367" stop-color="#ffb6b6"/><stop offset="0.400" stop-color="#ffbfbf"/><stop offset="0.433" stop-color="#ffc8c8"/><stop offset="0.467" stop-color="#ffd7d7"/><stop offset="0.500" stop-color="#ffefef"/><stop offset="0.533" stop-color="#f7f7ff"/><stop offset="0.567" stop-color="#fffafa"/><stop offset="0.600" stop-color="#ffd8d8"/><stop offset="0.633" stop-color="#ffb7b7"/><stop offset="0.667" stop-color="#ffa6a6"/><stop offset="0.700" stop-color="#ff9797"/><stop offset="0.733" stop-color="#ff8b8b"/><stop offset="0.767" stop-color="#ff9090"/><stop offset="0.800" stop-color="#ff9595"/><stop offset="0.833" stop-color="#ff9b9b"/><stop offset="0.867" stop-color="#ffa2a2"/><stop offset="0.900" stop-color="#ffa9a9"/><stop offset="0.933" stop-color="#ffafaf"/><stop offset="0.967" stop-color="#ffb3b3"/><stop offset="1.000" stop-color="#ffb8b8"/></linearGradient><linearGradient id="g47"><stop offset="0.000" stop-color="#ffd8d8"/><stop offset="0.033" stop-color="#ffd2d2"/><stop offset="0.067" stop-color="#ffcdcd"/><stop offset="0.100" stop-color="#ffc8c8"/><stop offset="0.133" stop-color="#ffc3c3"/><stop offset="0.167" stop-color="#ffbfbf"/><stop offset="0.200" stop-color="#ffbcbc"/><stop offset="0.233" stop-color="#ffbbbb"/><stop offset="0.267" stop-color="#ffbaba"/><stop offset="0.300" stop-color="#ffb7b7"/><stop offset="0.333" stop-color="#ffb2b2"/><stop offset="0.367" stop-color="#ffafaf"/><stop offset="0.400" stop-color="#ffb4b4"/><stop offset="0.433" stop-color="#ffb9b9"/><stop offset="0.467" stop-color="#ffc3c3"/><stop offset="0.500" stop-color="#ffd4d4"/><stop offset="0.533" stop-color="#ffe6e6"/><stop offset="0.567" stop-color="#ffdada"/><stop offset="0.600" stop-color="#ffbfbf"/><stop offset="0.633" stop-color="#ffa3a3"/><stop offset="0.667" stop-color="#ff9898"/><stop offset="0.700" stop-color="#ff8f8f"/><stop offset="0.733" stop-color="#ff8888"/><stop offset="0.767" stop-color="#ff8e8e"/><stop offset="0.800" stop-color="#ff9393"/><stop offset="0.833" stop-color="#ff9a9a"/><stop offset="0.867" stop-color="#ffa1a1"/><stop offset="0.900" stop-color="#ffa8a8"/><stop offset="0.933" stop-color="#ffadad"/><stop offset="0.967" stop-color="#ffb2b2"/><stop offset="1.000" stop-color="#ffb6b6"/></linearGradient><linearGradient id="g48"><stop offset="0.000" stop-color="#ffd7d7"/><stop offset="0.033" stop-color="#ffd1d1"/><stop offset="0.067" stop-color="#ffcccc"/><stop offset="0.100" stop-color="#ffc7c7"/><stop offset="0.133" stop-color="#ffc2c2"/><stop offset="0.167" stop-color="#ffbdbd"/><stop offset="0.200" stop-color="#ffbaba"/><stop offset="0.233" stop-color="#ffb9b9"/><stop offset="0.267" stop-color="#ffb7b7"/><stop offset="0.300" stop-color="#ffb2b2"/><stop offset="0.333" stop-color="#ffadad"/><stop offset="0.367" stop-color="#ffa8a8"/><stop offset="0.400" stop-color="#ffa9a9"/><stop offset="0.433" stop-color="#ffaaaa"/><stop offset="0.467" stop-color="#ffafaf"/><stop offset="0.500" stop-color="#ffbaba"/><stop offset="0.533" stop-color="#ffc5c5"/><stop offset="0.567" stop-color="#ffbbbb"/><stop offset="0.600" stop-color="#ffa5a5"/><stop offset="0.633" stop-color="#ff8f8f"/><stop offset="0.667" stop-color="#ff8a8a"/><stop offset="0.700" stop-color="#ff8787"/><stop offset="0.733" stop-color="#ff8585"/><stop offset="0.767" stop-color="#ff8b8b"/><stop offset="0.800" stop-color="#ff9191"/><stop offset="0.833" stop-color="#ff9898"/><stop offset="0.867" stop-color="#ff9f9f"/><stop offset="0.900" stop-color="#ffa6a6"/><stop offset="0.933" stop-color="#ffabab"/><stop offset="0.967" stop-color="#ffb0b0"/><stop offset="1.000" stop-color="#ffb5b5"/></linearGradient><linearGradient id="g49"><stop offset="0.000" stop-color="#ffd6d6"/><stop offset="0.033" stop-color="#ffd0d0"/><stop offset="0.067" stop-color="#ffcbcb"/><stop offset="0.100" stop-color="#ffc5c5"/><stop offset="0.133" stop-color="#ffc0c0"/><stop offset="0.167" stop-color="#ffbcbc"/><stop offset="0.200" stop-color="#ffb8b8"/><stop offset="0.233" stop-color="#ffb6b6"/><stop offset="0.267" stop-color="#ffb4b4"/><stop offset="0.300" stop-color="#ffaeae"/><stop offset="0.333" stop-color="#ffa8a8"/><stop offset="0.367" stop-color="#ffa1a1"/><stop offset="0.400" stop-color="#ff9e9e"/><stop offset="0.433" stop-color="#ff9b9b"/><stop offset="0.467" stop-color="#ff9a9a"/><stop offset="0.500" stop-color="#ff9f9f"/><stop offset="0.533" stop-color="#ffa4a4"/><stop offset="0.567" stop-color="#ff9b9b"/><stop offset="0.600" stop-color="#ff8b8b"/><stop offset="0.633" stop-color="#ff7b7b"/><stop offset="0.667" stop-color="#ff7c7c"/><stop offset="0.700" stop-color="#ff7e7e"/><stop offset="0.733" stop-color="#ff8282"/><stop offset="0.767" stop-color="#ff8989"/><stop offset="0.800" stop-color="#ff8f8f"/><stop offset="0.833" stop-color="#ff9696"/><stop offset="0.867" stop-color="#ff9d9d"/><stop offset="0.900" stop-color="#ffa4a4"/><stop offset="0.933" stop-color="#ffaaaa"/><stop offset="0.967" stop-color="#ffaeae"/><stop offset="1.000" stop-color="#ffb3b3"/></linearGradient><linearGradient id="g50"><stop offset="0.000" stop-color="#ffd6d6"/><stop offset="0.033" stop-color="#ffd0d0"/><stop offset="0.067" stop-color="#ffcaca"/><stop offset="0.100" stop-color="#ffc4c4"/><stop offset="0.133" stop-color="#ffc0c0"/><stop offset="0.167" stop-color="#ffbbbb"/><stop offset="0.200" stop-color="#ffb7b7"/><stop offset="0.233" stop-color="#ffb5b5"/><stop offset="0.267" stop-color="#ffb2b2"/><stop offset="0.300" stop-color="#ffacac"/><stop offset="0.333" stop-color="#ffa4a4"/><stop offset="0.367" stop-color="#ff9d9d"/><stop offset="0.400" stop-color="#ff9898"/><stop offset="0.433" stop-color="#ff9393"/><stop offset="0.467" stop-color="#ff9090"/><stop offset="0.500" stop-color="#ff9191"/><stop offset="0.533" stop-color="#ff9292"/><stop offset="0.567" stop-color="#ff8b8b"/><stop offset="0.600" stop-color="#ff7f7f"/><stop offset="0.633" stop-color="#ff7373"/><stop offset="0.667" stop-color="#ff7676"/><stop offset="0.700" stop-color="#ff7b7b"/><stop offset="0.733" stop-color="#ff8181"/><stop offset="0.767" stop-color="#ff8888"/><stop offset="0.800" stop-color="#ff8f8f"/><stop offset="0.833" stop-color="#ff9696"/><stop offset="0.867" stop-color="#ff9d9d"/><stop offset="0.900" stop-color="#ffa4a4"/><stop offset="0.933" stop-color="#ffa9a9"/><stop offset="0.967" stop-color="#ffaeae"/><stop offset="1.000" stop-color="#ffb2b2"/></linearGradient><linearGradient id="g51"><stop offset="0.000" stop-color="#ffd6d6"/><stop offset="0.033" stop-color="#ffd0d0"/><stop offset="0.067" stop-color="#ffcaca"/><stop offset="0.100" stop-color="#ffc4c4"/><stop offset="0.133" stop-color="#ffc0c0"/><stop offset="0.167" stop-color="#ffbbbb"/><stop offset="0.200" stop-color="#ffb7b7"/><stop offset="0.233" stop-color="#ffb4b4"/><stop offset="0.267" stop-color="#ffb1b1"/><stop offset="0.300" stop-color="#ffaaaa"/><stop offset="0.333" stop-color="#ffa2a2"/><stop offset="0.367" stop-color="#ff9a9a"/><stop offset="0.400" stop-color="#ff9595"/><stop offset="0.433" stop-color="#ff8f8f"/><stop offset="0.467" stop-color="#ff8b8b"/><stop offset="0.500" stop-color="#ff8a8a"/><stop offset="0.533" stop-color="#ff8989"/><stop offset="0.567" stop-color="#ff8383"/><stop offset="0.600" stop-color="#ff7a7a"/><stop offset="0.633" stop-color="#ff7171"/><stop offset="0.667" stop-color="#ff7575"/><stop offset="0.700" stop-color="#ff7b7b"/><stop offset="0.733" stop-color="#ff8181"/><stop offset="0.767" stop-color="#ff8888"/><stop offset="0.800" stop-color="#ff8f8f"/><stop offset="0.833" stop-color="#ff9696"/><stop offset="0.867" stop-color="#ff9d9d"/><stop offset="0.900" stop-color="#ffa4a4"/><stop offset="0.933" stop-color="#ffa9a9"/><stop offset="0.967" stop-color="#ffaeae"/><stop offset="1.000" stop-color="#ffb2b2"/></linearGradient><linearGradient id="g52"><stop offset="0.000" stop-color="#ffd6d6"/><stop offset="0.033" stop-color="#ffd0d0"/><stop offset="0.067" stop-color="#ffcaca"/><stop offset="0.100" stop-color="#ffc4c4"/><stop offset="0.133" stop-color="#ffc0c0"/><stop offset="0.167" stop-color="#ffbbbb"/><stop offset="0.200" stop-color="#ffb7b7"/><stop offset="0.233" stop-color="#ffb3b3"/><stop offset="0.267" stop-color="#ffafaf"/><stop offset="0.300" stop-color="#ffa8a8"/><stop offset="0.333" stop-color="#ff9f9f"/><stop offset="0.367" stop-color="#ff9797"/><stop offset="0.400" stop-color="#ff9191"/><stop offset="0.433" stop-color="#ff8b8b"/><stop offset="0.467" stop-color="#ff8686"/><stop offset="0.500" stop-color="#ff8383"/><stop offset="0.533" stop-color="#ff7f7f"/><stop offset="0.567" stop-color="#ff7b7b"/><stop offset="0.600" stop-color="#ff7575"/><stop offset="0.633" stop-color="#ff6f6f"/><stop offset="0.667" stop-color="#ff7474"/><stop offset="0.700" stop-color="#ff7b7b"/><stop offset="0.733" stop-color="#ff8181"/><stop offset="0.767" stop-color="#ff8888"/><stop offset="0.800" stop-color="#ff8f8f"/><stop offset="0.833" stop-color="#ff9696"/><stop offset="0.867" stop-color="#ff9d9d"/><stop offset="0.900" stop-color="#ffa4a4"/><stop offset="0.933" stop-color="#ffa9a9"/><stop offset="0.967" stop-color="#ffaeae"/><stop offset="1.000" stop-color="#ffb2b2"/></linearGradient><linearGradient id="g53"><stop offset="0.000" stop-color="#ffd6d6"/><stop offset="0.033" stop-color="#ffd0d0"/><stop offset="0.067" stop-color="#ffcaca"/><stop offset="0.100" stop-color="#ffc4c4"/><stop offset="0.133" stop-color="#ffc0c0"/><stop offset="0.167" stop-color="#ffbbbb"/><stop offset="0.200" stop-color="#ffb7b7"/><stop offset="0.233" stop-color="#ffb2b2"/><stop offset="0.267" stop-color="#ffaeae"/><stop offset="0.300" stop-color="#ffa6a6"/><stop offset="0.333" stop-color="#ff9d9d"/><stop offset="0.367" stop-color="#ff9494"/><stop offset="0.400" stop-color="#ff8e8e"/><stop offset="0.433" stop-color="#ff8787"/><stop offset="0.467" stop-color="#ff8181"/><stop offset="0.500" stop-color="#ff7b7b"/><stop offset="0.533" stop-color="#ff7676"/><stop offset="0.567" stop-color="#ff7272"/><stop offset="0.600" stop-color="#ff7070"/><stop offset="0.633" stop-color="#ff6e6e"/><stop offset="0.667" stop-color="#ff7373"/><stop offset="0.700" stop-color="#ff7a7a"/><stop offset="0.733" stop-color="#ff8181"/><stop offset="0.767" stop-color="#ff8888"/><stop offset="0.800" stop-color="#ff8f8f"/><stop offset="0.833" stop-color="#ff9696"/><stop offset="0.867" stop-color="#ff9d9d"/><stop offset="0.900" stop-color="#ffa4a4"/><stop offset="0.933" stop-color="#ffa9a9"/><stop offset="0.967" stop-color="#ffaeae"/><stop offset="1.000" stop-color="#ffb2b2"/></linearGradient><linearGradient id="g54"><stop offset="0.000" stop-color="#ffd6d6"/><stop offset="0.033" stop-color="#ffd0d0"/><stop offset="0.067" stop-color="#ffcaca"/><stop offset="0.100" stop-color="#ffc5c5"/><stop offset="0.133" stop-color="#ffc0c0"/><stop offset="0.167" stop-color="#ffbbbb"/><stop offset="0.200" stop-color="#ffb7b7"/><stop offset="0.233" stop-color="#ffb2b2"/><stop offset="0.267" stop-color="#ffadad"/><stop offset="0.300" stop-color="#ffa5a5"/><stop offset="0.333" stop-color="#ff9b9b"/><stop offset="0.367" stop-color="#ff9292"/><stop offset="0.400" stop-color="#ff8a8a"/><stop offset="0.433" stop-color="#ff8383"/><stop offset="0.467" stop-color="#ff7c7c"/><stop offset="0.500" stop-color="#ff7575"/><stop offset="0.533" stop-color="#ff6f6f"/><stop offset="0.567" stop-color="#ff6c6c"/><stop offset="0.600" stop-color="#ff6c6c"/><stop offset="0.633" stop-color="#ff6c6c"/><stop offset="0.667" stop-color="#ff7373"/><stop offset="0.700" stop-color="#ff7a7a"/><stop offset="0.733" stop-color="#ff8181"/><stop offset="0.767" stop-color="#ff8888"/><stop offset="0.800" stop-color="#ff8f8f"/><stop offset="0.833" stop-color="#ff9696"/><stop offset="0.867" stop-color="#ff9d9d"/><stop offset="0.900" stop-color="#ffa4a4"/><stop offset="0.933" stop-color="#ffa9a9"/><stop offset="0.967" stop-color="#ffaeae"/><stop offset="1.000" stop-color="#ffb3b3"/></linearGradient><linearGradient id="g55"><stop offset="0.000" stop-color="#ffd7d7"/><stop offset="0.033" stop-color="#ffd1d1"/><stop offset="0.067" stop-color="#ffcccc"/><stop offset="0.100" stop-color="#ffc6c6"/><stop offset="0.133" stop-color="#ffc1c1"/><stop offset="0.167" stop-color="#ffbdbd"/><stop offset="0.200" stop-color="#ffb8b8"/><stop offset="0.233" stop-color="#ffb3b3"/><stop offset="0.267" stop-color="#ffafaf"/><stop offset="0.300" stop-color="#ffa5a5"/><stop offset="0.333" stop-color="#ff9b9b"/><stop offset="0.367" stop-color="#ff9090"/><stop offset="0.400" stop-color="#ff8888"/><stop offset="0.433" stop-color="#ff8181"/><stop offset="0.467" stop-color="#ff7a7a"/><stop offset="0.500" stop-color="#ff7373"/><stop offset="0.533" stop-color="#ff6d6d"/><stop offset="0.567" stop-color="#ff6b6b"/><stop offset="0.600" stop-color="#ff6b6b"/><stop offset="0.633" stop-color="#ff6b6b"/><stop offset="0.667" stop-color="#ff7272"/><stop offset="0.700" stop-color="#ff7979"/><stop offset="0.733" stop-color="#ff8181"/><stop offset="0.767" stop-color="#ff8888"/><stop offset="0.800" stop-color="#ff8f8f"/><stop offset="0.833" stop-color="#ff9696"/><stop offset="0.867" stop-color="#ff9d9d"/><stop offset="0.900" stop-color="#ffa4a4"/><stop offset="0.933" stop-color="#ffa9a9"/><stop offset="0.967" stop-color="#ffaeae"/><stop offset="1.000" stop-color="#ffb2b2"/></linearGradient><linearGradient id="g56"><stop offset="0.000" stop-color="#ffd8d8"/><stop offset="0.033" stop-color="#ffd2d2"/><stop offset="0.067" stop-color="#ffcdcd"/><stop offset="0.100" stop-color="#ffc8c8"/><stop offset="0.133" stop-color="#ffc3c3"/><stop offset="0.167" stop-color="#ffbebe"/><stop offset="0.200" stop-color="#ffbaba"/><stop offset="0.233" stop-color="#ffb5b5"/><stop offset="0.267" stop-color="#ffb0b0"/><stop offset="0.300" stop-color="#ffa6a6"/><stop offset="0.333" stop-color="#ff9a9a"/><stop offset="0.367" stop-color="#ff8f8f"/><stop offset="0.400" stop-color="#ff8686"/><stop offset="0.433" stop-color="#ff7e7e"/><stop offset="0.467" stop-color="#ff7777"/><stop offset="0.500" stop-color="#ff7171"/><stop offset="0.533" stop-color="#ff6b6b"/><stop offset="0.567" stop-color="#ff6969"/><stop offset="0.600" stop-color="#ff6969"/><stop offset="0.633" stop-color="#ff6969"/><stop offset="0.667" stop-color="#ff7171"/><stop offset="0.700" stop-color="#ff7979"/><stop offset="0.733" stop-color="#ff8181"/><stop offset="0.767" stop-color="#ff8888"/><stop offset="0.800" stop-color="#ff8f8f"/><stop offset="0.833" stop-color="#ff9696"/><stop offset="0.867" stop-color="#ff9d9d"/><stop offset="0.900" stop-color="#ffa4a4"/><stop offset="0.933" stop-color="#ffa9a9"/><stop offset="0.967" stop-color="#ffaeae"/><stop offset="1.000" stop-color="#ffb2b2"/></linearGradient><linearGradient id="g57"><stop offset="0.000" stop-color="#ffd8d8"/><stop offset="0.033" stop-color="#ffd3d3"/><stop offset="0.067" stop-color="#ffcece"/><stop offset="0.100" stop-color="#ffc9c9"/><stop offset="0.133" stop-color="#ffc4c4"/><stop offset="0.167" stop-color="#ffc0c0"/><stop offset="0.200" stop-color="#ffbbbb"/><stop offset="0.233" stop-color="#ffb6b6"/><stop offset="0.267" stop-color="#ffb2b2"/><stop offset="0.300" stop-color="#ffa6a6"/><stop offset="0.333" stop-color="#ff9a9a"/><stop offset="0.367" stop-color="#ff8d8d"/><stop offset="0.400" stop-color="#ff8484"/><stop offset="0.433" stop-color="#ff7c7c"/><stop offset="0.467" stop-color="#ff7474"/><stop offset="0.500" stop-color="#ff6f6f"/><stop offset="0.533" stop-color="#ff6a6a"/><stop offset="0.567" stop-color="#ff6868"/><stop offset="0.600" stop-color="#ff6868"/><stop offset="0.633" stop-color="#ff6868"/><stop offset="0.667" stop-color="#ff7070"/><stop offset="0.700" stop-color="#ff7878"/><stop offset="0.733" stop-color="#ff8181"/><stop offset="0.767" stop-color="#ff8888"/><stop offset="0.800" stop-color="#ff8f8f"/><stop offset="0.833" stop-color="#ff9696"/><stop offset="0.867" stop-color="#ff9d9d"/><stop offset="0.900" stop-color="#ffa4a4"/><stop offset="0.933" stop-color="#ffa9a9"/><stop offset="0.967" stop-color="#ffaeae"/><stop offset="1.000" stop-color="#ffb2b2"/></linearGradient><linearGradient id="g58"><stop offset="0.000" stop-color="#ffd9d9"/><stop offset="0.033" stop-color="#ffd4d4"/><stop offset="0.067" stop-color="#ffcfcf"/><stop offset="0.100" stop-color="#ffcbcb"/><stop offset="0.133" stop-color="#ffc6c6"/><stop offset="0.167" stop-color="#ffc1c1"/><stop offset="0.200" stop-color="#ffbcbc"/><stop offset="0.233" stop-color="#ffb8b8"/><stop offset="0.267" stop-color="#ffb3b3"/><stop offset="0.300" stop-color="#ffa7a7"/><stop offset="0.333" stop-color="#ff9999"/><stop offset="0.367" stop-color="#ff8c8c"/><stop offset="0.400" stop-color="#ff8282"/><stop offset="0.433" stop-color="#ff7979"/><stop offset="0.467" stop-color="#ff7171"/><stop offset="0.500" stop-color="#ff6d6d"/><stop offset="0.533" stop-color="#ff6868"/><stop offset="0.567" stop-color="#ff6666"/><stop offset="0.600" stop-color="#ff6666"/><stop offset="0.633" stop-color="#ff6666"/><stop offset="0.667" stop-color="#ff6f6f"/><stop offset="0.700" stop-color="#ff7878"/><stop offset="0.733" stop-color="#ff8181"/><stop offset="0.767" stop-color="#ff8888"/><stop offset="0.800" stop-color="#ff8f8f"/><stop offset="0.833" stop-color="#ff9696"/><stop offset="0.867" stop-color="#ff9d9d"/><stop offset="0.900" stop-color="#ffa4a4"/><stop offset="0.933" stop-color="#ffa9a9"/><stop offset="0.967" stop-color="#ffaeae"/><stop offset="1.000" stop-color="#ffb2b2"/></linearGradient><linearGradient id="g59"><stop offset="0.000" stop-color="#ffdada"/><stop offset="0.033" stop-color="#ffd6d6"/><stop offset="0.067" stop-color="#ffd1d1"/><stop offset="0.100" stop-color="#ffcdcd"/><stop offset="0.133" stop-color="#ffc8c8"/><stop offset="0.167" stop-color="#ffc3c3"/><stop offset="0.200" stop-color="#ffbfbf"/><stop offset="0.233" stop-color="#ffbaba"/><stop offset="0.267" stop-color="#ffb5b5"/><stop offset="0.300" stop-color="#ffa8a8"/><stop offset="0.333" stop-color="#ff9999"/><stop offset="0.367" stop-color="#ff8b8b"/><stop offset="0.400" stop-color="#ff8282"/><stop offset="0.433" stop-color="#ff7979"/><stop offset="0.467" stop-color="#ff7171"/><stop offset="0.500" stop-color="#ff6d6d"/><stop offset="0.533" stop-color="#ff6969"/><stop offset="0.567" stop-color="#ff6767"/><stop offset="0.600" stop-color="#ff6767"/><stop offset="0.633" stop-color="#ff6767"/><stop offset="0.667" stop-color="#ff6f6f"/><stop offset="0.700" stop-color="#ff7878"/><stop offset="0.733" stop-color="#ff8181"/><stop offset="0.767" stop-color="#ff8888"/><stop offset="0.800" stop-color="#ff8f8f"/><stop offset="0.833" stop-color="#ff9696"/><stop offset="0.867" stop-color="#ff9d9d"/><stop offset="0.900" stop-color="#ffa4a4"/><stop offset="0.933" stop-color="#ffa9a9"/><stop offset="0.967" stop-color="#ffaeae"/><stop offset="1.000" stop-color="#ffb2b2"/></linearGradient><linearGradient id="g60"><stop offset="0.000" stop-color="#ffdbdb"/><stop offset="0.033" stop-color="#ffd7d7"/><stop offset="0.067" stop-color="#ffd3d3"/><stop offset="0.100" stop-color="#ffcfcf"/><stop offset="0.133" stop-color="#ffcaca"/><stop offset="0.167" stop-color="#ffc6c6"/><stop offset="0.200" stop-color="#ffc1c1"/><stop offset="0.233" stop-color="#ffbbbb"/><stop offset="0.267" stop-color="#ffb6b6"/><stop offset="0.300" stop-color="#ffa9a9"/><stop offset="0.333" stop-color="#ff9a9a"/><stop offset="0.367" stop-color="#ff8b8b"/><stop offset="0.400" stop-color="#ff8282"/><stop offset="0.433" stop-color="#ff7979"/><stop offset="0.467" stop-color="#ff7171"/><stop offset="0.500" stop-color="#ff6e6e"/><stop offset="0.533" stop-color="#ff6a6a"/><stop offset="0.567" stop-color="#ff6969"/><stop offset="0.600" stop-color="#ff6969"/><stop offset="0.633" stop-color="#ff6969"/><stop offset="0.667" stop-color="#ff7070"/><stop offset="0.700" stop-color="#ff7979"/><stop offset="0.733" stop-color="#ff8181"/><stop offset="0.767" stop-color="#ff8888"/><stop offset="0.800" stop-color="#ff8f8f"/><stop offset="0.833" stop-color="#ff9696"/><stop offset="0.867" stop-color="#ff9d9d"/><stop offset="0.900" stop-color="#ffa4a4"/><stop offset="0.933" stop-color="#ffa9a9"/><stop offset="0.967" stop-color="#ffaeae"/><stop offset="1.000" stop-color="#ffb2b2"/></linearGradient><linearGradient id="g61"><stop offset="0.000" stop-color="#ffdddd"/><stop offset="0.033" stop-color="#ffd9d9"/><stop offset="0.067" stop-color="#ffd5d5"/><stop offset="0.100" stop-color="#ffd1d1"/><stop offset="0.133" stop-color="#ffcdcd"/><stop offset="0.167" stop-color="#ffc8c8"/><stop offset="0.200" stop-color="#ffc3c3"/><stop offset="0.233" stop-color="#ffbdbd"/><stop offset="0.267" stop-color="#ffb8b8"/><stop offset="0.300" stop-color="#ffaaaa"/><stop offset="0.333" stop-color="#ff9a9a"/><stop offset="0.367" stop-color="#ff8b8b"/><stop offset="0.400" stop-color="#ff8282"/><stop offset="0.433" stop-color="#ff7979"/><stop offset="0.467" stop-color="#ff7272"/><stop offset="0.500" stop-color="#ff6e6e"/><stop offset="0.533" stop-color="#ff6b6b"/><stop offset="0.567" stop-color="#ff6a6a"/><stop offset="0.600" stop-color="#ff6a6a"/><stop offset="0.633" stop-color="#ff6a6a"/><stop offset="0.667" stop-color="#ff7171"/><stop offset="0.700" stop-color="#ff7979"/><stop offset="0.733" stop-color="#ff8181"/><stop offset="0.767" stop-color="#ff8888"/><stop offset="0.800" stop-color="#ff8f8f"/><stop offset="0.833" stop-color="#ff9696"/><stop offset="0.867" stop-color="#ff9d9d"/><stop offset="0.900" stop-color="#ffa4a4"/><stop offset="0.933" stop-color="#ffa9a9"/><stop offset="0.967" stop-color="#ffaeae"/><stop offset="1.000" stop-color="#ffb2b2"/></linearGradient><linearGradient id="g62"><stop offset="0.000" stop-color="#ffdede"/><stop offset="0.033" stop-color="#ffdbdb"/><stop offset="0.067" stop-color="#ffd7d7"/><stop offset="0.100" stop-color="#ffd4d4"/><stop offset="0.133" stop-color="#ffcfcf"/><stop offset="0.167" stop-color="#ffcaca"/><stop offset="0.200" stop-color="#ffc5c5"/><stop offset="0.233" stop-color="#ffbfbf"/><stop offset="0.267" stop-color="#ffb9b9"/><stop offset="0.300" stop-color="#ffabab"/><stop offset="0.333" stop-color="#ff9b9b"/><stop offset="0.367" stop-color="#ff8b8b"/><stop offset="0.400" stop-color="#ff8282"/><stop offset="0.433" stop-color="#ff7979"/><stop offset="0.467" stop-color="#ff7272"/><stop offset="0.500" stop-color="#ff6f6f"/><stop offset="0.533" stop-color="#ff6d6d"/><stop offset="0.567" stop-color="#ff6c6c"/><stop offset="0.600" stop-color="#ff6c6c"/><stop offset="0.633" stop-color="#ff6c6c"/><stop offset="0.667" stop-color="#ff7272"/><stop offset="0.700" stop-color="#ff7a7a"/><stop offset="0.733" stop-color="#ff8181"/><stop offset="0.767" stop-color="#ff8888"/><stop offset="0.800" stop-color="#ff8f8f"/><stop offset="0.833" stop-color="#ff9696"/><stop offset="0.867" stop-color="#ff9d9d"/><stop offset="0.900" stop-color="#ffa4a4"/><stop offset="0.933" stop-color="#ffa9a9"/><stop offset="0.967" stop-color="#ffaeae"/><stop offset="1.000" stop-color="#ffb2b2"/></linearGradient><linearGradient id="g63"><stop offset="0.000" stop-color="#ffe0e0"/><stop offset="0.033" stop-color="#ffdddd"/><stop offset="0.067" stop-color="#ffd9d9"/><stop offset="0.100" stop-color="#ffd6d6"/><stop offset="0.133" stop-color="#ffd1d1"/><stop offset="0.167" stop-color="#ffcccc"/><stop offset="0.200" stop-color="#ffc7c7"/><stop offset="0.233" stop-color="#ffc1c1"/><stop offset="0.267" stop-color="#ffbbbb"/><stop offset="0.300" stop-color="#ffacac"/><stop offset="0.333" stop-color="#ff9c9c"/><stop offset="0.367" stop-color="#ff8c8c"/><stop offset="0.400" stop-color="#ff8383"/><stop offset="0.433" stop-color="#ff7979"/><stop offset="0.467" stop-color="#ff7373"/><stop offset="0.500" stop-color="#ff7171"/><stop offset="0.533" stop-color="#ff6e6e"/><stop offset="0.567" stop-color="#ff6e6e"/><stop offset="0.600" stop-color="#ff6e6e"/><stop offset="0.633" stop-color="#ff6e6e"/><stop offset="0.667" stop-color="#ff7474"/><stop offset="0.700" stop-color="#ff7b7b"/><stop offset="0.733" stop-color="#ff8282"/><stop offset="0.767" stop-color="#ff8989"/><stop offset="0.800" stop-color="#ff9090"/><stop offset="0.833" stop-color="#ff9696"/><stop offset="0.867" stop-color="#ff9d9d"/><stop offset="0.900" stop-color="#ffa4a4"/><stop offset="0.933" stop-color="#ffaaaa"/><stop offset="0.967" stop-color="#ffaeae"/><stop offset="1.000" stop-color="#ffb3b3"/></linearGradient><linearGradient id="g64"><stop offset="0.000" stop-color="#ffe1e1"/><stop offset="0.033" stop-color="#ffdede"/><stop offset="0.067" stop-color="#ffdbdb"/><stop offset="0.100" stop-color="#ffd8d8"/><stop offset="0.133" stop-color="#ffd3d3"/><stop offset="0.167" stop-color="#ffcfcf"/><stop offset="0.200" stop-color="#ffc9c9"/><stop offset="0.233" stop-color="#ffc3c3"/><stop offset="0.267" stop-color="#ffbcbc"/><stop offset="0.300" stop-color="#ffaeae"/><stop offset="0.333" stop-color="#ff9d9d"/><stop offset="0.367" stop-color="#ff8e8e"/><stop offset="0.400" stop-color="#ff8484"/><stop offset="0.433" stop-color="#ff7b7b"/><stop offset="0.467" stop-color="#ff7474"/><stop offset="0.500" stop-color="#ff7373"/><stop offset="0.533" stop-color="#ff7171"/><stop offset="0.567" stop-color="#ff7171"/><stop offset="0.600" stop-color="#ff7272"/><stop offset="0.633" stop-color="#ff7373"/><stop offset="0.667" stop-color="#ff7878"/><stop offset="0.700" stop-color="#ff7f7f"/><stop offset="0.733" stop-color="#ff8585"/><stop offset="0.767" stop-color="#ff8b8b"/><stop offset="0.800" stop-color="#ff9191"/><stop offset="0.833" stop-color="#ff9898"/><stop offset="0.867" stop-color="#ff9f9f"/><stop offset="0.900" stop-color="#ffa6a6"/><stop offset="0.933" stop-color="#ffabab"/><stop offset="0.967" stop-color="#ffb0b0"/><stop offset="1.000" stop-color="#ffb5b5"/></linearGradient><linearGradient id="g65"><stop offset="0.000" stop-color="#ffe3e3"/><stop offset="0.033" stop-color="#ffe0e0"/><stop offset="0.067" stop-color="#ffdddd"/><stop offset="0.100" stop-color="#ffdada"/><stop offset="0.133" stop-color="#ffd5d5"/><stop offset="0.167" stop-color="#ffd1d1"/><stop offset="0.200" stop-color="#ffcbcb"/><stop offset="0.233" stop-color="#ffc4c4"/><stop offset="0.267" stop-color="#ffbebe"/><stop offset="0.300" stop-color="#ffafaf"/><stop offset="0.333" stop-color="#ff9f9f"/><stop offset="0.367" stop-color="#ff8f8f"/><stop offset="0.400" stop-color="#ff8686"/><stop offset="0.433" stop-color="#ff7c7c"/><stop offset="0.467" stop-color="#ff7676"/><stop offset="0.500" stop-color="#ff7575"/><stop offset="0.533" stop-color="#ff7474"/><stop offset="0.567" stop-color="#ff7474"/><stop offset="0.600" stop-color="#ff7676"/><stop offset="0.633" stop-color="#ff7777"/><stop offset="0.667" stop-color="#ff7c7c"/><stop offset="0.700" stop-color="#ff8282"/><stop offset="0.733" stop-color="#ff8888"/><stop offset="0.767" stop-color="#ff8d8d"/><stop offset="0.800" stop-color="#ff9393"/><stop offset="0.833" stop-color="#ff9999"/><stop offset="0.867" stop-color="#ffa0a0"/><stop offset="0.900" stop-color="#ffa7a7"/><stop offset="0.933" stop-color="#ffadad"/><stop offset="0.967" stop-color="#ffb1b1"/><stop offset="1.000" stop-color="#ffb6b6"/></linearGradient><linearGradient id="g66"><stop offset="0.000" stop-color="#ffe4e4"/><stop offset="0.033" stop-color="#ffe2e2"/><stop offset="0.067" stop-color="#ffdfdf"/><stop offset="0.100" stop-color="#ffdcdc"/><stop offset="0.133" stop-color="#ffd7d7"/><stop offset="0.167" stop-color="#ffd3d3"/><stop offset="0.200" stop-color="#ffcdcd"/><stop offset="0.233" stop-color="#ffc6c6"/><stop offset="0.267" stop-color="#ffbfbf"/><stop offset="0.300" stop-color="#ffb0b0"/><stop offset="0.333" stop-color="#ffa0a0"/><stop offset="0.367" stop-color="#ff9090"/><stop offset="0.400" stop-color="#ff8787"/><stop offset="0.433" stop-color="#ff7e7e"/><stop offset="0.467" stop-color="#ff7878"/><stop offset="0.500" stop-color="#ff7777"/><stop offset="0.533" stop-color="#ff7777"/><stop offset="0.567" stop-color="#ff7878"/><stop offset="0.600" stop-color="#ff7979"/><stop offset="0.633" stop-color="#ff7b7b"/><stop offset="0.667" stop-color="#ff8080"/><stop offset="0.700" stop-color="#ff8585"/><stop offset="0.733" stop-color="#ff8a8a"/><stop offset="0.767" stop-color="#ff9090"/><stop offset="0.800" stop-color="#ff9595"/><stop offset="0.833" stop-color="#ff9b9b"/><stop offset="0.867" stop-color="#ffa2a2"/><stop offset="0.900" stop-color="#ffa9a9"/><stop offset="0.933" stop-color="#ffaeae"/><stop offset="0.967" stop-color="#ffb3b3"/><stop offset="1.000" stop-color="#ffb7b7"/></linearGradient><linearGradient id="g67"><stop offset="0.000" stop-color="#ffe6e6"/><stop offset="0.033" stop-color="#ffe3e3"/><stop offset="0.067" stop-color="#ffe1e1"/><stop offset="0.100" stop-color="#ffdede"/><stop offset="0.133" stop-color="#ffd9d9"/><stop offset="0.167" stop-color="#ffd5d5"/><stop offset="0.200" stop-color="#ffcfcf"/><stop offset="0.233" stop-color="#ffc8c8"/><stop offset="0.267" stop-color="#ffc1c1"/><stop offset="0.300" stop-color="#ffb2b2"/><stop offset="0.333" stop-color="#ffa2a2"/><stop offset="0.367" stop-color="#ff9292"/><stop offset="0.400" stop-color="#ff8989"/><stop offset="0.433" stop-color="#ff7f7f"/><stop offset="0.467" stop-color="#ff7979"/><stop offset="0.500" stop-color="#ff7979"/><stop offset="0.533" stop-color="#ff7979"/><stop offset="0.567" stop-color="#ff7b7b"/><stop offset="0.600" stop-color="#ff7d7d"/><stop offset="0.633" stop-color="#ff7f7f"/><stop offset="0.667" stop-color="#ff8484"/><stop offset="0.700" stop-color="#ff8989"/><stop offset="0.733" stop-color="#ff8d8d"/><stop offset="0.767" stop-color="#ff9292"/><stop offset="0.800" stop-color="#ff9797"/><stop offset="0.833" stop-color="#ff9c9c"/><stop offset="0.867" stop-color="#ffa3a3"/><stop offset="0.900" stop-color="#ffaaaa"/><stop offset="0.933" stop-color="#ffb0b0"/><stop offset="0.967" stop-color="#ffb4b4"/><stop offset="1.000" stop-color="#ffb9b9"/></linearGradient><linearGradient id="g68"><stop offset="0.000" stop-color="#ffe8e8"/><stop offset="0.033" stop-color="#ffe6e6"/><stop offset="0.067" stop-color="#ffe4e4"/><stop offset="0.100" stop-color="#ffe1e1"/><stop offset="0.133" stop-color="#ffdcdc"/><stop offset="0.167" stop-color="#ffd8d8"/><stop offset="0.200" stop-color="#ffd1d1"/><stop offset="0.233" stop-color="#ffcaca"/><stop offset="0.267" stop-color="#ffc2c2"/><stop offset="0.300" stop-color="#ffb4b4"/><stop offset="0.333" stop-color="#ffa4a4"/><stop offset="0.367" stop-color="#ff9595"/><stop offset="0.400" stop-color="#ff8b8b"/><stop offset="0.433" stop-color="#ff8282"/><stop offset="0.467" stop-color="#ff7c7c"/><stop offset="0.500" stop-color="#ff7c7c"/><stop offset="0.533" stop-color="#ff7c7c"/><stop offset="0.567" stop-color="#ff7e7e"/><stop offset="0.600" stop-color="#ff8080"/><stop offset="0.633" stop-color="#ff8282"/><stop offset="0.667" stop-color="#ff8686"/><stop offset="0.700" stop-color="#ff8a8a"/><stop offset="0.733" stop-color="#ff8f8f"/><stop offset="0.767" stop-color="#ff9393"/><stop offset="0.800" stop-color="#ff9898"/><stop offset="0.833" stop-color="#ff9e9e"/><stop offset="0.867" stop-color="#ffa5a5"/><stop offset="0.900" stop-color="#ffacac"/><stop offset="0.933" stop-color="#ffb1b1"/><stop offset="0.967" stop-color="#ffb6b6"/><stop offset="1.000" stop-color="#ffbaba"/></linearGradient><linearGradient id="g69"><stop offset="0.000" stop-color="#ffeaea"/><stop offset="0.033" stop-color="#ffe8e8"/><stop offset="0.067" stop-color="#ffe6e6"/><stop offset="0.100" stop-color="#ffe4e4"/><stop offset="0.133" stop-color="#ffdfdf"/><stop offset="0.167" stop-color="#ffdada"/><stop offset="0.200" stop-color="#ffd4d4"/><stop offset="0.233" stop-color="#ffcccc"/><stop offset="0.267" stop-color="#ffc4c4"/><stop offset="0.300" stop-color="#ffb6b6"/><stop offset="0.333" stop-color="#ffa6a6"/><stop offset="0.367" stop-color="#ff9898"/><stop offset="0.400" stop-color="#ff8e8e"/><stop offset="0.433" stop-color="#ff8585"/><stop offset="0.467" stop-color="#ff7f7f"/><stop offset="0.500" stop-color="#ff7f7f"/><stop offset="0.533" stop-color="#ff7f7f"/><stop offset="0.567" stop-color="#ff8181"/><stop offset="0.600" stop-color="#ff8383"/><stop offset="0.633" stop-color="#ff8585"/><stop offset="0.667" stop-color="#ff8989"/><stop offset="0.700" stop-color="#ff8c8c"/><stop offset="0.733" stop-color="#ff9090"/><stop offset="0.767" stop-color="#ff9595"/><stop offset="0.800" stop-color="#ff9999"/><stop offset="0.833" stop-color="#ff9f9f"/><stop offset="0.867" stop-color="#ffa6a6"/><stop offset="0.900" stop-color="#ffadad"/><stop offset="0.933" stop-color="#ffb2b2"/><stop offset="0.967" stop-color="#ffb7b7"/><stop offset="1.000" stop-color="#ffbcbc"/></linearGradient><linearGradient id="g70"><stop offset="0.000" stop-color="#ffecec"/><stop offset="0.033" stop-color="#ffeaea"/><stop offset="0.067" stop-color="#ffe9e9"/><stop offset="0.100" stop-color="#ffe7e7"/><stop offset="0.133" stop-color="#ffe2e2"/><stop offset="0.167" stop-color="#ffdddd"/><stop offset="0.200" stop-color="#ffd7d7"/><stop offset="0.233" stop-color="#ffcece"/><stop offset="0.267" stop-color="#ffc5c5"/><stop offset="0.300" stop-color="#ffb8b8"/><stop offset="0.333" stop-color="#ffa9a9"/><stop offset="0.367" stop-color="#ff9b9b"/><stop offset="0.400" stop-color="#ff9191"/><stop offset="0.433" stop-color="#ff8888"/><stop offset="0.467" stop-color="#ff8282"/><stop offset="0.500" stop-color="#ff8282"/><stop offset="0.533" stop-color="#ff8282"/><stop offset="0.567" stop-color="#ff8383"/><stop offset="0.600" stop-color="#ff8686"/><stop offset="0.633" stop-color="#ff8888"/><stop offset="0.667" stop-color="#ff8b8b"/><stop offset="0.700" stop-color="#ff8e8e"/><stop offset="0.733" stop-color="#ff9292"/><stop offset="0.767" stop-color="#ff9696"/><stop offset="0.800" stop-color="#ff9b9b"/><stop offset="0.833" stop-color="#ffa1a1"/><stop offset="0.867" stop-color="#ffa8a8"/><stop offset="0.900" stop-color="#ffafaf"/><stop offset="0.933" stop-color="#ffb4b4"/><stop offset="0.967" stop-color="#ffb9b9"/><stop offset="1.000" stop-color="#ffbdbd"/></linearGradient><linearGradient id="g71"><stop offset="0.000" stop-color="#ffeeee"/><stop offset="0.033" stop-color="#ffeded"/><stop offset="0.067" stop-color="#ffecec"/><stop offset="0.100" stop-color="#ffeaea"/><stop offset="0.133" stop-color="#ffe5e5"/><stop offset="0.167" stop-color="#ffe0e0"/><stop offset="0.200" stop-color="#ffd9d9"/><stop offset="0.233" stop-color="#ffd0d0"/><stop offset="0.267" stop-color="#ffc7c7"/><stop offset="0.300" stop-color="#ffb9b9"/><stop offset="0.333" stop-color="#ffabab"/><stop offset="0.367" stop-color="#ff9e9e"/><stop offset="0.400" stop-color="#ff9494"/><stop offset="0.433" stop-color="#ff8b8b"/><stop offset="0.467" stop-color="#ff8585"/><stop offset="0.500" stop-color="#ff8585"/><stop offset="0.533" stop-color="#ff8585"/><stop offset="0.567" stop-color="#ff8686"/><stop offset="0.600" stop-color="#ff8989"/><stop offset="0.633" stop-color="#ff8b8b"/><stop offset="0.667" stop-color="#ff8e8e"/><stop offset="0.700" stop-color="#ff9090"/><stop offset="0.733" stop-color="#ff9393"/><stop offset="0.767" stop-color="#ff9898"/><stop offset="0.800" stop-color="#ff9c9c"/><stop offset="0.833" stop-color="#ffa2a2"/><stop offset="0.867" stop-color="#ffa9a9"/><stop offset="0.900" stop-color="#ffb0b0"/><stop offset="0.933" stop-color="#ffb5b5"/><stop offset="0.967" stop-color="#ffbaba"/><stop offset="1.000" stop-color="#ffbfbf"/></linearGradient><linearGradient id="g72"><stop offset="0.000" stop-color="#ffefef"/><stop offset="0.033" stop-color="#ffefef"/><stop offset="0.067" stop-color="#ffeeee"/><stop offset="0.100" stop-color="#ffecec"/><stop offset="0.133" stop-color="#ffe8e8"/><stop offset="0.167" stop-color="#ffe3e3"/><stop offset="0.200" stop-color="#ffdcdc"/><stop offset="0.233" stop-color="#ffd2d2"/><stop offset="0.267" stop-color="#ffc9c9"/><stop offset="0.300" stop-color="#ffbcbc"/><stop offset="0.333" stop-color="#ffaeae"/><stop offset="0.367" stop-color="#ffa0a0"/><stop offset="0.400" stop-color="#ff9797"/><stop offset="0.433" stop-color="#ff8e8e"/><stop offset="0.467" stop-color="#ff8888"/><stop offset="0.500" stop-color="#ff8888"/><stop offset="0.533" stop-color="#ff8888"/><stop offset="0.567" stop-color="#ff8989"/><stop offset="0.600" stop-color="#ff8c8c"/><stop offset="0.633" stop-color="#ff8e8e"/><stop offset="0.667" stop-color="#ff9090"/><stop offset="0.700" stop-color="#ff9292"/><stop offset="0.733" stop-color="#ff9595"/><stop offset="0.767" stop-color="#ff9a9a"/><stop offset="0.800" stop-color="#ff9e9e"/><stop offset="0.833" stop-color="#ffa4a4"/><stop offset="0.867" stop-color="#ffabab"/><stop offset="0.900" stop-color="#ffb2b2"/><stop offset="0.933" stop-color="#ffb7b7"/><stop offset="0.967" stop-color="#ffbbbb"/><stop offset="1.000" stop-color="#ffc0c0"/></linearGradient><linearGradient id="g73"><stop offset="0.000" stop-color="#fff1f1"/><stop offset="0.033" stop-color="#fff1f1"/><stop offset="0.067" stop-color="#fff1f1"/><stop offset="0.100" stop-color="#ffefef"/><stop offset="0.133" stop-color="#ffebeb"/><stop offset="0.167" stop-color="#ffe6e6"/><stop offset="0.200" stop-color="#ffdfdf"/><stop offset="0.233" stop-color="#ffd5d5"/><stop offset="0.267" stop-color="#ffcbcb"/><stop offset="0.300" stop-color="#ffbebe"/><stop offset="0.333" stop-color="#ffb0b0"/><stop offset="0.367" stop-color="#ffa2a2"/><stop offset="0.400" stop-color="#ff9999"/><stop offset="0.433" stop-color="#ff9090"/><stop offset="0.467" stop-color="#ff8b8b"/><stop offset="0.500" stop-color="#ff8b8b"/><stop offset="0.533" stop-color="#ff8b8b"/><stop offset="0.567" stop-color="#ff8c8c"/><stop offset="0.600" stop-color="#ff8e8e"/><stop offset="0.633" stop-color="#ff9191"/><stop offset="0.667" stop-color="#ff9393"/><stop offset="0.700" stop-color="#ff9595"/><stop offset="0.733" stop-color="#ff9797"/><stop offset="0.767" stop-color="#ff9c9c"/><stop offset="0.800" stop-color="#ffa0a0"/><stop offset="0.833" stop-color="#ffa6a6"/><stop offset="0.867" stop-color="#ffadad"/><stop offset="0.900" stop-color="#ffb3b3"/><stop offset="0.933" stop-color="#ffb8b8"/><stop offset="0.967" stop-color="#ffbcbc"/><stop offset="1.000" stop-color="#ffc0c0"/></linearGradient><linearGradient id="g74"><stop offset="0.000" stop-color="#fff2f2"/><stop offset="0.033" stop-color="#fff3f3"/><stop offset="0.067" stop-color="#fff3f3"/><stop offset="0.100" stop-color="#fff2f2"/><stop offset="0.133" stop-color="#ffeeee"/><stop offset="0.167" stop-color="#ffeaea"/><stop offset="0.200" stop-color="#ffe2e2"/><stop offset="0.233" stop-color="#ffd8d8"/><stop offset="0.267" stop-color="#ffcdcd"/><stop offset="0.300" stop-color="#ffc0c0"/><stop offset="0.333" stop-color="#ffb2b2"/><stop offset="0.367" stop-color="#ffa4a4"/><stop offset="0.400" stop-color="#ff9c9c"/><stop offset="0.433" stop-color="#ff9393"/><stop offset="0.467" stop-color="#ff8e8e"/><stop offset="0.500" stop-color="#ff8e8e"/><stop offset="0.533" stop-color="#ff8e8e"/><stop offset="0.567" stop-color="#ff8f8f"/><stop offset="0.600" stop-color="#ff9191"/><stop offset="0.633" stop-color="#ff9494"/><stop offset="0.667" stop-color="#ff9595"/><stop offset="0.700" stop-color="#ff9797"/><stop offset="0.733" stop-color="#ff9999"/><stop offset="0.767" stop-color="#ff9e9e"/><stop offset="0.800" stop-color="#ffa3a3"/><stop offset="0.833" stop-color="#ffa8a8"/><stop offset="0.867" stop-color="#ffaeae"/><stop offset="0.900" stop-color="#ffb5b5"/><stop offset="0.933" stop-color="#ffb9b9"/><stop offset="0.967" stop-color="#ffbdbd"/><stop offset="1.000" stop-color="#ffc1c1"/></linearGradient><linearGradient id="g75"><stop offset="0.000" stop-color="#fff4f4"/><stop offset="0.033" stop-color="#fff5f5"/><stop offset="0.067" stop-color="#fff5f5"/><stop offset="0.100" stop-color="#fff5f5"/><stop offset="0.133" stop-color="#fff1f1"/><stop offset="0.167" stop-color="#ffeded"/><stop offset="0.200" stop-color="#ffe5e5"/><stop offset="0.233" stop-color="#ffdada"/><stop offset="0.267" stop-color="#ffd0d0"/><stop offset="0.300" stop-color="#ffc2c2"/><stop offset="0.333" stop-color="#ffb4b4"/><stop offset="0.367" stop-color="#ffa7a7"/><stop offset="0.400" stop-color="#ff9e9e"/><stop offset="0.433" stop-color="#ff9696"/><stop offset="0.467" stop-color="#ff9090"/><stop offset="0.500" stop-color="#ff9090"/><stop offset="0.533" stop-color="#ff9090"/><stop offset="0.567" stop-color="#ff9292"/><stop offset="0.600" stop-color="#ff9494"/><stop offset="0.633" stop-color="#ff9797"/><stop offset="0.667" stop-color="#ff9898"/><stop offset="0.700" stop-color="#ff9999"/><stop offset="0.733" stop-color="#ff9b9b"/><stop offset="0.767" stop-color="#ffa0a0"/><stop offset="0.800" stop-color="#ffa5a5"/><stop offset="0.833" stop-color="#ffaaaa"/><stop offset="0.867" stop-color="#ffb0b0"/><stop offset="0.900" stop-color="#ffb6b6"/><stop offset="0.933" stop-color="#ffbaba"/><stop offset="0.967" stop-color="#ffbebe"/><stop offset="1.000" stop-color="#ffc2c2"/></linearGradient><linearGradient id="g76"><stop offset="0.000" stop-color="#fff5f5"/><stop offset="0.033" stop-color="#fff6f6"/><stop offset="0.067" stop-color="#fff8f8"/><stop offset="0.100" stop-color="#fff8f8"/><stop offset="0.133" stop-color="#fff4f4"/><stop offset="0.167" stop-color="#fff0f0"/><stop offset="0.200" stop-color="#ffe8e8"/><stop offset="0.233" stop-color="#ffdddd"/><stop offset="0.267" stop-color="#ffd2d2"/><stop offset="0.300" stop-color="#ffc4c4"/><stop offset="0.333" stop-color="#ffb6b6"/><stop offset="0.367" stop-color="#ffa9a9"/><stop offset="0.400" stop-color="#ffa1a1"/><stop offset="0.433" stop-color="#ff9999"/><stop offset="0.467" stop-color="#ff9393"/><stop offset="0.500" stop-color="#ff9393"/><stop offset="0.533" stop-color="#ff9393"/><stop offset="0.567" stop-color="#ff9595"/><stop offset="0.600" stop-color="#ff9797"/><stop offset="0.633" stop-color="#ff9a9a"/><stop offset="0.667" stop-color="#ff9b9b"/><stop offset="0.700" stop-color="#ff9c9c"/><stop offset="0.733" stop-color="#ff9e9e"/><stop offset="0.767" stop-color="#ffa2a2"/><stop offset="0.800" stop-color="#ffa7a7"/><stop offset="0.833" stop-color="#ffacac"/><stop offset="0.867" stop-color="#ffb2b2"/><stop offset="0.900" stop-color="#ffb8b8"/><stop offset="0.933" stop-color="#ffbcbc"/><stop offset="0.967" stop-color="#ffbfbf"/><stop offset="1.000" stop-color="#ffc3c3"/></linearGradient><linearGradient id="g77"><stop offset="0.000" stop-color="#fff7f7"/><stop offset="0.033" stop-color="#fff8f8"/><stop offset="0.067" stop-color="#fffafa"/><stop offset="0.100" stop-color="#fffafa"/><stop offset="0.133" stop-color="#fff7f7"/><stop offset="0.167" stop-color="#fff3f3"/><stop offset="0.200" stop-color="#ffebeb"/><stop offset="0.233" stop-color="#ffdfdf"/><stop offset="0.267" stop-color="#ffd4d4"/><stop offset="0.300" stop-color="#ffc6c6"/><stop offset="0.333" stop-color="#ffb8b8"/><stop offset="0.367" stop-color="#ffabab"/><stop offset="0.400" stop-color="#ffa3a3"/><stop offset="0.433" stop-color="#ff9b9b"/><stop offset="0.467" stop-color="#ff9696"/><stop offset="0.500" stop-color="#ff9696"/><stop offset="0.533" stop-color="#ff9696"/><stop offset="0.567" stop-color="#ff9898"/><stop offset="0.600" stop-color="#ff9a9a"/><stop offset="0.633" stop-color="#ff9c9c"/><stop offset="0.667" stop-color="#ff9d9d"/><stop offset="0.700" stop-color="#ff9e9e"/><stop offset="0.733" stop-color="#ffa0a0"/><stop offset="0.767" stop-color="#ffa4a4"/><stop offset="0.800" stop-color="#ffa9a9"/><stop offset="0.833" stop-color="#ffaeae"/><stop offset="0.867" stop-color="#ffb4b4"/><stop offset="0.900" stop-color="#ffb9b9"/><stop offset="0.933" stop-color="#ffbdbd"/><stop offset="0.967" stop-color="#ffc0c0"/><stop offset="1.000" stop-color="#ffc3c3"/></linearGradient><linearGradient id="g78"><stop offset="0.000" stop-color="#fff8f8"/><stop offset="0.033" stop-color="#fffafa"/><stop offset="0.067" stop-color="#fffdfd"/><stop offset="0.100" stop-color="#fffdfd"/><stop offset="0.133" stop-color="#fffafa"/><stop offset="0.167" stop-color="#fff6f6"/><stop offset="0.200" stop-color="#ffeeee"/><stop offset="0.233" stop-color="#ffe2e2"/><stop offset="0.267" stop-color="#ffd6d6"/><stop offset="0.300" stop-color="#ffc9c9"/><stop offset="0.333" stop-color="#ffbbbb"/><stop offset="0.367" stop-color="#ffadad"/><stop offset="0.400" stop-color="#ffa6a6"/><stop offset="0.433" stop-color="#ff9e9e"/><stop offset="0.467" stop-color="#ff9999"/><stop offset="0.500" stop-color="#ff9999"/><stop offset="0.533" stop-color="#ff9999"/><stop offset="0.567" stop-color="#ff9b9b"/><stop offset="0.600" stop-color="#ff9d9d"/><stop offset="0.633" stop-color="#ff9f9f"/><stop offset="0.667" stop-color="#ffa0a0"/><stop offset="0.700" stop-color="#ffa1a1"/><stop offset="0.733" stop-color="#ffa2a2"/><stop offset="0.767" stop-color="#ffa7a7"/><stop offset="0.800" stop-color="#ffabab"/><stop offset="0.833" stop-color="#ffb0b0"/><stop offset="0.867" stop-color="#ffb5b5"/><stop offset="0.900" stop-color="#ffbbbb"/><stop offset="0.933" stop-color="#ffbebe"/><stop offset="0.967" stop-color="#ffc1c1"/><stop offset="1.000" stop-color="#ffc4c4"/></linearGradient><linearGradient id="g79"><stop offset="0.000" stop-color="#fffafa"/><stop offset="0.033" stop-color="#fffcfc"/><stop offset="0.067" stop-color="#ffffff"/><stop offset="0.100" stop-color="#fefeff"/><stop offset="0.133" stop-color="#fffdfd"/><stop offset="0.167" stop-color="#fff9f9"/><stop offset="0.200" stop-color="#fff1f1"/><stop offset="0.233" stop-color="#ffe5e5"/><stop offset="0.267" stop-color="#ffd8d8"/><stop offset="0.300" stop-color="#ffcbcb"/><stop offset="0.333" stop-color="#ffbdbd"/><stop offset="0.367" stop-color="#ffafaf"/><stop offset="0.400" stop-color="#ffa8a8"/><stop offset="0.433" stop-color="#ffa1a1"/><stop offset="0.467" stop-color="#ff9c9c"/><stop offset="0.500" stop-color="#ff9c9c"/><stop offset="0.533" stop-color="#ff9c9c"/><stop offset="0.567" stop-color="#ff9e9e"/><stop offset="0.600" stop-color="#ffa0a0"/><stop offset="0.633" stop-color="#ffa2a2"/><stop offset="0.667" stop-color="#ffa3a3"/><stop offset="0.700" stop-color="#ffa3a3"/><stop offset="0.733" stop-color="#ffa4a4"/><stop offset="0.767" stop-color="#ffa9a9"/><stop offset="0.800" stop-color="#ffadad"/><stop offset="0.833" stop-color="#ffb2b2"/><stop offset="0.867" stop-color="#ffb7b7"/><stop offset="0.900" stop-color="#ffbcbc"/><stop offset="0.933" stop-color="#ffc0c0"/><stop offset="0.967" stop-color="#ffc2c2"/><stop offset="1.000" stop-color="#ffc5c5"/></linearGradient><linearGradient id="g80"><stop offset="0.000" stop-color="#fffbfb"/><stop offset="0.033" stop-color="#fffefe"/><stop offset="0.067" stop-color="#fdfdff"/><stop offset="0.100" stop-color="#fbfbff"/><stop offset="0.133" stop-color="#ffffff"/><stop offset="0.167" stop-color="#fffcfc"/><stop offset="0.200" stop-color="#fff4f4"/><stop offset="0.233" stop-color="#ffe7e7"/><stop offset="0.267" stop-color="#ffdbdb"/><stop offset="0.300" stop-color="#ffcdcd"/><stop offset="0.333" stop-color="#ffbfbf"/><stop offset="0.367" stop-color="#ffb2b2"/><stop offset="0.400" stop-color="#ffaaaa"/><stop offset="0.433" stop-color="#ffa3a3"/><stop offset="0.467" stop-color="#ff9f9f"/><stop offset="0.500" stop-color="#ff9f9f"/><stop offset="0.533" stop-color="#ff9f9f"/><stop offset="0.567" stop-color="#ffa0a0"/><stop offset="0.600" stop-color="#ffa3a3"/><stop offset="0.633" stop-color="#ffa5a5"/><stop offset="0.667" stop-color="#ffa5a5"/><stop offset="0.700" stop-color="#ffa5a5"/><stop offset="0.733" stop-color="#ffa6a6"/><stop offset="0.767" stop-color="#ffabab"/><stop offset="0.800" stop-color="#ffb0b0"/><stop offset="0.833" stop-color="#ffb4b4"/><stop offset="0.867" stop-color="#ffb9b9"/><stop offset="0.900" stop-color="#ffbebe"/><stop offset="0.933" stop-color="#ffc1c1"/><stop offset="0.967" stop-color="#ffc3c3"/><stop offset="1.000" stop-color="#ffc6c6"/></linearGradient><linearGradient id="g81"><stop offset="0.000" stop-color="#fffcfc"/><stop offset="0.033" stop-color="#ffffff"/><stop offset="0.067" stop-color="#fcfcff"/><stop offset="0.100" stop-color="#fafaff"/><stop offset="0.133" stop-color="#fdfdff"/><stop offset="0.167" stop-color="#fffdfd"/><stop offset="0.200" stop-color="#fff5f5"/><stop offset="0.233" stop-color="#ffe9e9"/><stop offset="0.267" stop-color="#ffdcdc"/><stop offset="0.300" stop-color="#ffcfcf"/><stop offset="0.333" stop-color="#ffc1c1"/><stop offset="0.367" stop-color="#ffb4b4"/><stop offset="0.400" stop-color="#ffadad"/><stop offset="0.433" stop-color="#ffa6a6"/><stop offset="0.467" stop-color="#ffa1a1"/><stop offset="0.500" stop-color="#ffa1a1"/><stop offset="0.533" stop-color="#ffa1a1"/><stop offset="0.567" stop-color="#ffa3a3"/><stop offset="0.600" stop-color="#ffa5a5"/><stop offset="0.633" stop-color="#ffa7a7"/><stop offset="0.667" stop-color="#ffa8a8"/><stop offset="0.700" stop-color="#ffa8a8"/><stop offset="0.733" stop-color="#ffa8a8"/><stop offset="0.767" stop-color="#ffadad"/><stop offset="0.800" stop-color="#ffb1b1"/><stop offset="0.833" stop-color="#ffb6b6"/><stop offset="0.867" stop-color="#ffbaba"/><stop offset="0.900" stop-color="#ffbfbf"/><stop offset="0.933" stop-color="#ffc2c2"/><stop offset="0.967" stop-color="#ffc4c4"/><stop offset="1.000" stop-color="#ffc6c6"/></linearGradient><linearGradient id="g82"><stop offset="0.000" stop-color="#fffcfc"/><stop offset="0.033" stop-color="#ffffff"/><stop offset="0.067" stop-color="#fbfbff"/><stop offset="0.100" stop-color="#fafaff"/><stop offset="0.133" stop-color="#fdfdff"/><stop offset="0.167" stop-color="#fffefe"/><stop offset="0.200" stop-color="#fff6f6"/><stop offset="0.233" stop-color="#ffeaea"/><stop offset="0.267" stop-color="#ffdede"/><stop offset="0.300" stop-color="#ffd0d0"/><stop offset="0.333" stop-color="#ffc3c3"/><stop offset="0.367" stop-color="#ffb6b6"/><stop offset="0.400" stop-color="#ffafaf"/><stop offset="0.433" stop-color="#ffa8a8"/><stop offset="0.467" stop-color="#ffa3a3"/><stop offset="0.500" stop-color="#ffa3a3"/><stop offset="0.533" stop-color="#ffa3a3"/><stop offset="0.567" stop-color="#ffa5a5"/><stop offset="0.600" stop-color="#ffa7a7"/><stop offset="0.633" stop-color="#ffaaaa"/><stop offset="0.667" stop-color="#ffaaaa"/><stop offset="0.700" stop-color="#ffaaaa"/><stop offset="0.733" stop-color="#ffabab"/><stop offset="0.767" stop-color="#ffafaf"/><stop offset="0.800" stop-color="#ffb3b3"/><stop offset="0.833" stop-color="#ffb7b7"/><stop offset="0.867" stop-color="#ffbbbb"/><stop offset="0.900" stop-color="#ffbfbf"/><stop offset="0.933" stop-color="#ffc2c2"/><stop offset="0.967" stop-color="#ffc5c5"/><stop offset="1.000" stop-color="#ffc7c7"/></linearGradient><linearGradient id="g83"><stop offset="0.000" stop-color="#fffcfc"/><stop offset="0.033" stop-color="#fefeff"/><stop offset="0.067" stop-color="#fbfbff"/><stop offset="0.100" stop-color="#f9f9ff"/><stop offset="0.133" stop-color="#fcfcff"/><stop offset="0.167" stop-color="#ffffff"/><stop offset="0.200" stop-color="#fff7f7"/><stop offset="0.233" stop-color="#ffebeb"/><stop offset="0.267" stop-color="#ffdfdf"/><stop offset="0.300" stop-color="#ffd2d2"/><stop offset="0.333" stop-color="#ffc5c5"/><stop offset="0.367" stop-color="#ffb8b8"/><stop offset="0.400" stop-color="#ffb1b1"/><stop offset="0.433" stop-color="#ffaaaa"/><stop offset="0.467" stop-color="#ffa6a6"/><stop offset="0.500" stop-color="#ffa6a6"/><stop offset="0.533" stop-color="#ffa6a6"/><stop offset="0.567" stop-color="#ffa7a7"/><stop offset="0.600" stop-color="#ffa9a9"/><stop offset="0.633" stop-color="#ffacac"/><stop offset="0.667" stop-color="#ffacac"/><stop offset="0.700" stop-color="#ffacac"/><stop offset="0.733" stop-color="#ffadad"/><stop offset="0.767" stop-color="#ffb1b1"/><stop offset="0.800" stop-color="#ffb4b4"/><stop offset="0.833" stop-color="#ffb8b8"/><stop offset="0.867" stop-color="#ffbcbc"/><stop offset="0.900" stop-color="#ffc0c0"/><stop offset="0.933" stop-color="#ffc3c3"/><stop offset="0.967" stop-color="#ffc5c5"/><stop offset="1.000" stop-color="#ffc8c8"/></linearGradient><linearGradient id="g84"><stop offset="0.000" stop-color="#fffdfd"/><stop offset="0.033" stop-color="#fefeff"/><stop offset="0.067" stop-color="#fafaff"/><stop offset="0.100" stop-color="#f8f8ff"/><stop offset="0.133" stop-color="#fbfbff"/><stop offset="0.167" stop-color="#fefeff"/><stop offset="0.200" stop-color="#fff8f8"/><stop offset="0.233" stop-color="#ffecec"/><stop offset="0.267" stop-color="#ffe0e0"/><stop offset="0.300" stop-color="#ffd4d4"/><stop offset="0.333" stop-color="#ffc7c7"/><stop offset="0.367" stop-color="#ffbaba"/><stop offset="0.400" stop-color="#ffb3b3"/><stop offset="0.433" stop-color="#ffacac"/><stop offset="0.467" stop-color="#ffa8a8"/><stop offset="0.500" stop-color="#ffa8a8"/><stop offset="0.533" stop-color="#ffa8a8"/><stop offset="0.567" stop-color="#ffa9a9"/><stop offset="0.600" stop-color="#ffacac"/><stop offset="0.633" stop-color="#ffaeae"/><stop offset="0.667" stop-color="#ffaeae"/><stop offset="0.700" stop-color="#ffaeae"/><stop offset="0.733" stop-color="#ffafaf"/><stop offset="0.767" stop-color="#ffb2b2"/><stop offset="0.800" stop-color="#ffb6b6"/><stop offset="0.833" stop-color="#ffbaba"/><stop offset="0.867" stop-color="#ffbdbd"/><stop offset="0.900" stop-color="#ffc1c1"/><stop offset="0.933" stop-color="#ffc4c4"/><stop offset="0.967" stop-color="#ffc6c6"/><stop offset="1.000" stop-color="#ffc8c8"/></linearGradient><linearGradient id="g85"><stop offset="0.000" stop-color="#fffdfd"/><stop offset="0.033" stop-color="#fdfdff"/><stop offset="0.067" stop-color="#fafaff"/><stop offset="0.100" stop-color="#f8f8ff"/><stop offset="0.133" stop-color="#fbfbff"/><stop offset="0.167" stop-color="#fdfdff"/><stop offset="0.200" stop-color="#fff9f9"/><stop offset="0.233" stop-color="#ffeded"/><stop offset="0.267" stop-color="#ffe2e2"/><stop offset="0.300" stop-color="#ffd5d5"/><stop offset="0.333" stop-color="#ffc9c9"/><stop offset="0.367" stop-color="#ffbcbc"/><stop offset="0.400" stop-color="#ffb5b5"/><stop offset="0.433" stop-color="#ffaeae"/><stop offset="0.467" stop-color="#ffaaaa"/><stop offset="0.500" stop-color="#ffaaaa"/><stop offset="0.533" stop-color="#ffaaaa"/><stop offset="0.567" stop-color="#ffabab"/><stop offset="0.600" stop-color="#ffaeae"/><stop offset="0.633" stop-color="#ffb0b0"/><stop offset="0.667" stop-color="#ffb0b0"/><stop offset="0.700" stop-color="#ffb0b0"/><stop offset="0.733" stop-color="#ffb1b1"/><stop offset="0.767" stop-color="#ffb4b4"/><stop offset="0.800" stop-color="#ffb8b8"/><stop offset="0.833" stop-color="#ffbbbb"/><stop offset="0.867" stop-color="#ffbebe"/><stop offset="0.900" stop-color="#ffc2c2"/><stop offset="0.933" stop-color="#ffc4c4"/><stop offset="0.967" stop-color="#ffc7c7"/><stop offset="1.000" stop-color="#ffc9c9"/></linearGradient><linearGradient id="g86"><stop offset="0.000" stop-color="#fffefe"/><stop offset="0.033" stop-color="#fdfdff"/><stop offset="0.067" stop-color="#f9f9ff"/><stop offset="0.100" stop-color="#f7f7ff"/><stop offset="0.133" stop-color="#fafaff"/><stop offset="0.167" stop-color="#fdfdff"/><stop offset="0.200" stop-color="#fffafa"/><stop offset="0.233" stop-color="#ffefef"/><stop offset="0.267" stop-color="#ffe3e3"/><stop offset="0.300" stop-color="#ffd7d7"/><stop offset="0.333" stop-color="#ffcbcb"/><stop offset="0.367" stop-color="#ffbfbf"/><stop offset="0.400" stop-color="#ffb8b8"/><stop offset="0.433" stop-color="#ffb1b1"/><stop offset="0.467" stop-color="#ffacac"/><stop offset="0.500" stop-color="#ffacac"/><stop offset="0.533" stop-color="#ffacac"/><stop offset="0.567" stop-color="#ffaeae"/><stop offset="0.600" stop-color="#ffb0b0"/><stop offset="0.633" stop-color="#ffb2b2"/><stop offset="0.667" stop-color="#ffb2b2"/><stop offset="0.700" stop-color="#ffb2b2"/><stop offset="0.733" stop-color="#ffb3b3"/><stop offset="0.767" stop-color="#ffb6b6"/><stop offset="0.800" stop-color="#ffb9b9"/><stop offset="0.833" stop-color="#ffbcbc"/><stop offset="0.867" stop-color="#ffc0c0"/><stop offset="0.900" stop-color="#ffc3c3"/><stop offset="0.933" stop-color="#ffc5c5"/><stop offset="0.967" stop-color="#ffc8c8"/><stop offset="1.000" stop-color="#ffcaca"/></linearGradient><linearGradient id="g87"><stop offset="0.000" stop-color="#fffefe"/><stop offset="0.033" stop-color="#fcfcff"/><stop offset="0.067" stop-color="#f9f9ff"/><stop offset="0.100" stop-color="#f7f7ff"/><stop offset="0.133" stop-color="#f9f9ff"/><stop offset="0.167" stop-color="#fcfcff"/><stop offset="0.200" stop-color="#fffbfb"/><stop offset="0.233" stop-color="#fff0f0"/><stop offset="0.267" stop-color="#ffe5e5"/><stop offset="0.300" stop-color="#ffd9d9"/><stop offset="0.333" stop-color="#ffcccc"/><stop offset="0.367" stop-color="#ffc1c1"/><stop offset="0.400" stop-color="#ffbaba"/><stop offset="0.433" stop-color="#ffb3b3"/><stop offset="0.467" stop-color="#ffaeae"/><stop offset="0.500" stop-color="#ffaeae"/><stop offset="0.533" stop-color="#ffaeae"/><stop offset="0.567" stop-color="#ffb0b0"/><stop offset="0.600" stop-color="#ffb2b2"/><stop offset="0.633" stop-color="#ffb4b4"/><stop offset="0.667" stop-color="#ffb5b5"/><stop offset="0.700" stop-color="#ffb5b5"/><stop offset="0.733" stop-color="#ffb5b5"/><stop offset="0.767" stop-color="#ffb8b8"/><stop offset="0.800" stop-color="#ffbbbb"/><stop offset="0.833" stop-color="#ffbebe"/><stop offset="0.867" stop-color="#ffc1c1"/><stop offset="0.900" stop-color="#ffc3c3"/><stop offset="0.933" stop-color="#ffc6c6"/><stop offset="0.967" stop-color="#ffc8c8"/><stop offset="1.000" stop-color="#ffcbcb"/></linearGradient><linearGradient id="g88"><stop offset="0.000" stop-color="#ffffff"/><stop offset="0.033" stop-color="#fcfcff"/><stop offset="0.067" stop-color="#f8f8ff"/><stop offset="0.100" stop-color="#f6f6ff"/><stop offset="0.133" stop-color="#f8f8ff"/><stop offset="0.167" stop-color="#fbfbff"/><stop offset="0.200" stop-color="#fffcfc"/><stop offset="0.233" stop-color="#fff1f1"/><stop offset="0.267" stop-color="#ffe6e6"/><stop offset="0.300" stop-color="#ffdada"/><stop offset="0.333" stop-color="#ffcece"/><stop offset="0.367" stop-color="#ffc3c3"/><stop offset="0.400" stop-color="#ffbcbc"/><stop offset="0.433" stop-color="#ffb5b5"/><stop offset="0.467" stop-color="#ffb0b0"/><stop offset="0.500" stop-color="#ffb0b0"/><stop offset="0.533" stop-color="#ffb0b0"/><stop offset="0.567" stop-color="#ffb2b2"/><stop offset="0.600" stop-color="#ffb4b4"/><stop offset="0.633" stop-color="#ffb7b7"/><stop offset="0.667" stop-color="#ffb7b7"/><stop offset="0.700" stop-color="#ffb7b7"/><stop offset="0.733" stop-color="#ffb7b7"/><stop offset="0.767" stop-color="#ffbaba"/><stop offset="0.800" stop-color="#ffbcbc"/><stop offset="0.833" stop-color="#ffbfbf"/><stop offset="0.867" stop-color="#ffc2c2"/><stop offset="0.900" stop-color="#ffc4c4"/><stop offset="0.933" stop-color="#ffc7c7"/><stop offset="0.967" stop-color="#ffc9c9"/><stop offset="1.000" stop-color="#ffcbcb"/></linearGradient><linearGradient id="g89"><stop offset="0.000" stop-color="#ffffff"/><stop offset="0.033" stop-color="#fbfbff"/><stop offset="0.067" stop-color="#f8f8ff"/><stop offset="0.100" stop-color="#f6f6ff"/><stop offset="0.133" stop-color="#f8f8ff"/><stop offset="0.167" stop-color="#fafaff"/><stop offset="0.200" stop-color="#fffdfd"/><stop offset="0.233" stop-color="#fff2f2"/><stop offset="0.267" stop-color="#ffe7e7"/><stop offset="0.300" stop-color="#ffdcdc"/><stop offset="0.333" stop-color="#ffd0d0"/><stop offset="0.367" stop-color="#ffc4c4"/><stop offset="0.400" stop-color="#ffbdbd"/><stop offset="0.433" stop-color="#ffb6b6"/><stop offset="0.467" stop-color="#ffb2b2"/><stop offset="0.500" stop-color="#ffb2b2"/><stop offset="0.533" stop-color="#ffb2b2"/><stop offset="0.567" stop-color="#ffb3b3"/><stop offset="0.600" stop-color="#ffb6b6"/><stop offset="0.633" stop-color="#ffb8b8"/><stop offset="0.667" stop-color="#ffb8b8"/><stop offset="0.700" stop-color="#ffb8b8"/><stop offset="0.733" stop-color="#ffb9b9"/><stop offset="0.767" stop-color="#ffbbbb"/><stop offset="0.800" stop-color="#ffbebe"/><stop offset="0.833" stop-color="#ffc0c0"/><stop offset="0.867" stop-color="#ffc2c2"/><stop offset="0.900" stop-color="#ffc5c5"/><stop offset="0.933" stop-color="#ffc7c7"/><stop offset="0.967" stop-color="#ffc9c9"/><stop offset="1.000" stop-color="#ffcccc"/></linearGradient></defs>
<rect x="22.3" y="158" width="184.2" height="2.3" fill="url(#g46)"/><rect x="22.3" y="160" width="184.2" height="2.3" fill="url(#g47)"/><rect x="22.3" y="162" width="184.2" height="2.3" fill="url(#g48)"/><rect x="22.3" y="164" width="184.2" height="2.3" fill="url(#g49)"/><rect x="22.3" y="166" width="184.2" height="2.3" fill="url(#g50)"/><rect x="22.3" y="168" width="184.2" height="2.3" fill="url(#g51)"/><rect x="22.3" y="170" width="184.2" height="2.3" fill="url(#g52)"/><rect x="22.3" y="172" width="184.2" height="2.3" fill="url(#g53)"/><rect x="22.3" y="174" width="184.2" height="2.3" fill="url(#g54)"/><rect x="22.3" y="176" width="184.2" height="2.3" fill="url(#g55)"/><rect x="22.3" y="178" width="184.2" height="2.3" fill="url(#g56)"/><rect x="22.3" y="180" width="184.2" height="2.3" fill="url(#g57)"/><rect x="22.3" y="182" width="184.2" height="2.3" fill="url(#g58)"/><rect x="22.3" y="184" width="184.2" height="2.3" fill="url(#g59)"/><rect x="22.3" y="186" width="184.2" height="2.3" fill="url(#g60)"/><rect x="22.3" y="188" width="184.2" height="2.3" fill="url(#g61)"/><rect x="22.3" y="190" width="184.2" height="2.3" fill="url(#g62)"/><rect x="22.3" y="192" width="184.2" height="2.3" fill="url(#g63)"/><rect x="22.3" y="194" width="184.2" height="2.3" fill="url(#g64)"/><rect x="22.3" y="196" width="184.2" height="2.3" fill="url(#g65)"/><rect x="22.3" y="198" width="184.2" height="2.3" fill="url(#g66)"/><rect x="22.3" y="200" width="184.2" height="2.3" fill="url(#g67)"/><rect x="22.3" y="202" width="184.2" height="2.3" fill="url(#g68)"/><rect x="22.3" y="204" width="184.2" height="2.3" fill="url(#g69)"/><rect x="22.3" y="206" width="184.2" height="2.3" fill="url(#g70)"/><rect x="22.3" y="208" width="184.2" height="2.3" fill="url(#g71)"/><rect x="22.3" y="210" width="184.2" height="2.3" fill="url(#g72)"/><rect x="22.3" y="212" width="184.2" height="2.3" fill="url(#g73)"/><rect x="22.3" y="214" width="184.2" height="2.3" fill="url(#g74)"/><rect x="22.3" y="216" width="184.2" height="2.3" fill="url(#g75)"/><rect x="22.3" y="218" width="184.2" height="2.3" fill="url(#g76)"/><rect x="22.3" y="220" width="184.2" height="2.3" fill="url(#g77)"/><rect x="22.3" y="222" width="184.2" height="2.3" fill="url(#g78)"/><rect x="22.3" y="224" width="184.2" height="2.3" fill="url(#g79)"/><rect x="22.3" y="226" width="184.2" height="2.3" fill="url(#g80)"/><rect x="22.3" y="228" width="184.2" height="2.3" fill="url(#g81)"/><rect x="22.3" y="230" width="184.2" height="2.3" fill="url(#g82)"/><rect x="22.3" y="232" width="184.2" height="2.3" fill="url(#g83)"/><rect x="22.3" y="234" width="184.2" height="2.3" fill="url(#g84)"/><rect x="22.3" y="236" width="184.2" height="2.3" fill="url(#g85)"/><rect x="22.3" y="238" width="184.2" height="2.3" fill="url(#g86)"/><rect x="22.3" y="240" width="184.2" height="2.3" fill="url(#g87)"/><rect x="22.3" y="242" width="184.2" height="2.3" fill="url(#g88)"/><rect x="22.3" y="244" width="184.2" height="1.2" fill="url(#g89)"/>
<clipPath id="clipC"><rect x="22.3" y="158" width="184.2" height="86.9"/></clipPath>
<g clip-path="url(#clipC)">
<path d="M35.4 157.8 L35 165.4 L32.2 173.9 L28.5 182.3 L22.3 188.9" stroke="#303030" stroke-width="0.45" fill="none"/>
<path d="M51 157.8 L50.6 172.9 L48.2 182.3 L42.6 193.6 L35.4 199.3 L22.3 205.5" stroke="#303030" stroke-width="0.45" fill="none"/>
<path d="M22.3 220.2 L39.8 215.8 L50.8 210.3 L58.5 200.4 L61.8 198.2 L71.3 185.4 L86.5 187.3 L89.3 187.6 L94.5 196 L112.4 205.5 L125 211.5 L151.7 217.7 L178.5 223 L206.5 225.7" stroke="#303030" stroke-width="0.45" fill="none"/>
<path d="M22.3 234.5 L35.4 232.3 L50.8 226.8 L72.8 218 L86 218 L94.8 219.1 L103.6 221.3 L116.8 225.7 L150 233.5 L173 241.8 L192 246" stroke="#303030" stroke-width="0.45" fill="none"/>
<path d="M59.6 245 L72.8 242.6 L83.8 242.6 L92.6 243.3 L103.6 245" stroke="#303030" stroke-width="0.45" fill="none"/>
<path d="M129.14 157.8 L129.26 158.37 L129.39 158.73 L129.54 159.03 L129.71 159.3 L129.9 159.54 L130.11 159.77 L130.34 159.98 L130.57 160.17 L130.83 160.36 L131.1 160.53 L131.38 160.68 L131.67 160.83 L131.97 160.96 L132.28 161.08 L132.59 161.19 L132.91 161.29 L133.24 161.37 L133.57 161.45 L133.9 161.51 L134.23 161.56 L134.56 161.61 L134.89 161.63 L135.22 161.65 L135.54 161.66 L135.85 161.65 L136.15 161.63 L136.45 161.61 L136.73 161.56 L137 161.51 L137.26 161.45 L137.51 161.37 L137.74 161.29 L137.95 161.19 L138.15 161.08 L138.32 160.96 L138.48 160.83 L138.63 160.68 L138.75 160.53 L138.85 160.36 L138.93 160.17 L138.98 159.98 L139.02 159.77 L139.03 159.54 L139.03 159.3 L139 159.03 L138.95 158.73 L138.88 158.37 L138.79 157.8" stroke="#303030" stroke-width="0.45" fill="none"/>
<path d="M126.29 157.8 L126.51 158.94 L126.78 159.65 L127.08 160.26 L127.43 160.79 L127.81 161.29 L128.22 161.74 L128.67 162.16 L129.15 162.55 L129.66 162.91 L130.19 163.25 L130.75 163.56 L131.33 163.85 L131.93 164.12 L132.55 164.36 L133.18 164.58 L133.83 164.78 L134.48 164.95 L135.14 165.1 L135.81 165.23 L136.47 165.33 L137.13 165.41 L137.79 165.47 L138.43 165.5 L139.07 165.51 L139.7 165.5 L140.3 165.47 L140.89 165.41 L141.46 165.33 L142 165.23 L142.52 165.1 L143.01 164.95 L143.47 164.78 L143.9 164.58 L144.29 164.36 L144.65 164.12 L144.97 163.85 L145.25 163.56 L145.49 163.25 L145.69 162.91 L145.85 162.55 L145.97 162.16 L146.04 161.74 L146.07 161.29 L146.06 160.79 L146 160.26 L145.9 159.65 L145.76 158.94 L145.57 157.8" stroke="#303030" stroke-width="0.45" fill="none"/>
<path d="M123.43 157.8 L123.77 159.52 L124.17 160.58 L124.63 161.49 L125.14 162.29 L125.71 163.03 L126.33 163.71 L127.01 164.34 L127.72 164.92 L128.49 165.47 L129.29 165.98 L130.13 166.45 L131 166.88 L131.9 167.28 L132.83 167.64 L133.78 167.97 L134.74 168.26 L135.72 168.52 L136.71 168.75 L137.71 168.94 L138.7 169.09 L139.69 169.22 L140.68 169.3 L141.65 169.35 L142.61 169.37 L143.54 169.35 L144.45 169.3 L145.34 169.22 L146.19 169.09 L147.01 168.94 L147.78 168.75 L148.52 168.52 L149.21 168.26 L149.85 167.97 L150.44 167.64 L150.97 167.28 L151.45 166.88 L151.88 166.45 L152.24 165.98 L152.54 165.47 L152.78 164.92 L152.95 164.34 L153.06 163.71 L153.1 163.03 L153.08 162.29 L153 161.49 L152.85 160.58 L152.63 159.52 L152.36 157.8" stroke="#303030" stroke-width="0.45" fill="none"/>
<path d="M120.57 157.8 L121.02 160.09 L121.56 161.51 L122.17 162.71 L122.86 163.79 L123.62 164.77 L124.44 165.68 L125.34 166.52 L126.3 167.3 L127.31 168.02 L128.38 168.7 L129.5 169.33 L130.66 169.91 L131.87 170.44 L133.1 170.92 L134.37 171.36 L135.66 171.75 L136.96 172.1 L138.28 172.4 L139.61 172.65 L140.94 172.86 L142.26 173.02 L143.57 173.14 L144.87 173.21 L146.14 173.23 L147.39 173.21 L148.61 173.14 L149.78 173.02 L150.92 172.86 L152.01 172.65 L153.04 172.4 L154.02 172.1 L154.94 171.75 L155.8 171.36 L156.58 170.92 L157.3 170.44 L157.94 169.91 L158.5 169.33 L158.98 168.7 L159.38 168.02 L159.7 167.3 L159.93 166.52 L160.08 165.68 L160.14 164.77 L160.11 163.79 L160 162.71 L159.8 161.51 L159.51 160.09 L159.14 157.8" stroke="#303030" stroke-width="0.45" fill="none"/>
<path d="M117.71 157.8 L118.28 160.66 L118.95 162.44 L119.71 163.94 L120.57 165.29 L121.52 166.51 L122.56 167.65 L123.68 168.7 L124.87 169.67 L126.14 170.58 L127.48 171.43 L128.88 172.21 L130.33 172.93 L131.83 173.6 L133.38 174.2 L134.96 174.75 L136.57 175.24 L138.21 175.67 L139.86 176.05 L141.51 176.36 L143.17 176.62 L144.82 176.83 L146.46 176.97 L148.09 177.06 L149.68 177.09 L151.24 177.06 L152.76 176.97 L154.23 176.83 L155.65 176.62 L157.01 176.36 L158.31 176.05 L159.53 175.67 L160.68 175.24 L161.75 174.75 L162.73 174.2 L163.62 173.6 L164.42 172.93 L165.13 172.21 L165.73 171.43 L166.23 170.58 L166.63 169.67 L166.92 168.7 L167.1 167.65 L167.17 166.51 L167.14 165.29 L167 163.94 L166.75 162.44 L166.39 160.66 L165.93 157.8" stroke="#303030" stroke-width="0.45" fill="none"/>
<path d="M114.86 157.8 L115.54 161.23 L116.34 163.36 L117.25 165.17 L118.28 166.78 L119.42 168.26 L120.67 169.61 L122.01 170.87 L123.45 172.05 L124.97 173.14 L126.57 174.15 L128.25 175.09 L130 175.96 L131.8 176.75 L133.66 177.48 L135.55 178.14 L137.49 178.73 L139.45 179.25 L141.43 179.7 L143.42 180.08 L145.41 180.39 L147.39 180.63 L149.36 180.8 L151.3 180.91 L153.21 180.94 L155.09 180.91 L156.91 180.8 L158.68 180.63 L160.38 180.39 L162.01 180.08 L163.57 179.7 L165.04 179.25 L166.42 178.73 L167.7 178.14 L168.88 177.48 L169.95 176.75 L170.91 175.96 L171.75 175.09 L172.48 174.15 L173.08 173.14 L173.55 172.05 L173.9 170.87 L174.12 169.61 L174.21 168.26 L174.17 166.78 L174 165.17 L173.7 163.36 L173.27 161.23 L172.71 157.8" stroke="#303030" stroke-width="0.45" fill="none"/>
<path d="M112 157.8 L112.79 161.8 L113.72 164.29 L114.79 166.4 L116 168.28 L117.33 170 L118.78 171.58 L120.35 173.05 L122.02 174.42 L123.8 175.69 L125.67 176.88 L127.63 177.97 L129.66 178.98 L131.77 179.91 L133.93 180.76 L136.15 181.53 L138.4 182.21 L140.69 182.82 L143 183.34 L145.32 183.79 L147.64 184.15 L149.95 184.44 L152.25 184.64 L154.52 184.76 L156.75 184.8 L158.93 184.76 L161.06 184.64 L163.12 184.44 L165.11 184.15 L167.01 183.79 L168.83 183.34 L170.54 182.82 L172.15 182.21 L173.65 181.53 L175.02 180.76 L176.27 179.91 L177.39 178.98 L178.38 177.97 L179.22 176.88 L179.92 175.69 L180.48 174.42 L180.88 173.05 L181.14 171.58 L181.24 170 L181.2 168.28 L181 166.4 L180.65 164.29 L180.15 161.8 L179.5 157.8" stroke="#303030" stroke-width="0.45" fill="none"/>
<path d="M109.14 157.8 L110.05 162.37 L111.11 165.22 L112.34 167.63 L113.71 169.78 L115.23 171.74 L116.89 173.55 L118.68 175.23 L120.6 176.79 L122.63 178.25 L124.77 179.6 L127 180.85 L129.33 182.01 L131.73 183.07 L134.21 184.04 L136.74 184.92 L139.32 185.7 L141.93 186.39 L144.57 186.99 L147.22 187.5 L149.87 187.92 L152.52 188.24 L155.14 188.47 L157.74 188.61 L160.29 188.66 L162.78 188.61 L165.21 188.47 L167.57 188.24 L169.84 187.92 L172.02 187.5 L174.09 186.99 L176.05 186.39 L177.89 185.7 L179.6 184.92 L181.17 184.04 L182.6 183.07 L183.88 182.01 L185 180.85 L185.97 179.6 L186.77 178.25 L187.4 176.79 L187.87 175.23 L188.16 173.55 L188.28 171.74 L188.23 169.78 L188 167.63 L187.6 165.22 L187.03 162.37 L186.29 157.8" stroke="#303030" stroke-width="0.45" fill="none"/>
<path d="M106.29 157.8 L107.3 162.95 L108.5 166.15 L109.88 168.86 L111.42 171.28 L113.13 173.48 L115 175.52 L117.02 177.41 L119.17 179.17 L121.46 180.81 L123.86 182.33 L126.38 183.74 L129 185.04 L131.7 186.23 L134.48 187.32 L137.33 188.31 L140.23 189.19 L143.17 189.97 L146.14 190.64 L149.12 191.21 L152.11 191.68 L155.08 192.05 L158.04 192.31 L160.95 192.46 L163.82 192.51 L166.63 192.46 L169.36 192.31 L172.02 192.05 L174.57 191.68 L177.02 191.21 L179.35 190.64 L181.56 189.97 L183.62 189.19 L185.55 188.31 L187.31 187.32 L188.92 186.23 L190.36 185.04 L191.63 183.74 L192.71 182.33 L193.62 180.81 L194.33 179.17 L194.85 177.41 L195.18 175.52 L195.31 173.48 L195.25 171.28 L195 168.86 L194.55 166.15 L193.9 162.95 L193.07 157.8" stroke="#303030" stroke-width="0.45" fill="none"/>
<path d="M103.43 157.8 L104.56 163.52 L105.89 167.07 L107.42 170.09 L109.14 172.77 L111.04 175.23 L113.11 177.49 L115.35 179.59 L117.75 181.54 L120.28 183.36 L122.96 185.05 L125.75 186.62 L128.66 188.06 L131.67 189.39 L134.76 190.6 L137.92 191.7 L141.14 192.68 L144.41 193.54 L147.71 194.29 L151.03 194.93 L154.34 195.45 L157.65 195.85 L160.93 196.14 L164.17 196.31 L167.36 196.37 L170.48 196.31 L173.52 196.14 L176.46 195.85 L179.3 195.45 L182.02 194.93 L184.61 194.29 L187.06 193.54 L189.36 192.68 L191.5 191.7 L193.46 190.6 L195.25 189.39 L196.85 188.06 L198.25 186.62 L199.46 185.05 L200.46 183.36 L201.25 181.54 L201.84 179.59 L202.2 177.49 L202.35 175.23 L202.28 172.77 L202 170.09 L201.5 167.07 L200.78 163.52 L199.86 157.8" stroke="#303030" stroke-width="0.45" fill="none"/>
<path d="M100.57 157.8 L101.82 164.09 L103.28 168 L104.96 171.32 L106.85 174.27 L108.94 176.97 L111.22 179.46 L113.69 181.77 L116.32 183.92 L119.11 185.92 L122.05 187.78 L125.13 189.5 L128.33 191.09 L131.63 192.55 L135.03 193.88 L138.51 195.09 L142.06 196.16 L145.65 197.12 L149.28 197.94 L152.93 198.64 L156.58 199.21 L160.21 199.66 L163.82 199.97 L167.39 200.16 L170.89 200.23 L174.32 200.16 L177.67 199.97 L180.91 199.66 L184.03 199.21 L187.02 198.64 L189.87 197.94 L192.57 197.12 L195.09 196.16 L197.44 195.09 L199.61 193.88 L201.57 192.55 L203.33 191.09 L204.88 189.5 L206.21 187.78 L207.31 185.92 L208.18 183.92 L208.82 181.77 L209.22 179.46 L209.38 176.97 L209.31 174.27 L209 171.32 L208.45 168 L207.66 164.09 L206.64 157.8" stroke="#303030" stroke-width="0.45" fill="none"/>
<path d="M97.71 157.8 L99.07 164.66 L100.67 168.93 L102.5 172.54 L104.57 175.77 L106.85 178.71 L109.33 181.43 L112.02 183.95 L114.89 186.29 L117.94 188.47 L121.15 190.5 L124.51 192.38 L127.99 194.12 L131.6 195.71 L135.31 197.16 L139.11 198.48 L142.97 199.65 L146.89 200.69 L150.85 201.59 L154.83 202.35 L158.81 202.98 L162.78 203.46 L166.72 203.81 L170.6 204.02 L174.43 204.09 L178.17 204.02 L181.82 203.81 L185.35 203.46 L188.76 202.98 L192.03 202.35 L195.13 201.59 L198.07 200.69 L200.83 199.65 L203.39 198.48 L205.75 197.16 L207.9 195.71 L209.82 194.12 L211.5 192.38 L212.95 190.5 L214.15 188.47 L215.11 186.29 L215.8 183.95 L216.24 181.43 L216.42 178.71 L216.34 175.77 L216 172.54 L215.39 168.93 L214.54 164.66 L213.43 157.8" stroke="#303030" stroke-width="0.45" fill="none"/>
<path d="M94.86 157.8 L96.33 165.23 L98.06 169.86 L100.05 173.77 L102.28 177.27 L104.75 180.46 L107.45 183.4 L110.36 186.13 L113.47 188.67 L116.77 191.03 L120.25 193.23 L123.88 195.26 L127.66 197.14 L131.57 198.87 L135.59 200.44 L139.7 201.87 L143.89 203.14 L148.14 204.26 L152.42 205.24 L156.73 206.06 L161.05 206.74 L165.34 207.27 L169.61 207.64 L173.82 207.87 L177.96 207.94 L182.02 207.87 L185.97 207.64 L189.8 207.27 L193.49 206.74 L197.03 206.06 L200.4 205.24 L203.58 204.26 L206.57 203.14 L209.34 201.87 L211.9 200.44 L214.22 198.87 L216.3 197.14 L218.13 195.26 L219.7 193.23 L221 191.03 L222.03 188.67 L222.79 186.13 L223.26 183.4 L223.45 180.46 L223.37 177.27 L223 173.77 L222.34 169.86 L221.42 165.23 L220.21 157.8" stroke="#303030" stroke-width="0.45" fill="none"/>
<path d="M92 157.8 L93.58 165.8 L95.45 170.78 L97.59 175 L99.99 178.76 L102.65 182.2 L105.56 185.37 L108.69 188.31 L112.04 191.04 L115.6 193.59 L119.34 195.95 L123.26 198.14 L127.33 200.17 L131.53 202.03 L135.86 203.72 L140.29 205.26 L144.8 206.63 L149.38 207.84 L153.99 208.89 L158.64 209.78 L163.28 210.51 L167.91 211.07 L172.5 211.48 L177.04 211.72 L181.5 211.8 L185.87 211.72 L190.12 211.48 L194.25 211.07 L198.22 210.51 L202.03 209.78 L205.66 208.89 L209.09 207.84 L212.3 206.63 L215.29 205.26 L218.05 203.72 L220.55 202.03 L222.79 200.17 L224.75 198.14 L226.44 195.95 L227.85 193.59 L228.96 191.04 L229.77 188.31 L230.28 185.37 L230.49 182.2 L230.39 178.76 L229.99 175 L229.29 170.78 L228.29 165.8 L227 157.8" stroke="#303030" stroke-width="0.45" fill="none"/>
<path d="M22.3 188.93 L39.05 190.87 L55.79 199.67 L72.54 199.67 L89.28 188.93 L106.03 164.12 L122.77 160.07 L139.52 160.95 L156.26 165.35 L173.01 170.28 L189.75 176.26 L206.5 183.83" stroke="#b22222" stroke-width="0.9" fill="none"/>
<path d="M22.3 192.28 L39.05 196.32 L55.79 202.66 L72.54 199.49 L89.28 185.06 L106.03 161.3 L122.77 158.66 L139.52 159.54 L156.26 163.94 L173.01 169.04 L189.75 175.2 L206.5 182.95" stroke="#b22222" stroke-width="0.9" fill="none" stroke-dasharray="3,1.4"/>
</g>
<rect x="22.3" y="158" width="184.2" height="86.9" fill="none" stroke="#333" stroke-width="0.7"/>
<path d="M22.3 244.9 L22.3 246.9" stroke="#333" stroke-width="0.6" fill="none"/>
<text x="22.3" y="253.2" font-size="6.1" text-anchor="middle" fill="#1a1a1a">Jan</text>
<path d="M39.05 244.9 L39.05 246.9" stroke="#333" stroke-width="0.6" fill="none"/>
<text x="39.05" y="253.2" font-size="6.1" text-anchor="middle" fill="#1a1a1a">Feb</text>
<path d="M55.79 244.9 L55.79 246.9" stroke="#333" stroke-width="0.6" fill="none"/>
<text x="55.79" y="253.2" font-size="6.1" text-anchor="middle" fill="#1a1a1a">Mar</text>
<path d="M72.54 244.9 L72.54 246.9" stroke="#333" stroke-width="0.6" fill="none"/>
<text x="72.54" y="253.2" font-size="6.1" text-anchor="middle" fill="#1a1a1a">Apr</text>
<path d="M89.28 244.9 L89.28 246.9" stroke="#333" stroke-width="0.6" fill="none"/>
<text x="89.28" y="253.2" font-size="6.1" text-anchor="middle" fill="#1a1a1a">May</text>
<path d="M106.03 244.9 L106.03 246.9" stroke="#333" stroke-width="0.6" fill="none"/>
<text x="106.03" y="253.2" font-size="6.1" text-anchor="middle" fill="#1a1a1a">Jun</text>
<path d="M122.77 244.9 L122.77 246.9" stroke="#333" stroke-width="0.6" fill="none"/>
<text x="122.77" y="253.2" font-size="6.1" text-anchor="middle" fill="#1a1a1a">Jul</text>
<path d="M139.52 244.9 L139.52 246.9" stroke="#333" stroke-width="0.6" fill="none"/>
<text x="139.52" y="253.2" font-size="6.1" text-anchor="middle" fill="#1a1a1a">Aug</text>
<path d="M156.26 244.9 L156.26 246.9" stroke="#333" stroke-width="0.6" fill="none"/>
<text x="156.26" y="253.2" font-size="6.1" text-anchor="middle" fill="#1a1a1a">Sep</text>
<path d="M173.01 244.9 L173.01 246.9" stroke="#333" stroke-width="0.6" fill="none"/>
<text x="173.01" y="253.2" font-size="6.1" text-anchor="middle" fill="#1a1a1a">Oct</text>
<path d="M189.75 244.9 L189.75 246.9" stroke="#333" stroke-width="0.6" fill="none"/>
<text x="189.75" y="253.2" font-size="6.1" text-anchor="middle" fill="#1a1a1a">Nov</text>
<path d="M206.5 244.9 L206.5 246.9" stroke="#333" stroke-width="0.6" fill="none"/>
<text x="206.5" y="253.2" font-size="6.1" text-anchor="middle" fill="#1a1a1a">Dec</text>
<path d="M20.3 174.5 L22.3 174.5" stroke="#333" stroke-width="0.6" fill="none"/>
<text x="19.3" y="176.7" font-size="6.1" text-anchor="end" fill="#1a1a1a">10</text>
<path d="M20.3 192.1 L22.3 192.1" stroke="#333" stroke-width="0.6" fill="none"/>
<text x="19.3" y="194.3" font-size="6.1" text-anchor="end" fill="#1a1a1a">20</text>
<path d="M20.3 209.7 L22.3 209.7" stroke="#333" stroke-width="0.6" fill="none"/>
<text x="19.3" y="211.9" font-size="6.1" text-anchor="end" fill="#1a1a1a">30</text>
<path d="M20.3 227.3 L22.3 227.3" stroke="#333" stroke-width="0.6" fill="none"/>
<text x="19.3" y="229.5" font-size="6.1" text-anchor="end" fill="#1a1a1a">40</text>
<path d="M20.3 244.9 L22.3 244.9" stroke="#333" stroke-width="0.6" fill="none"/>
<text x="19.3" y="247.1" font-size="6.1" text-anchor="end" fill="#1a1a1a">50</text>
<text x="114.8" y="260.9" font-size="6.2" text-anchor="middle" fill="#1a1a1a">month</text>
<text x="10" y="201" font-size="6.7" text-anchor="middle" fill="#1a1a1a" transform="rotate(-90 10 201)">depth [m]</text>
<text x="11.2" y="156.4" font-size="11.2" text-anchor="start" fill="#111" font-weight="bold" textLength="12.4" lengthAdjust="spacingAndGlyphs">(c)</text>
<text x="58" y="154.4" font-size="7.0" text-anchor="start" fill="#1a1a1a" textLength="112.3" lengthAdjust="spacingAndGlyphs">Difference of salinity,  POST.lvl - POST.rdg</text>
<text x="32.4" y="173.5" font-size="6.1" text-anchor="middle" fill="#1a1a1a" transform="rotate(-68 32.4 173.5)" dominant-baseline="central" stroke="#222" stroke-width="0.06">33.2</text>
<text x="47.8" y="182.4" font-size="6.1" text-anchor="middle" fill="#1a1a1a" transform="rotate(-72 47.8 182.4)" dominant-baseline="central" stroke="#222" stroke-width="0.06">33.3</text>
<text x="61.5" y="198.5" font-size="6.1" text-anchor="middle" fill="#1a1a1a" transform="rotate(-50 61.5 198.5)" dominant-baseline="central" stroke="#222" stroke-width="0.06">33.4</text>
<text x="94.8" y="219.3" font-size="6.1" text-anchor="middle" fill="#1a1a1a" transform="rotate(8 94.8 219.3)" dominant-baseline="central" stroke="#222" stroke-width="0.06">33.5</text>
<text x="83.8" y="242.6" font-size="6.1" text-anchor="middle" fill="#1a1a1a" dominant-baseline="central" stroke="#222" stroke-width="0.06">33.6</text>
<text x="112.3" y="182.8" font-size="6.1" text-anchor="middle" fill="#1a1a1a" transform="rotate(-45 112.3 182.8)" dominant-baseline="central" stroke="#222" stroke-width="0.06">33.2</text>
<text x="120" y="184.5" font-size="6.1" text-anchor="middle" fill="#1a1a1a" transform="rotate(-45 120 184.5)" dominant-baseline="central" stroke="#222" stroke-width="0.06">33.1</text>
<text x="127.5" y="183.5" font-size="6.1" text-anchor="middle" fill="#1a1a1a" transform="rotate(-45 127.5 183.5)" dominant-baseline="central" stroke="#222" stroke-width="0.06">33.0</text>
<text x="139.8" y="180.2" font-size="6.1" text-anchor="middle" fill="#1a1a1a" transform="rotate(-10 139.8 180.2)" dominant-baseline="central" stroke="#222" stroke-width="0.06">32.7</text>
<text x="155.8" y="179.5" font-size="6.1" text-anchor="middle" fill="#1a1a1a" transform="rotate(-20 155.8 179.5)" dominant-baseline="central" stroke="#222" stroke-width="0.06">32.8</text>
<text x="139" y="164.6" font-size="6.1" text-anchor="middle" fill="#1a1a1a" dominant-baseline="central" stroke="#222" stroke-width="0.06">32.0</text>
<text x="149" y="167.6" font-size="6.1" text-anchor="middle" fill="#1a1a1a" transform="rotate(-20 149 167.6)" dominant-baseline="central" stroke="#222" stroke-width="0.06">32.1</text>
<text x="137.5" y="172.4" font-size="6.1" text-anchor="middle" fill="#1a1a1a" dominant-baseline="central" stroke="#222" stroke-width="0.06">32.4</text>
<text x="138.4" y="168.6" font-size="6.1" text-anchor="middle" fill="#1a1a1a" dominant-baseline="central" stroke="#222" stroke-width="0.06">32.2</text>
<text x="111.5" y="166" font-size="6.1" text-anchor="middle" fill="#1a1a1a" transform="rotate(-60 111.5 166)" dominant-baseline="central" stroke="#222" stroke-width="0.06">32.9</text>
<text x="203.6" y="161.5" font-size="5.6" text-anchor="middle" fill="#1a1a1a" transform="rotate(-90 203.6 161.5)" dominant-baseline="central" stroke="#222" stroke-width="0.06">32</text>
<rect x="115.8" y="225.3" width="87.4" height="16.2" rx="1" fill="#fff" fill-opacity="0.8" stroke="#d0d0d0" stroke-width="0.5"/>
<path d="M117.3 228.8 L128.1 228.8" stroke="#b22222" stroke-width="0.9" fill="none"/>
<path d="M117.3 237.2 L128.1 237.2" stroke="#b22222" stroke-width="0.9" fill="none" stroke-dasharray="3,1.4"/>
<text x="131.6" y="231" font-size="6.1" text-anchor="start" fill="#1a1a1a" textLength="69.5" lengthAdjust="spacingAndGlyphs">Mixed layer depth, POST.rdg</text>
<text x="131.6" y="239.4" font-size="6.1" text-anchor="start" fill="#1a1a1a" textLength="68" lengthAdjust="spacingAndGlyphs">Mixed layer depth, POST.lvl</text>
<defs><linearGradient id="cb90" x1="0" y1="0" x2="0" y2="1"><stop offset="0" stop-color="#f00"/><stop offset="0.5" stop-color="#fff"/><stop offset="1" stop-color="#00f"/></linearGradient></defs>
<rect x="211.8" y="170.5" width="6.4" height="74.3" fill="url(#cb90)" stroke="#333" stroke-width="0.4"/>
<path d="M218.2 170.5 L220.2 170.5" stroke="#333" stroke-width="0.6" fill="none"/>
<text x="221.2" y="172.65" font-size="6.0" text-anchor="start" fill="#1a1a1a">0.2</text>
<path d="M218.2 189.07 L220.2 189.07" stroke="#333" stroke-width="0.6" fill="none"/>
<text x="221.2" y="191.22" font-size="6.0" text-anchor="start" fill="#1a1a1a">0.1</text>
<path d="M218.2 207.65 L220.2 207.65" stroke="#333" stroke-width="0.6" fill="none"/>
<text x="221.2" y="209.8" font-size="6.0" text-anchor="start" fill="#1a1a1a">0.0</text>
<path d="M218.2 226.23 L220.2 226.23" stroke="#333" stroke-width="0.6" fill="none"/>
<text x="221.2" y="228.38" font-size="6.0" text-anchor="start" fill="#1a1a1a">−0.1</text>
<path d="M218.2 244.8 L220.2 244.8" stroke="#333" stroke-width="0.6" fill="none"/>
<text x="221.2" y="246.95" font-size="6.0" text-anchor="start" fill="#1a1a1a">−0.2</text>
<text x="237.6" y="208" font-size="6.3" text-anchor="middle" fill="#1a1a1a" transform="rotate(-90 237.6 208)">salinity difference</text>
<path d="M283.5 66.4 L298.85 65.3 L314.2 63.8 L329.55 61.9 L344.9 57.8 L360.25 41.2 L375.6 24.7 L390.95 40.3 L406.3 57.4 L421.65 59.7 L437 64.1 L452.35 64.9" stroke="#d62728" stroke-width="0.9" fill="none"/>
<path d="M283.5 67.1 L298.85 66 L314.2 64.5 L329.55 62.6 L344.9 58.5 L360.25 41.9 L375.6 25.4 L390.95 41 L406.3 58.1 L421.65 60.4 L437 64.8 L452.35 65.6" stroke="#d62728" stroke-width="0.9" fill="none" stroke-dasharray="3,1.4"/>
<path d="M283.5 83.5 L298.85 86.1 L314.2 88.7 L329.55 88 L344.9 78.6 L360.25 73 L375.6 67.5 L390.95 71.2 L406.3 81.2 L421.65 79.4 L437 83.1 L452.35 84.2" stroke="#2ca02c" stroke-width="0.9" fill="none"/>
<path d="M283.5 82.9 L298.85 85.5 L314.2 88.1 L329.55 87.4 L344.9 78 L360.25 72.4 L375.6 66.9 L390.95 70.6 L406.3 80.6 L421.65 78.8 L437 82.5 L452.35 83.6" stroke="#2ca02c" stroke-width="0.9" fill="none" stroke-dasharray="3,1.4"/>
<rect x="276.5" y="19.4" width="183.8" height="86.9" fill="none" stroke="#333" stroke-width="0.7"/>
<path d="M283.5 106.3 L283.5 108.3" stroke="#333" stroke-width="0.6" fill="none"/>
<text x="283.5" y="114.6" font-size="6.1" text-anchor="middle" fill="#1a1a1a">Jan</text>
<path d="M298.85 106.3 L298.85 108.3" stroke="#333" stroke-width="0.6" fill="none"/>
<text x="298.85" y="114.6" font-size="6.1" text-anchor="middle" fill="#1a1a1a">Feb</text>
<path d="M314.2 106.3 L314.2 108.3" stroke="#333" stroke-width="0.6" fill="none"/>
<text x="314.2" y="114.6" font-size="6.1" text-anchor="middle" fill="#1a1a1a">Mar</text>
<path d="M329.55 106.3 L329.55 108.3" stroke="#333" stroke-width="0.6" fill="none"/>
<text x="329.55" y="114.6" font-size="6.1" text-anchor="middle" fill="#1a1a1a">Apr</text>
<path d="M344.9 106.3 L344.9 108.3" stroke="#333" stroke-width="0.6" fill="none"/>
<text x="344.9" y="114.6" font-size="6.1" text-anchor="middle" fill="#1a1a1a">May</text>
<path d="M360.25 106.3 L360.25 108.3" stroke="#333" stroke-width="0.6" fill="none"/>
<text x="360.25" y="114.6" font-size="6.1" text-anchor="middle" fill="#1a1a1a">Jun</text>
<path d="M375.6 106.3 L375.6 108.3" stroke="#333" stroke-width="0.6" fill="none"/>
<text x="375.6" y="114.6" font-size="6.1" text-anchor="middle" fill="#1a1a1a">Jul</text>
<path d="M390.95 106.3 L390.95 108.3" stroke="#333" stroke-width="0.6" fill="none"/>
<text x="390.95" y="114.6" font-size="6.1" text-anchor="middle" fill="#1a1a1a">Aug</text>
<path d="M406.3 106.3 L406.3 108.3" stroke="#333" stroke-width="0.6" fill="none"/>
<text x="406.3" y="114.6" font-size="6.1" text-anchor="middle" fill="#1a1a1a">Sep</text>
<path d="M421.65 106.3 L421.65 108.3" stroke="#333" stroke-width="0.6" fill="none"/>
<text x="421.65" y="114.6" font-size="6.1" text-anchor="middle" fill="#1a1a1a">Oct</text>
<path d="M437 106.3 L437 108.3" stroke="#333" stroke-width="0.6" fill="none"/>
<text x="437" y="114.6" font-size="6.1" text-anchor="middle" fill="#1a1a1a">Nov</text>
<path d="M452.35 106.3 L452.35 108.3" stroke="#333" stroke-width="0.6" fill="none"/>
<text x="452.35" y="114.6" font-size="6.1" text-anchor="middle" fill="#1a1a1a">Dec</text>
<text x="368.5" y="122.3" font-size="6.2" text-anchor="middle" fill="#1a1a1a">Month</text>
<path d="M274.5 19.4 L276.5 19.4" stroke="#d62728" stroke-width="0.6" fill="none"/>
<text x="273.5" y="21.6" font-size="6.1" text-anchor="end" fill="#d62728">0.4</text>
<path d="M274.5 38.7 L276.5 38.7" stroke="#d62728" stroke-width="0.6" fill="none"/>
<text x="273.5" y="40.9" font-size="6.1" text-anchor="end" fill="#d62728">0.2</text>
<path d="M274.5 58 L276.5 58" stroke="#d62728" stroke-width="0.6" fill="none"/>
<text x="273.5" y="60.2" font-size="6.1" text-anchor="end" fill="#d62728">0.0</text>
<path d="M274.5 77.3 L276.5 77.3" stroke="#d62728" stroke-width="0.6" fill="none"/>
<text x="273.5" y="79.5" font-size="6.1" text-anchor="end" fill="#d62728">−0.2</text>
<path d="M274.5 96.6 L276.5 96.6" stroke="#d62728" stroke-width="0.6" fill="none"/>
<text x="273.5" y="98.8" font-size="6.1" text-anchor="end" fill="#d62728">−0.4</text>
<path d="M460.3 30 L462.3 30" stroke="#2ca02c" stroke-width="0.6" fill="none"/>
<text x="463.3" y="32.2" font-size="6.1" text-anchor="start" fill="#2ca02c">20</text>
<path d="M460.3 51.73 L462.3 51.73" stroke="#2ca02c" stroke-width="0.6" fill="none"/>
<text x="463.3" y="53.93" font-size="6.1" text-anchor="start" fill="#2ca02c">10</text>
<path d="M460.3 73.46 L462.3 73.46" stroke="#2ca02c" stroke-width="0.6" fill="none"/>
<text x="463.3" y="75.66" font-size="6.1" text-anchor="start" fill="#2ca02c">0</text>
<path d="M460.3 95.19 L462.3 95.19" stroke="#2ca02c" stroke-width="0.6" fill="none"/>
<text x="463.3" y="97.39" font-size="6.1" text-anchor="start" fill="#2ca02c">−10</text>
<text x="257.2" y="62" font-size="6.0" text-anchor="middle" fill="#d62728" transform="rotate(-90 257.2 62)">FW input  [m/month]</text>
<text x="481.4" y="63.1" font-size="6.7" text-anchor="middle" fill="#2ca02c" transform="rotate(-90 481.4 63.1)">surf. heat flux  [Wm<tspan dy="-2.2" font-size="4">−2</tspan><tspan dy="2.2">]</tspan></text>
<text x="265" y="13.3" font-size="11.2" text-anchor="start" fill="#111" font-weight="bold" textLength="13.2" lengthAdjust="spacingAndGlyphs">(b)</text>
<text x="295.8" y="15.7" font-size="7.0" text-anchor="start" fill="#1a1a1a" textLength="145" lengthAdjust="spacingAndGlyphs">Freshwater and surface heat inputs at ocean surface</text>
<rect x="278" y="21" width="85" height="10" rx="1" fill="#fff" fill-opacity="0.8" stroke="#d0d0d0" stroke-width="0.5"/>
<path d="M280 26 L291 26" stroke="#d62728" stroke-width="0.9" fill="none"/>
<text x="295" y="28.2" font-size="6.1" text-anchor="start" fill="#1a1a1a" textLength="22" lengthAdjust="spacingAndGlyphs">POST.rdg</text>
<path d="M327.4 26 L338 26" stroke="#d62728" stroke-width="0.9" fill="none" stroke-dasharray="3,1.4"/>
<text x="341.6" y="28.2" font-size="6.1" text-anchor="start" fill="#1a1a1a" textLength="19" lengthAdjust="spacingAndGlyphs">POST.lvl</text>
<rect x="373.7" y="94" width="84" height="9.5" rx="1" fill="#fff" fill-opacity="0.8" stroke="#d0d0d0" stroke-width="0.5"/>
<path d="M375 98.7 L386.3 98.7" stroke="#2ca02c" stroke-width="0.9" fill="none"/>
<text x="389.8" y="100.9" font-size="6.1" text-anchor="start" fill="#1a1a1a" textLength="21.7" lengthAdjust="spacingAndGlyphs">POST.rdg</text>
<path d="M422 98.7 L432.5 98.7" stroke="#2ca02c" stroke-width="0.9" fill="none" stroke-dasharray="3,1.4"/>
<text x="436" y="100.9" font-size="6.1" text-anchor="start" fill="#1a1a1a" textLength="19.6" lengthAdjust="spacingAndGlyphs">POST.lvl</text>
<defs><linearGradient id="g91"><stop offset="0.000" stop-color="#ececff"/><stop offset="0.033" stop-color="#ececff"/><stop offset="0.067" stop-color="#ececff"/><stop offset="0.100" stop-color="#ededff"/><stop offset="0.133" stop-color="#f1f1ff"/><stop offset="0.167" stop-color="#f5f5ff"/><stop offset="0.200" stop-color="#ffffff"/><stop offset="0.233" stop-color="#fff1f1"/><stop offset="0.267" stop-color="#ffe2e2"/><stop offset="0.300" stop-color="#ffc8c8"/><stop offset="0.333" stop-color="#ffabab"/><stop offset="0.367" stop-color="#ff8c8c"/><stop offset="0.400" stop-color="#ff5656"/><stop offset="0.433" stop-color="#ff2121"/><stop offset="0.467" stop-color="#ff0000"/><stop offset="0.500" stop-color="#ff0000"/><stop offset="0.533" stop-color="#ff0000"/><stop offset="0.567" stop-color="#ff0000"/><stop offset="0.600" stop-color="#ff0000"/><stop offset="0.633" stop-color="#ff0000"/><stop offset="0.667" stop-color="#ff1111"/><stop offset="0.700" stop-color="#ff3e3e"/><stop offset="0.733" stop-color="#ff6868"/><stop offset="0.767" stop-color="#ff8181"/><stop offset="0.800" stop-color="#ff9a9a"/><stop offset="0.833" stop-color="#ffacac"/><stop offset="0.867" stop-color="#ffb8b8"/><stop offset="0.900" stop-color="#ffc3c3"/><stop offset="0.933" stop-color="#ffcaca"/><stop offset="0.967" stop-color="#ffd0d0"/><stop offset="1.000" stop-color="#ffd6d6"/></linearGradient><linearGradient id="g92"><stop offset="0.000" stop-color="#ececff"/><stop offset="0.033" stop-color="#ececff"/><stop offset="0.067" stop-color="#ececff"/><stop offset="0.100" stop-color="#ededff"/><stop offset="0.133" stop-color="#f1f1ff"/><stop offset="0.167" stop-color="#f4f4ff"/><stop offset="0.200" stop-color="#fdfdff"/><stop offset="0.233" stop-color="#fff5f5"/><stop offset="0.267" stop-color="#ffe9e9"/><stop offset="0.300" stop-color="#ffd2d2"/><stop offset="0.333" stop-color="#ffbaba"/><stop offset="0.367" stop-color="#ff9e9e"/><stop offset="0.400" stop-color="#ff6d6d"/><stop offset="0.433" stop-color="#ff3b3b"/><stop offset="0.467" stop-color="#ff1111"/><stop offset="0.500" stop-color="#ff0000"/><stop offset="0.533" stop-color="#ff0000"/><stop offset="0.567" stop-color="#ff0000"/><stop offset="0.600" stop-color="#ff0000"/><stop offset="0.633" stop-color="#ff0000"/><stop offset="0.667" stop-color="#ff1d1d"/><stop offset="0.700" stop-color="#ff4848"/><stop offset="0.733" stop-color="#ff6f6f"/><stop offset="0.767" stop-color="#ff8585"/><stop offset="0.800" stop-color="#ff9b9b"/><stop offset="0.833" stop-color="#ffacac"/><stop offset="0.867" stop-color="#ffb7b7"/><stop offset="0.900" stop-color="#ffc1c1"/><stop offset="0.933" stop-color="#ffc8c8"/><stop offset="0.967" stop-color="#ffcece"/><stop offset="1.000" stop-color="#ffd4d4"/></linearGradient><linearGradient id="g93"><stop offset="0.000" stop-color="#ececff"/><stop offset="0.033" stop-color="#ececff"/><stop offset="0.067" stop-color="#ececff"/><stop offset="0.100" stop-color="#ededff"/><stop offset="0.133" stop-color="#f0f0ff"/><stop offset="0.167" stop-color="#f4f4ff"/><stop offset="0.200" stop-color="#fafaff"/><stop offset="0.233" stop-color="#fffafa"/><stop offset="0.267" stop-color="#fff0f0"/><stop offset="0.300" stop-color="#ffdddd"/><stop offset="0.333" stop-color="#ffc9c9"/><stop offset="0.367" stop-color="#ffb2b2"/><stop offset="0.400" stop-color="#ff8686"/><stop offset="0.433" stop-color="#ff5b5b"/><stop offset="0.467" stop-color="#ff3434"/><stop offset="0.500" stop-color="#ff1717"/><stop offset="0.533" stop-color="#ff0000"/><stop offset="0.567" stop-color="#ff0000"/><stop offset="0.600" stop-color="#ff0000"/><stop offset="0.633" stop-color="#ff0808"/><stop offset="0.667" stop-color="#ff2d2d"/><stop offset="0.700" stop-color="#ff5454"/><stop offset="0.733" stop-color="#ff7777"/><stop offset="0.767" stop-color="#ff8a8a"/><stop offset="0.800" stop-color="#ff9e9e"/><stop offset="0.833" stop-color="#ffadad"/><stop offset="0.867" stop-color="#ffb6b6"/><stop offset="0.900" stop-color="#ffc0c0"/><stop offset="0.933" stop-color="#ffc7c7"/><stop offset="0.967" stop-color="#ffcccc"/><stop offset="1.000" stop-color="#ffd2d2"/></linearGradient><linearGradient id="g94"><stop offset="0.000" stop-color="#ededff"/><stop offset="0.033" stop-color="#ededff"/><stop offset="0.067" stop-color="#ededff"/><stop offset="0.100" stop-color="#eeeeff"/><stop offset="0.133" stop-color="#f0f0ff"/><stop offset="0.167" stop-color="#f3f3ff"/><stop offset="0.200" stop-color="#f8f8ff"/><stop offset="0.233" stop-color="#fffefe"/><stop offset="0.267" stop-color="#fff7f7"/><stop offset="0.300" stop-color="#ffe9e9"/><stop offset="0.333" stop-color="#ffd9d9"/><stop offset="0.367" stop-color="#ffc8c8"/><stop offset="0.400" stop-color="#ffa6a6"/><stop offset="0.433" stop-color="#ff8585"/><stop offset="0.467" stop-color="#ff6464"/><stop offset="0.500" stop-color="#ff4747"/><stop offset="0.533" stop-color="#ff2a2a"/><stop offset="0.567" stop-color="#ff2121"/><stop offset="0.600" stop-color="#ff2424"/><stop offset="0.633" stop-color="#ff2727"/><stop offset="0.667" stop-color="#ff4545"/><stop offset="0.700" stop-color="#ff6565"/><stop offset="0.733" stop-color="#ff8282"/><stop offset="0.767" stop-color="#ff9292"/><stop offset="0.800" stop-color="#ffa3a3"/><stop offset="0.833" stop-color="#ffafaf"/><stop offset="0.867" stop-color="#ffb8b8"/><stop offset="0.900" stop-color="#ffc0c0"/><stop offset="0.933" stop-color="#ffc6c6"/><stop offset="0.967" stop-color="#ffcccc"/><stop offset="1.000" stop-color="#ffd1d1"/></linearGradient><linearGradient id="g95"><stop offset="0.000" stop-color="#efefff"/><stop offset="0.033" stop-color="#efefff"/><stop offset="0.067" stop-color="#efefff"/><stop offset="0.100" stop-color="#efefff"/><stop offset="0.133" stop-color="#f1f1ff"/><stop offset="0.167" stop-color="#f2f2ff"/><stop offset="0.200" stop-color="#f6f6ff"/><stop offset="0.233" stop-color="#fbfbff"/><stop offset="0.267" stop-color="#fffefe"/><stop offset="0.300" stop-color="#fff4f4"/><stop offset="0.333" stop-color="#ffeaea"/><stop offset="0.367" stop-color="#ffdede"/><stop offset="0.400" stop-color="#ffc6c6"/><stop offset="0.433" stop-color="#ffaeae"/><stop offset="0.467" stop-color="#ff9595"/><stop offset="0.500" stop-color="#ff7878"/><stop offset="0.533" stop-color="#ff5a5a"/><stop offset="0.567" stop-color="#ff4d4d"/><stop offset="0.600" stop-color="#ff4a4a"/><stop offset="0.633" stop-color="#ff4646"/><stop offset="0.667" stop-color="#ff5d5d"/><stop offset="0.700" stop-color="#ff7777"/><stop offset="0.733" stop-color="#ff8e8e"/><stop offset="0.767" stop-color="#ff9b9b"/><stop offset="0.800" stop-color="#ffa7a7"/><stop offset="0.833" stop-color="#ffb2b2"/><stop offset="0.867" stop-color="#ffb9b9"/><stop offset="0.900" stop-color="#ffc0c0"/><stop offset="0.933" stop-color="#ffc6c6"/><stop offset="0.967" stop-color="#ffcbcb"/><stop offset="1.000" stop-color="#ffd0d0"/></linearGradient><linearGradient id="g96"><stop offset="0.000" stop-color="#f1f1ff"/><stop offset="0.033" stop-color="#f1f1ff"/><stop offset="0.067" stop-color="#f1f1ff"/><stop offset="0.100" stop-color="#f1f1ff"/><stop offset="0.133" stop-color="#f2f2ff"/><stop offset="0.167" stop-color="#f3f3ff"/><stop offset="0.200" stop-color="#f5f5ff"/><stop offset="0.233" stop-color="#f9f9ff"/><stop offset="0.267" stop-color="#fcfcff"/><stop offset="0.300" stop-color="#fffbfb"/><stop offset="0.333" stop-color="#fff4f4"/><stop offset="0.367" stop-color="#ffecec"/><stop offset="0.400" stop-color="#ffdddd"/><stop offset="0.433" stop-color="#ffcdcd"/><stop offset="0.467" stop-color="#ffbaba"/><stop offset="0.500" stop-color="#ffa0a0"/><stop offset="0.533" stop-color="#ff8585"/><stop offset="0.567" stop-color="#ff7777"/><stop offset="0.600" stop-color="#ff7070"/><stop offset="0.633" stop-color="#ff6969"/><stop offset="0.667" stop-color="#ff7979"/><stop offset="0.700" stop-color="#ff8c8c"/><stop offset="0.733" stop-color="#ff9d9d"/><stop offset="0.767" stop-color="#ffa7a7"/><stop offset="0.800" stop-color="#ffb0b0"/><stop offset="0.833" stop-color="#ffb8b8"/><stop offset="0.867" stop-color="#ffbebe"/><stop offset="0.900" stop-color="#ffc3c3"/><stop offset="0.933" stop-color="#ffc8c8"/><stop offset="0.967" stop-color="#ffcccc"/><stop offset="1.000" stop-color="#ffd0d0"/></linearGradient><linearGradient id="g97"><stop offset="0.000" stop-color="#f4f4ff"/><stop offset="0.033" stop-color="#f4f4ff"/><stop offset="0.067" stop-color="#f4f4ff"/><stop offset="0.100" stop-color="#f4f4ff"/><stop offset="0.133" stop-color="#f5f5ff"/><stop offset="0.167" stop-color="#f5f5ff"/><stop offset="0.200" stop-color="#f6f6ff"/><stop offset="0.233" stop-color="#f8f8ff"/><stop offset="0.267" stop-color="#fafaff"/><stop offset="0.300" stop-color="#fefeff"/><stop offset="0.333" stop-color="#fffbfb"/><stop offset="0.367" stop-color="#fff6f6"/><stop offset="0.400" stop-color="#ffeeee"/><stop offset="0.433" stop-color="#ffe7e7"/><stop offset="0.467" stop-color="#ffdada"/><stop offset="0.500" stop-color="#ffc4c4"/><stop offset="0.533" stop-color="#ffaeae"/><stop offset="0.567" stop-color="#ffa0a0"/><stop offset="0.600" stop-color="#ff9797"/><stop offset="0.633" stop-color="#ff8d8d"/><stop offset="0.667" stop-color="#ff9797"/><stop offset="0.700" stop-color="#ffa4a4"/><stop offset="0.733" stop-color="#ffafaf"/><stop offset="0.767" stop-color="#ffb5b5"/><stop offset="0.800" stop-color="#ffbbbb"/><stop offset="0.833" stop-color="#ffc0c0"/><stop offset="0.867" stop-color="#ffc4c4"/><stop offset="0.900" stop-color="#ffc7c7"/><stop offset="0.933" stop-color="#ffcbcb"/><stop offset="0.967" stop-color="#ffcece"/><stop offset="1.000" stop-color="#ffd1d1"/></linearGradient><linearGradient id="g98"><stop offset="0.000" stop-color="#f7f7ff"/><stop offset="0.033" stop-color="#f7f7ff"/><stop offset="0.067" stop-color="#f7f7ff"/><stop offset="0.100" stop-color="#f7f7ff"/><stop offset="0.133" stop-color="#f7f7ff"/><stop offset="0.167" stop-color="#f7f7ff"/><stop offset="0.200" stop-color="#f7f7ff"/><stop offset="0.233" stop-color="#f7f7ff"/><stop offset="0.267" stop-color="#f7f7ff"/><stop offset="0.300" stop-color="#f9f9ff"/><stop offset="0.333" stop-color="#fcfcff"/><stop offset="0.367" stop-color="#ffffff"/><stop offset="0.400" stop-color="#ffffff"/><stop offset="0.433" stop-color="#ffffff"/><stop offset="0.467" stop-color="#fff9f9"/><stop offset="0.500" stop-color="#ffe8e8"/><stop offset="0.533" stop-color="#ffd6d6"/><stop offset="0.567" stop-color="#ffc9c9"/><stop offset="0.600" stop-color="#ffbdbd"/><stop offset="0.633" stop-color="#ffb1b1"/><stop offset="0.667" stop-color="#ffb5b5"/><stop offset="0.700" stop-color="#ffbbbb"/><stop offset="0.733" stop-color="#ffc0c0"/><stop offset="0.767" stop-color="#ffc3c3"/><stop offset="0.800" stop-color="#ffc6c6"/><stop offset="0.833" stop-color="#ffc8c8"/><stop offset="0.867" stop-color="#ffcaca"/><stop offset="0.900" stop-color="#ffcccc"/><stop offset="0.933" stop-color="#ffcece"/><stop offset="0.967" stop-color="#ffd0d0"/><stop offset="1.000" stop-color="#ffd2d2"/></linearGradient><linearGradient id="g99"><stop offset="0.000" stop-color="#f3f3ff"/><stop offset="0.033" stop-color="#f3f3ff"/><stop offset="0.067" stop-color="#f3f3ff"/><stop offset="0.100" stop-color="#f3f3ff"/><stop offset="0.133" stop-color="#f2f2ff"/><stop offset="0.167" stop-color="#f2f2ff"/><stop offset="0.200" stop-color="#f2f2ff"/><stop offset="0.233" stop-color="#f1f1ff"/><stop offset="0.267" stop-color="#f1f1ff"/><stop offset="0.300" stop-color="#f2f2ff"/><stop offset="0.333" stop-color="#f4f4ff"/><stop offset="0.367" stop-color="#f6f6ff"/><stop offset="0.400" stop-color="#f4f4ff"/><stop offset="0.433" stop-color="#f3f3ff"/><stop offset="0.467" stop-color="#f7f7ff"/><stop offset="0.500" stop-color="#fffafa"/><stop offset="0.533" stop-color="#ffeded"/><stop offset="0.567" stop-color="#ffe2e2"/><stop offset="0.600" stop-color="#ffd9d9"/><stop offset="0.633" stop-color="#ffcfcf"/><stop offset="0.667" stop-color="#ffd0d0"/><stop offset="0.700" stop-color="#ffd1d1"/><stop offset="0.733" stop-color="#ffd2d2"/><stop offset="0.767" stop-color="#ffd3d3"/><stop offset="0.800" stop-color="#ffd3d3"/><stop offset="0.833" stop-color="#ffd4d4"/><stop offset="0.867" stop-color="#ffd4d4"/><stop offset="0.900" stop-color="#ffd3d3"/><stop offset="0.933" stop-color="#ffd4d4"/><stop offset="0.967" stop-color="#ffd5d5"/><stop offset="1.000" stop-color="#ffd6d6"/></linearGradient><linearGradient id="g100"><stop offset="0.000" stop-color="#eeeeff"/><stop offset="0.033" stop-color="#eeeeff"/><stop offset="0.067" stop-color="#eeeeff"/><stop offset="0.100" stop-color="#eeeeff"/><stop offset="0.133" stop-color="#eeeeff"/><stop offset="0.167" stop-color="#ededff"/><stop offset="0.200" stop-color="#ededff"/><stop offset="0.233" stop-color="#ececff"/><stop offset="0.267" stop-color="#ebebff"/><stop offset="0.300" stop-color="#ebebff"/><stop offset="0.333" stop-color="#ececff"/><stop offset="0.367" stop-color="#ececff"/><stop offset="0.400" stop-color="#eaeaff"/><stop offset="0.433" stop-color="#e8e8ff"/><stop offset="0.467" stop-color="#eaeaff"/><stop offset="0.500" stop-color="#f2f2ff"/><stop offset="0.533" stop-color="#fbfbff"/><stop offset="0.567" stop-color="#fffcfc"/><stop offset="0.600" stop-color="#fff4f4"/><stop offset="0.633" stop-color="#ffeded"/><stop offset="0.667" stop-color="#ffeaea"/><stop offset="0.700" stop-color="#ffe7e7"/><stop offset="0.733" stop-color="#ffe4e4"/><stop offset="0.767" stop-color="#ffe2e2"/><stop offset="0.800" stop-color="#ffe1e1"/><stop offset="0.833" stop-color="#ffdfdf"/><stop offset="0.867" stop-color="#ffdddd"/><stop offset="0.900" stop-color="#ffdbdb"/><stop offset="0.933" stop-color="#ffdada"/><stop offset="0.967" stop-color="#ffdada"/><stop offset="1.000" stop-color="#ffdada"/></linearGradient><linearGradient id="g101"><stop offset="0.000" stop-color="#ebebff"/><stop offset="0.033" stop-color="#ebebff"/><stop offset="0.067" stop-color="#ebebff"/><stop offset="0.100" stop-color="#ebebff"/><stop offset="0.133" stop-color="#eaeaff"/><stop offset="0.167" stop-color="#eaeaff"/><stop offset="0.200" stop-color="#e9e9ff"/><stop offset="0.233" stop-color="#e7e7ff"/><stop offset="0.267" stop-color="#e6e6ff"/><stop offset="0.300" stop-color="#e6e6ff"/><stop offset="0.333" stop-color="#e6e6ff"/><stop offset="0.367" stop-color="#e5e5ff"/><stop offset="0.400" stop-color="#e2e2ff"/><stop offset="0.433" stop-color="#dedeff"/><stop offset="0.467" stop-color="#dedeff"/><stop offset="0.500" stop-color="#e3e3ff"/><stop offset="0.533" stop-color="#e8e8ff"/><stop offset="0.567" stop-color="#ededff"/><stop offset="0.600" stop-color="#f3f3ff"/><stop offset="0.633" stop-color="#f9f9ff"/><stop offset="0.667" stop-color="#ffffff"/><stop offset="0.700" stop-color="#fff8f8"/><stop offset="0.733" stop-color="#fff2f2"/><stop offset="0.767" stop-color="#ffefef"/><stop offset="0.800" stop-color="#ffecec"/><stop offset="0.833" stop-color="#ffe9e9"/><stop offset="0.867" stop-color="#ffe6e6"/><stop offset="0.900" stop-color="#ffe3e3"/><stop offset="0.933" stop-color="#ffe1e1"/><stop offset="0.967" stop-color="#ffe0e0"/><stop offset="1.000" stop-color="#ffdede"/></linearGradient><linearGradient id="g102"><stop offset="0.000" stop-color="#e9e9ff"/><stop offset="0.033" stop-color="#e9e9ff"/><stop offset="0.067" stop-color="#e9e9ff"/><stop offset="0.100" stop-color="#e9e9ff"/><stop offset="0.133" stop-color="#e8e8ff"/><stop offset="0.167" stop-color="#e7e7ff"/><stop offset="0.200" stop-color="#e6e6ff"/><stop offset="0.233" stop-color="#e4e4ff"/><stop offset="0.267" stop-color="#e3e3ff"/><stop offset="0.300" stop-color="#e2e2ff"/><stop offset="0.333" stop-color="#e1e1ff"/><stop offset="0.367" stop-color="#e0e0ff"/><stop offset="0.400" stop-color="#dcdcff"/><stop offset="0.433" stop-color="#d7d7ff"/><stop offset="0.467" stop-color="#d5d5ff"/><stop offset="0.500" stop-color="#d8d8ff"/><stop offset="0.533" stop-color="#dbdbff"/><stop offset="0.567" stop-color="#e0e0ff"/><stop offset="0.600" stop-color="#e6e6ff"/><stop offset="0.633" stop-color="#ececff"/><stop offset="0.667" stop-color="#f3f3ff"/><stop offset="0.700" stop-color="#fbfbff"/><stop offset="0.733" stop-color="#fffcfc"/><stop offset="0.767" stop-color="#fff9f9"/><stop offset="0.800" stop-color="#fff6f6"/><stop offset="0.833" stop-color="#fff2f2"/><stop offset="0.867" stop-color="#ffefef"/><stop offset="0.900" stop-color="#ffebeb"/><stop offset="0.933" stop-color="#ffe9e9"/><stop offset="0.967" stop-color="#ffe6e6"/><stop offset="1.000" stop-color="#ffe3e3"/></linearGradient><linearGradient id="g103"><stop offset="0.000" stop-color="#e6e6ff"/><stop offset="0.033" stop-color="#e6e6ff"/><stop offset="0.067" stop-color="#e6e6ff"/><stop offset="0.100" stop-color="#e6e6ff"/><stop offset="0.133" stop-color="#e5e5ff"/><stop offset="0.167" stop-color="#e4e4ff"/><stop offset="0.200" stop-color="#e3e3ff"/><stop offset="0.233" stop-color="#e1e1ff"/><stop offset="0.267" stop-color="#e0e0ff"/><stop offset="0.300" stop-color="#dfdfff"/><stop offset="0.333" stop-color="#ddddff"/><stop offset="0.367" stop-color="#dcdcff"/><stop offset="0.400" stop-color="#d6d6ff"/><stop offset="0.433" stop-color="#d0d0ff"/><stop offset="0.467" stop-color="#ccccff"/><stop offset="0.500" stop-color="#cdcdff"/><stop offset="0.533" stop-color="#ceceff"/><stop offset="0.567" stop-color="#d2d2ff"/><stop offset="0.600" stop-color="#d8d8ff"/><stop offset="0.633" stop-color="#dedeff"/><stop offset="0.667" stop-color="#e7e7ff"/><stop offset="0.700" stop-color="#f0f0ff"/><stop offset="0.733" stop-color="#f8f8ff"/><stop offset="0.767" stop-color="#fcfcff"/><stop offset="0.800" stop-color="#ffffff"/><stop offset="0.833" stop-color="#fffbfb"/><stop offset="0.867" stop-color="#fff7f7"/><stop offset="0.900" stop-color="#fff4f4"/><stop offset="0.933" stop-color="#fff0f0"/><stop offset="0.967" stop-color="#ffecec"/><stop offset="1.000" stop-color="#ffe9e9"/></linearGradient><linearGradient id="g104"><stop offset="0.000" stop-color="#e4e4ff"/><stop offset="0.033" stop-color="#e4e4ff"/><stop offset="0.067" stop-color="#e4e4ff"/><stop offset="0.100" stop-color="#e4e4ff"/><stop offset="0.133" stop-color="#e3e3ff"/><stop offset="0.167" stop-color="#e2e2ff"/><stop offset="0.200" stop-color="#e0e0ff"/><stop offset="0.233" stop-color="#dedeff"/><stop offset="0.267" stop-color="#ddddff"/><stop offset="0.300" stop-color="#dbdbff"/><stop offset="0.333" stop-color="#d9d9ff"/><stop offset="0.367" stop-color="#d7d7ff"/><stop offset="0.400" stop-color="#d0d0ff"/><stop offset="0.433" stop-color="#c8c8ff"/><stop offset="0.467" stop-color="#c3c3ff"/><stop offset="0.500" stop-color="#c2c2ff"/><stop offset="0.533" stop-color="#c1c1ff"/><stop offset="0.567" stop-color="#c5c5ff"/><stop offset="0.600" stop-color="#cbcbff"/><stop offset="0.633" stop-color="#d0d0ff"/><stop offset="0.667" stop-color="#dadaff"/><stop offset="0.700" stop-color="#e5e5ff"/><stop offset="0.733" stop-color="#eeeeff"/><stop offset="0.767" stop-color="#f2f2ff"/><stop offset="0.800" stop-color="#f6f6ff"/><stop offset="0.833" stop-color="#fafaff"/><stop offset="0.867" stop-color="#fefeff"/><stop offset="0.900" stop-color="#fffcfc"/><stop offset="0.933" stop-color="#fff7f7"/><stop offset="0.967" stop-color="#fff3f3"/><stop offset="1.000" stop-color="#ffeeee"/></linearGradient><linearGradient id="g105"><stop offset="0.000" stop-color="#e4e4ff"/><stop offset="0.033" stop-color="#e4e4ff"/><stop offset="0.067" stop-color="#e4e4ff"/><stop offset="0.100" stop-color="#e4e4ff"/><stop offset="0.133" stop-color="#e2e2ff"/><stop offset="0.167" stop-color="#e1e1ff"/><stop offset="0.200" stop-color="#e0e0ff"/><stop offset="0.233" stop-color="#dedeff"/><stop offset="0.267" stop-color="#dcdcff"/><stop offset="0.300" stop-color="#d9d9ff"/><stop offset="0.333" stop-color="#d7d7ff"/><stop offset="0.367" stop-color="#d5d5ff"/><stop offset="0.400" stop-color="#cdcdff"/><stop offset="0.433" stop-color="#c6c6ff"/><stop offset="0.467" stop-color="#c1c1ff"/><stop offset="0.500" stop-color="#c0c0ff"/><stop offset="0.533" stop-color="#bfbfff"/><stop offset="0.567" stop-color="#c2c2ff"/><stop offset="0.600" stop-color="#c7c7ff"/><stop offset="0.633" stop-color="#cdcdff"/><stop offset="0.667" stop-color="#d6d6ff"/><stop offset="0.700" stop-color="#e0e0ff"/><stop offset="0.733" stop-color="#e9e9ff"/><stop offset="0.767" stop-color="#ededff"/><stop offset="0.800" stop-color="#f1f1ff"/><stop offset="0.833" stop-color="#f5f5ff"/><stop offset="0.867" stop-color="#f8f8ff"/><stop offset="0.900" stop-color="#fcfcff"/><stop offset="0.933" stop-color="#fffefe"/><stop offset="0.967" stop-color="#fffafa"/><stop offset="1.000" stop-color="#fff6f6"/></linearGradient><linearGradient id="g106"><stop offset="0.000" stop-color="#e4e4ff"/><stop offset="0.033" stop-color="#e4e4ff"/><stop offset="0.067" stop-color="#e4e4ff"/><stop offset="0.100" stop-color="#e4e4ff"/><stop offset="0.133" stop-color="#e2e2ff"/><stop offset="0.167" stop-color="#e1e1ff"/><stop offset="0.200" stop-color="#dfdfff"/><stop offset="0.233" stop-color="#ddddff"/><stop offset="0.267" stop-color="#dbdbff"/><stop offset="0.300" stop-color="#d8d8ff"/><stop offset="0.333" stop-color="#d5d5ff"/><stop offset="0.367" stop-color="#d2d2ff"/><stop offset="0.400" stop-color="#ccccff"/><stop offset="0.433" stop-color="#c5c5ff"/><stop offset="0.467" stop-color="#c0c0ff"/><stop offset="0.500" stop-color="#bfbfff"/><stop offset="0.533" stop-color="#bebeff"/><stop offset="0.567" stop-color="#c1c1ff"/><stop offset="0.600" stop-color="#c6c6ff"/><stop offset="0.633" stop-color="#cbcbff"/><stop offset="0.667" stop-color="#d3d3ff"/><stop offset="0.700" stop-color="#dcdcff"/><stop offset="0.733" stop-color="#e4e4ff"/><stop offset="0.767" stop-color="#e8e8ff"/><stop offset="0.800" stop-color="#ececff"/><stop offset="0.833" stop-color="#f0f0ff"/><stop offset="0.867" stop-color="#f3f3ff"/><stop offset="0.900" stop-color="#f6f6ff"/><stop offset="0.933" stop-color="#f9f9ff"/><stop offset="0.967" stop-color="#fcfcff"/><stop offset="1.000" stop-color="#fffefe"/></linearGradient><linearGradient id="g107"><stop offset="0.000" stop-color="#e4e4ff"/><stop offset="0.033" stop-color="#e4e4ff"/><stop offset="0.067" stop-color="#e4e4ff"/><stop offset="0.100" stop-color="#e4e4ff"/><stop offset="0.133" stop-color="#e2e2ff"/><stop offset="0.167" stop-color="#e1e1ff"/><stop offset="0.200" stop-color="#dfdfff"/><stop offset="0.233" stop-color="#ddddff"/><stop offset="0.267" stop-color="#dadaff"/><stop offset="0.300" stop-color="#d7d7ff"/><stop offset="0.333" stop-color="#d4d4ff"/><stop offset="0.367" stop-color="#d0d0ff"/><stop offset="0.400" stop-color="#cacaff"/><stop offset="0.433" stop-color="#c4c4ff"/><stop offset="0.467" stop-color="#bfbfff"/><stop offset="0.500" stop-color="#bebeff"/><stop offset="0.533" stop-color="#bdbdff"/><stop offset="0.567" stop-color="#bfbfff"/><stop offset="0.600" stop-color="#c4c4ff"/><stop offset="0.633" stop-color="#c8c8ff"/><stop offset="0.667" stop-color="#d0d0ff"/><stop offset="0.700" stop-color="#d8d8ff"/><stop offset="0.733" stop-color="#e0e0ff"/><stop offset="0.767" stop-color="#e4e4ff"/><stop offset="0.800" stop-color="#e8e8ff"/><stop offset="0.833" stop-color="#ebebff"/><stop offset="0.867" stop-color="#ededff"/><stop offset="0.900" stop-color="#efefff"/><stop offset="0.933" stop-color="#f2f2ff"/><stop offset="0.967" stop-color="#f5f5ff"/><stop offset="1.000" stop-color="#f8f8ff"/></linearGradient><linearGradient id="g108"><stop offset="0.000" stop-color="#e4e4ff"/><stop offset="0.033" stop-color="#e4e4ff"/><stop offset="0.067" stop-color="#e4e4ff"/><stop offset="0.100" stop-color="#e4e4ff"/><stop offset="0.133" stop-color="#e3e3ff"/><stop offset="0.167" stop-color="#e2e2ff"/><stop offset="0.200" stop-color="#dfdfff"/><stop offset="0.233" stop-color="#dcdcff"/><stop offset="0.267" stop-color="#dadaff"/><stop offset="0.300" stop-color="#d6d6ff"/><stop offset="0.333" stop-color="#d3d3ff"/><stop offset="0.367" stop-color="#cfcfff"/><stop offset="0.400" stop-color="#c9c9ff"/><stop offset="0.433" stop-color="#c3c3ff"/><stop offset="0.467" stop-color="#bfbfff"/><stop offset="0.500" stop-color="#bebeff"/><stop offset="0.533" stop-color="#bdbdff"/><stop offset="0.567" stop-color="#bfbfff"/><stop offset="0.600" stop-color="#c3c3ff"/><stop offset="0.633" stop-color="#c7c7ff"/><stop offset="0.667" stop-color="#ceceff"/><stop offset="0.700" stop-color="#d6d6ff"/><stop offset="0.733" stop-color="#ddddff"/><stop offset="0.767" stop-color="#e1e1ff"/><stop offset="0.800" stop-color="#e5e5ff"/><stop offset="0.833" stop-color="#e8e8ff"/><stop offset="0.867" stop-color="#e9e9ff"/><stop offset="0.900" stop-color="#ebebff"/><stop offset="0.933" stop-color="#ededff"/><stop offset="0.967" stop-color="#f0f0ff"/><stop offset="1.000" stop-color="#f2f2ff"/></linearGradient><linearGradient id="g109"><stop offset="0.000" stop-color="#e5e5ff"/><stop offset="0.033" stop-color="#e5e5ff"/><stop offset="0.067" stop-color="#e5e5ff"/><stop offset="0.100" stop-color="#e5e5ff"/><stop offset="0.133" stop-color="#e4e4ff"/><stop offset="0.167" stop-color="#e2e2ff"/><stop offset="0.200" stop-color="#e0e0ff"/><stop offset="0.233" stop-color="#ddddff"/><stop offset="0.267" stop-color="#dadaff"/><stop offset="0.300" stop-color="#d7d7ff"/><stop offset="0.333" stop-color="#d3d3ff"/><stop offset="0.367" stop-color="#cfcfff"/><stop offset="0.400" stop-color="#cacaff"/><stop offset="0.433" stop-color="#c5c5ff"/><stop offset="0.467" stop-color="#c1c1ff"/><stop offset="0.500" stop-color="#c0c0ff"/><stop offset="0.533" stop-color="#bfbfff"/><stop offset="0.567" stop-color="#c1c1ff"/><stop offset="0.600" stop-color="#c5c5ff"/><stop offset="0.633" stop-color="#c9c9ff"/><stop offset="0.667" stop-color="#cfcfff"/><stop offset="0.700" stop-color="#d6d6ff"/><stop offset="0.733" stop-color="#ddddff"/><stop offset="0.767" stop-color="#e0e0ff"/><stop offset="0.800" stop-color="#e4e4ff"/><stop offset="0.833" stop-color="#e7e7ff"/><stop offset="0.867" stop-color="#e9e9ff"/><stop offset="0.900" stop-color="#eaeaff"/><stop offset="0.933" stop-color="#ececff"/><stop offset="0.967" stop-color="#eeeeff"/><stop offset="1.000" stop-color="#f1f1ff"/></linearGradient><linearGradient id="g110"><stop offset="0.000" stop-color="#e6e6ff"/><stop offset="0.033" stop-color="#e6e6ff"/><stop offset="0.067" stop-color="#e6e6ff"/><stop offset="0.100" stop-color="#e6e6ff"/><stop offset="0.133" stop-color="#e5e5ff"/><stop offset="0.167" stop-color="#e3e3ff"/><stop offset="0.200" stop-color="#e1e1ff"/><stop offset="0.233" stop-color="#dedeff"/><stop offset="0.267" stop-color="#dbdbff"/><stop offset="0.300" stop-color="#d7d7ff"/><stop offset="0.333" stop-color="#d4d4ff"/><stop offset="0.367" stop-color="#d0d0ff"/><stop offset="0.400" stop-color="#cbcbff"/><stop offset="0.433" stop-color="#c6c6ff"/><stop offset="0.467" stop-color="#c2c2ff"/><stop offset="0.500" stop-color="#c1c1ff"/><stop offset="0.533" stop-color="#c0c0ff"/><stop offset="0.567" stop-color="#c2c2ff"/><stop offset="0.600" stop-color="#c6c6ff"/><stop offset="0.633" stop-color="#cacaff"/><stop offset="0.667" stop-color="#d0d0ff"/><stop offset="0.700" stop-color="#d7d7ff"/><stop offset="0.733" stop-color="#ddddff"/><stop offset="0.767" stop-color="#e0e0ff"/><stop offset="0.800" stop-color="#e4e4ff"/><stop offset="0.833" stop-color="#e7e7ff"/><stop offset="0.867" stop-color="#e8e8ff"/><stop offset="0.900" stop-color="#eaeaff"/><stop offset="0.933" stop-color="#ececff"/><stop offset="0.967" stop-color="#ededff"/><stop offset="1.000" stop-color="#efefff"/></linearGradient><linearGradient id="g111"><stop offset="0.000" stop-color="#e6e6ff"/><stop offset="0.033" stop-color="#e7e7ff"/><stop offset="0.067" stop-color="#e7e7ff"/><stop offset="0.100" stop-color="#e7e7ff"/><stop offset="0.133" stop-color="#e5e5ff"/><stop offset="0.167" stop-color="#e4e4ff"/><stop offset="0.200" stop-color="#e2e2ff"/><stop offset="0.233" stop-color="#dfdfff"/><stop offset="0.267" stop-color="#dcdcff"/><stop offset="0.300" stop-color="#d8d8ff"/><stop offset="0.333" stop-color="#d4d4ff"/><stop offset="0.367" stop-color="#d1d1ff"/><stop offset="0.400" stop-color="#ccccff"/><stop offset="0.433" stop-color="#c7c7ff"/><stop offset="0.467" stop-color="#c4c4ff"/><stop offset="0.500" stop-color="#c3c3ff"/><stop offset="0.533" stop-color="#c2c2ff"/><stop offset="0.567" stop-color="#c4c4ff"/><stop offset="0.600" stop-color="#c7c7ff"/><stop offset="0.633" stop-color="#cbcbff"/><stop offset="0.667" stop-color="#d1d1ff"/><stop offset="0.700" stop-color="#d7d7ff"/><stop offset="0.733" stop-color="#ddddff"/><stop offset="0.767" stop-color="#e0e0ff"/><stop offset="0.800" stop-color="#e3e3ff"/><stop offset="0.833" stop-color="#e6e6ff"/><stop offset="0.867" stop-color="#e8e8ff"/><stop offset="0.900" stop-color="#e9e9ff"/><stop offset="0.933" stop-color="#ebebff"/><stop offset="0.967" stop-color="#ececff"/><stop offset="1.000" stop-color="#eeeeff"/></linearGradient><linearGradient id="g112"><stop offset="0.000" stop-color="#e7e7ff"/><stop offset="0.033" stop-color="#e7e7ff"/><stop offset="0.067" stop-color="#e8e8ff"/><stop offset="0.100" stop-color="#e8e8ff"/><stop offset="0.133" stop-color="#e6e6ff"/><stop offset="0.167" stop-color="#e5e5ff"/><stop offset="0.200" stop-color="#e3e3ff"/><stop offset="0.233" stop-color="#e0e0ff"/><stop offset="0.267" stop-color="#dcdcff"/><stop offset="0.300" stop-color="#d9d9ff"/><stop offset="0.333" stop-color="#d5d5ff"/><stop offset="0.367" stop-color="#d1d1ff"/><stop offset="0.400" stop-color="#cdcdff"/><stop offset="0.433" stop-color="#c8c8ff"/><stop offset="0.467" stop-color="#c5c5ff"/><stop offset="0.500" stop-color="#c4c4ff"/><stop offset="0.533" stop-color="#c3c3ff"/><stop offset="0.567" stop-color="#c5c5ff"/><stop offset="0.600" stop-color="#c9c9ff"/><stop offset="0.633" stop-color="#ccccff"/><stop offset="0.667" stop-color="#d2d2ff"/><stop offset="0.700" stop-color="#d7d7ff"/><stop offset="0.733" stop-color="#ddddff"/><stop offset="0.767" stop-color="#e0e0ff"/><stop offset="0.800" stop-color="#e3e3ff"/><stop offset="0.833" stop-color="#e5e5ff"/><stop offset="0.867" stop-color="#e7e7ff"/><stop offset="0.900" stop-color="#e8e8ff"/><stop offset="0.933" stop-color="#eaeaff"/><stop offset="0.967" stop-color="#ebebff"/><stop offset="1.000" stop-color="#ededff"/></linearGradient><linearGradient id="g113"><stop offset="0.000" stop-color="#e8e8ff"/><stop offset="0.033" stop-color="#e8e8ff"/><stop offset="0.067" stop-color="#e8e8ff"/><stop offset="0.100" stop-color="#e8e8ff"/><stop offset="0.133" stop-color="#e7e7ff"/><stop offset="0.167" stop-color="#e6e6ff"/><stop offset="0.200" stop-color="#e4e4ff"/><stop offset="0.233" stop-color="#e0e0ff"/><stop offset="0.267" stop-color="#ddddff"/><stop offset="0.300" stop-color="#d9d9ff"/><stop offset="0.333" stop-color="#d6d6ff"/><stop offset="0.367" stop-color="#d2d2ff"/><stop offset="0.400" stop-color="#ceceff"/><stop offset="0.433" stop-color="#cacaff"/><stop offset="0.467" stop-color="#c7c7ff"/><stop offset="0.500" stop-color="#c6c6ff"/><stop offset="0.533" stop-color="#c5c5ff"/><stop offset="0.567" stop-color="#c7c7ff"/><stop offset="0.600" stop-color="#cacaff"/><stop offset="0.633" stop-color="#ceceff"/><stop offset="0.667" stop-color="#d3d3ff"/><stop offset="0.700" stop-color="#d8d8ff"/><stop offset="0.733" stop-color="#dcdcff"/><stop offset="0.767" stop-color="#e0e0ff"/><stop offset="0.800" stop-color="#e3e3ff"/><stop offset="0.833" stop-color="#e5e5ff"/><stop offset="0.867" stop-color="#e6e6ff"/><stop offset="0.900" stop-color="#e8e8ff"/><stop offset="0.933" stop-color="#e9e9ff"/><stop offset="0.967" stop-color="#eaeaff"/><stop offset="1.000" stop-color="#ebebff"/></linearGradient><linearGradient id="g114"><stop offset="0.000" stop-color="#e9e9ff"/><stop offset="0.033" stop-color="#e9e9ff"/><stop offset="0.067" stop-color="#e9e9ff"/><stop offset="0.100" stop-color="#e9e9ff"/><stop offset="0.133" stop-color="#e8e8ff"/><stop offset="0.167" stop-color="#e7e7ff"/><stop offset="0.200" stop-color="#e5e5ff"/><stop offset="0.233" stop-color="#e1e1ff"/><stop offset="0.267" stop-color="#dedeff"/><stop offset="0.300" stop-color="#dadaff"/><stop offset="0.333" stop-color="#d6d6ff"/><stop offset="0.367" stop-color="#d2d2ff"/><stop offset="0.400" stop-color="#cfcfff"/><stop offset="0.433" stop-color="#cbcbff"/><stop offset="0.467" stop-color="#c8c8ff"/><stop offset="0.500" stop-color="#c7c7ff"/><stop offset="0.533" stop-color="#c7c7ff"/><stop offset="0.567" stop-color="#c8c8ff"/><stop offset="0.600" stop-color="#ccccff"/><stop offset="0.633" stop-color="#cfcfff"/><stop offset="0.667" stop-color="#d3d3ff"/><stop offset="0.700" stop-color="#d8d8ff"/><stop offset="0.733" stop-color="#dcdcff"/><stop offset="0.767" stop-color="#dfdfff"/><stop offset="0.800" stop-color="#e2e2ff"/><stop offset="0.833" stop-color="#e4e4ff"/><stop offset="0.867" stop-color="#e6e6ff"/><stop offset="0.900" stop-color="#e7e7ff"/><stop offset="0.933" stop-color="#e8e8ff"/><stop offset="0.967" stop-color="#e9e9ff"/><stop offset="1.000" stop-color="#eaeaff"/></linearGradient><linearGradient id="g115"><stop offset="0.000" stop-color="#e9e9ff"/><stop offset="0.033" stop-color="#eaeaff"/><stop offset="0.067" stop-color="#eaeaff"/><stop offset="0.100" stop-color="#eaeaff"/><stop offset="0.133" stop-color="#e9e9ff"/><stop offset="0.167" stop-color="#e8e8ff"/><stop offset="0.200" stop-color="#e6e6ff"/><stop offset="0.233" stop-color="#e2e2ff"/><stop offset="0.267" stop-color="#dfdfff"/><stop offset="0.300" stop-color="#dbdbff"/><stop offset="0.333" stop-color="#d7d7ff"/><stop offset="0.367" stop-color="#d3d3ff"/><stop offset="0.400" stop-color="#cfcfff"/><stop offset="0.433" stop-color="#ccccff"/><stop offset="0.467" stop-color="#cacaff"/><stop offset="0.500" stop-color="#c9c9ff"/><stop offset="0.533" stop-color="#c8c8ff"/><stop offset="0.567" stop-color="#cacaff"/><stop offset="0.600" stop-color="#cdcdff"/><stop offset="0.633" stop-color="#d0d0ff"/><stop offset="0.667" stop-color="#d4d4ff"/><stop offset="0.700" stop-color="#d9d9ff"/><stop offset="0.733" stop-color="#dcdcff"/><stop offset="0.767" stop-color="#dfdfff"/><stop offset="0.800" stop-color="#e2e2ff"/><stop offset="0.833" stop-color="#e4e4ff"/><stop offset="0.867" stop-color="#e5e5ff"/><stop offset="0.900" stop-color="#e6e6ff"/><stop offset="0.933" stop-color="#e7e7ff"/><stop offset="0.967" stop-color="#e8e8ff"/><stop offset="1.000" stop-color="#e9e9ff"/></linearGradient><linearGradient id="g116"><stop offset="0.000" stop-color="#eaeaff"/><stop offset="0.033" stop-color="#ebebff"/><stop offset="0.067" stop-color="#ebebff"/><stop offset="0.100" stop-color="#ebebff"/><stop offset="0.133" stop-color="#eaeaff"/><stop offset="0.167" stop-color="#e9e9ff"/><stop offset="0.200" stop-color="#e6e6ff"/><stop offset="0.233" stop-color="#e3e3ff"/><stop offset="0.267" stop-color="#dfdfff"/><stop offset="0.300" stop-color="#dbdbff"/><stop offset="0.333" stop-color="#d7d7ff"/><stop offset="0.367" stop-color="#d3d3ff"/><stop offset="0.400" stop-color="#d0d0ff"/><stop offset="0.433" stop-color="#cdcdff"/><stop offset="0.467" stop-color="#cbcbff"/><stop offset="0.500" stop-color="#cbcbff"/><stop offset="0.533" stop-color="#cacaff"/><stop offset="0.567" stop-color="#ccccff"/><stop offset="0.600" stop-color="#cfcfff"/><stop offset="0.633" stop-color="#d2d2ff"/><stop offset="0.667" stop-color="#d5d5ff"/><stop offset="0.700" stop-color="#d9d9ff"/><stop offset="0.733" stop-color="#dcdcff"/><stop offset="0.767" stop-color="#dfdfff"/><stop offset="0.800" stop-color="#e1e1ff"/><stop offset="0.833" stop-color="#e3e3ff"/><stop offset="0.867" stop-color="#e4e4ff"/><stop offset="0.900" stop-color="#e5e5ff"/><stop offset="0.933" stop-color="#e6e6ff"/><stop offset="0.967" stop-color="#e7e7ff"/><stop offset="1.000" stop-color="#e8e8ff"/></linearGradient><linearGradient id="g117"><stop offset="0.000" stop-color="#ebebff"/><stop offset="0.033" stop-color="#ebebff"/><stop offset="0.067" stop-color="#ececff"/><stop offset="0.100" stop-color="#ececff"/><stop offset="0.133" stop-color="#ebebff"/><stop offset="0.167" stop-color="#eaeaff"/><stop offset="0.200" stop-color="#e7e7ff"/><stop offset="0.233" stop-color="#e4e4ff"/><stop offset="0.267" stop-color="#e0e0ff"/><stop offset="0.300" stop-color="#dcdcff"/><stop offset="0.333" stop-color="#d8d8ff"/><stop offset="0.367" stop-color="#d4d4ff"/><stop offset="0.400" stop-color="#d1d1ff"/><stop offset="0.433" stop-color="#ceceff"/><stop offset="0.467" stop-color="#ccccff"/><stop offset="0.500" stop-color="#ccccff"/><stop offset="0.533" stop-color="#cbcbff"/><stop offset="0.567" stop-color="#cdcdff"/><stop offset="0.600" stop-color="#d0d0ff"/><stop offset="0.633" stop-color="#d3d3ff"/><stop offset="0.667" stop-color="#d6d6ff"/><stop offset="0.700" stop-color="#d9d9ff"/><stop offset="0.733" stop-color="#ddddff"/><stop offset="0.767" stop-color="#dfdfff"/><stop offset="0.800" stop-color="#e1e1ff"/><stop offset="0.833" stop-color="#e3e3ff"/><stop offset="0.867" stop-color="#e4e4ff"/><stop offset="0.900" stop-color="#e6e6ff"/><stop offset="0.933" stop-color="#e6e6ff"/><stop offset="0.967" stop-color="#e7e7ff"/><stop offset="1.000" stop-color="#e8e8ff"/></linearGradient><linearGradient id="g118"><stop offset="0.000" stop-color="#ebebff"/><stop offset="0.033" stop-color="#ececff"/><stop offset="0.067" stop-color="#ececff"/><stop offset="0.100" stop-color="#ececff"/><stop offset="0.133" stop-color="#ebebff"/><stop offset="0.167" stop-color="#eaeaff"/><stop offset="0.200" stop-color="#e8e8ff"/><stop offset="0.233" stop-color="#e5e5ff"/><stop offset="0.267" stop-color="#e1e1ff"/><stop offset="0.300" stop-color="#ddddff"/><stop offset="0.333" stop-color="#d9d9ff"/><stop offset="0.367" stop-color="#d6d6ff"/><stop offset="0.400" stop-color="#d3d3ff"/><stop offset="0.433" stop-color="#d0d0ff"/><stop offset="0.467" stop-color="#cdcdff"/><stop offset="0.500" stop-color="#cdcdff"/><stop offset="0.533" stop-color="#ccccff"/><stop offset="0.567" stop-color="#ceceff"/><stop offset="0.600" stop-color="#d1d1ff"/><stop offset="0.633" stop-color="#d3d3ff"/><stop offset="0.667" stop-color="#d6d6ff"/><stop offset="0.700" stop-color="#dadaff"/><stop offset="0.733" stop-color="#ddddff"/><stop offset="0.767" stop-color="#dfdfff"/><stop offset="0.800" stop-color="#e2e2ff"/><stop offset="0.833" stop-color="#e4e4ff"/><stop offset="0.867" stop-color="#e5e5ff"/><stop offset="0.900" stop-color="#e6e6ff"/><stop offset="0.933" stop-color="#e7e7ff"/><stop offset="0.967" stop-color="#e8e8ff"/><stop offset="1.000" stop-color="#e8e8ff"/></linearGradient><linearGradient id="g119"><stop offset="0.000" stop-color="#ececff"/><stop offset="0.033" stop-color="#ececff"/><stop offset="0.067" stop-color="#ededff"/><stop offset="0.100" stop-color="#ededff"/><stop offset="0.133" stop-color="#ececff"/><stop offset="0.167" stop-color="#ebebff"/><stop offset="0.200" stop-color="#e9e9ff"/><stop offset="0.233" stop-color="#e5e5ff"/><stop offset="0.267" stop-color="#e2e2ff"/><stop offset="0.300" stop-color="#dedeff"/><stop offset="0.333" stop-color="#dbdbff"/><stop offset="0.367" stop-color="#d7d7ff"/><stop offset="0.400" stop-color="#d4d4ff"/><stop offset="0.433" stop-color="#d1d1ff"/><stop offset="0.467" stop-color="#cfcfff"/><stop offset="0.500" stop-color="#ceceff"/><stop offset="0.533" stop-color="#cdcdff"/><stop offset="0.567" stop-color="#cfcfff"/><stop offset="0.600" stop-color="#d1d1ff"/><stop offset="0.633" stop-color="#d4d4ff"/><stop offset="0.667" stop-color="#d7d7ff"/><stop offset="0.700" stop-color="#dadaff"/><stop offset="0.733" stop-color="#ddddff"/><stop offset="0.767" stop-color="#e0e0ff"/><stop offset="0.800" stop-color="#e2e2ff"/><stop offset="0.833" stop-color="#e4e4ff"/><stop offset="0.867" stop-color="#e6e6ff"/><stop offset="0.900" stop-color="#e7e7ff"/><stop offset="0.933" stop-color="#e8e8ff"/><stop offset="0.967" stop-color="#e9e9ff"/><stop offset="1.000" stop-color="#e9e9ff"/></linearGradient><linearGradient id="g120"><stop offset="0.000" stop-color="#ececff"/><stop offset="0.033" stop-color="#ededff"/><stop offset="0.067" stop-color="#ededff"/><stop offset="0.100" stop-color="#eeeeff"/><stop offset="0.133" stop-color="#ededff"/><stop offset="0.167" stop-color="#ececff"/><stop offset="0.200" stop-color="#e9e9ff"/><stop offset="0.233" stop-color="#e6e6ff"/><stop offset="0.267" stop-color="#e3e3ff"/><stop offset="0.300" stop-color="#dfdfff"/><stop offset="0.333" stop-color="#dcdcff"/><stop offset="0.367" stop-color="#d8d8ff"/><stop offset="0.400" stop-color="#d5d5ff"/><stop offset="0.433" stop-color="#d2d2ff"/><stop offset="0.467" stop-color="#d0d0ff"/><stop offset="0.500" stop-color="#cfcfff"/><stop offset="0.533" stop-color="#ceceff"/><stop offset="0.567" stop-color="#d0d0ff"/><stop offset="0.600" stop-color="#d2d2ff"/><stop offset="0.633" stop-color="#d5d5ff"/><stop offset="0.667" stop-color="#d8d8ff"/><stop offset="0.700" stop-color="#dbdbff"/><stop offset="0.733" stop-color="#dedeff"/><stop offset="0.767" stop-color="#e0e0ff"/><stop offset="0.800" stop-color="#e3e3ff"/><stop offset="0.833" stop-color="#e5e5ff"/><stop offset="0.867" stop-color="#e6e6ff"/><stop offset="0.900" stop-color="#e8e8ff"/><stop offset="0.933" stop-color="#e9e9ff"/><stop offset="0.967" stop-color="#e9e9ff"/><stop offset="1.000" stop-color="#eaeaff"/></linearGradient><linearGradient id="g121"><stop offset="0.000" stop-color="#ededff"/><stop offset="0.033" stop-color="#ededff"/><stop offset="0.067" stop-color="#eeeeff"/><stop offset="0.100" stop-color="#eeeeff"/><stop offset="0.133" stop-color="#ededff"/><stop offset="0.167" stop-color="#ececff"/><stop offset="0.200" stop-color="#eaeaff"/><stop offset="0.233" stop-color="#e7e7ff"/><stop offset="0.267" stop-color="#e4e4ff"/><stop offset="0.300" stop-color="#e0e0ff"/><stop offset="0.333" stop-color="#ddddff"/><stop offset="0.367" stop-color="#d9d9ff"/><stop offset="0.400" stop-color="#d6d6ff"/><stop offset="0.433" stop-color="#d3d3ff"/><stop offset="0.467" stop-color="#d1d1ff"/><stop offset="0.500" stop-color="#d0d0ff"/><stop offset="0.533" stop-color="#d0d0ff"/><stop offset="0.567" stop-color="#d1d1ff"/><stop offset="0.600" stop-color="#d3d3ff"/><stop offset="0.633" stop-color="#d5d5ff"/><stop offset="0.667" stop-color="#d8d8ff"/><stop offset="0.700" stop-color="#dbdbff"/><stop offset="0.733" stop-color="#dedeff"/><stop offset="0.767" stop-color="#e1e1ff"/><stop offset="0.800" stop-color="#e3e3ff"/><stop offset="0.833" stop-color="#e5e5ff"/><stop offset="0.867" stop-color="#e7e7ff"/><stop offset="0.900" stop-color="#e8e8ff"/><stop offset="0.933" stop-color="#e9e9ff"/><stop offset="0.967" stop-color="#eaeaff"/><stop offset="1.000" stop-color="#ebebff"/></linearGradient><linearGradient id="g122"><stop offset="0.000" stop-color="#ededff"/><stop offset="0.033" stop-color="#eeeeff"/><stop offset="0.067" stop-color="#eeeeff"/><stop offset="0.100" stop-color="#efefff"/><stop offset="0.133" stop-color="#eeeeff"/><stop offset="0.167" stop-color="#ededff"/><stop offset="0.200" stop-color="#ebebff"/><stop offset="0.233" stop-color="#e8e8ff"/><stop offset="0.267" stop-color="#e5e5ff"/><stop offset="0.300" stop-color="#e1e1ff"/><stop offset="0.333" stop-color="#dedeff"/><stop offset="0.367" stop-color="#dbdbff"/><stop offset="0.400" stop-color="#d7d7ff"/><stop offset="0.433" stop-color="#d4d4ff"/><stop offset="0.467" stop-color="#d2d2ff"/><stop offset="0.500" stop-color="#d1d1ff"/><stop offset="0.533" stop-color="#d1d1ff"/><stop offset="0.567" stop-color="#d2d2ff"/><stop offset="0.600" stop-color="#d4d4ff"/><stop offset="0.633" stop-color="#d6d6ff"/><stop offset="0.667" stop-color="#d9d9ff"/><stop offset="0.700" stop-color="#dcdcff"/><stop offset="0.733" stop-color="#dedeff"/><stop offset="0.767" stop-color="#e1e1ff"/><stop offset="0.800" stop-color="#e4e4ff"/><stop offset="0.833" stop-color="#e6e6ff"/><stop offset="0.867" stop-color="#e8e8ff"/><stop offset="0.900" stop-color="#e9e9ff"/><stop offset="0.933" stop-color="#eaeaff"/><stop offset="0.967" stop-color="#ebebff"/><stop offset="1.000" stop-color="#ececff"/></linearGradient><linearGradient id="g123"><stop offset="0.000" stop-color="#eeeeff"/><stop offset="0.033" stop-color="#eeeeff"/><stop offset="0.067" stop-color="#efefff"/><stop offset="0.100" stop-color="#efefff"/><stop offset="0.133" stop-color="#eeeeff"/><stop offset="0.167" stop-color="#eeeeff"/><stop offset="0.200" stop-color="#ececff"/><stop offset="0.233" stop-color="#e9e9ff"/><stop offset="0.267" stop-color="#e6e6ff"/><stop offset="0.300" stop-color="#e2e2ff"/><stop offset="0.333" stop-color="#dfdfff"/><stop offset="0.367" stop-color="#dcdcff"/><stop offset="0.400" stop-color="#d9d9ff"/><stop offset="0.433" stop-color="#d5d5ff"/><stop offset="0.467" stop-color="#d3d3ff"/><stop offset="0.500" stop-color="#d2d2ff"/><stop offset="0.533" stop-color="#d2d2ff"/><stop offset="0.567" stop-color="#d3d3ff"/><stop offset="0.600" stop-color="#d5d5ff"/><stop offset="0.633" stop-color="#d7d7ff"/><stop offset="0.667" stop-color="#dadaff"/><stop offset="0.700" stop-color="#dcdcff"/><stop offset="0.733" stop-color="#dfdfff"/><stop offset="0.767" stop-color="#e2e2ff"/><stop offset="0.800" stop-color="#e4e4ff"/><stop offset="0.833" stop-color="#e7e7ff"/><stop offset="0.867" stop-color="#e8e8ff"/><stop offset="0.900" stop-color="#eaeaff"/><stop offset="0.933" stop-color="#ebebff"/><stop offset="0.967" stop-color="#ececff"/><stop offset="1.000" stop-color="#ededff"/></linearGradient><linearGradient id="g124"><stop offset="0.000" stop-color="#eeeeff"/><stop offset="0.033" stop-color="#efefff"/><stop offset="0.067" stop-color="#f0f0ff"/><stop offset="0.100" stop-color="#f0f0ff"/><stop offset="0.133" stop-color="#efefff"/><stop offset="0.167" stop-color="#eeeeff"/><stop offset="0.200" stop-color="#ededff"/><stop offset="0.233" stop-color="#eaeaff"/><stop offset="0.267" stop-color="#e7e7ff"/><stop offset="0.300" stop-color="#e3e3ff"/><stop offset="0.333" stop-color="#e0e0ff"/><stop offset="0.367" stop-color="#ddddff"/><stop offset="0.400" stop-color="#dadaff"/><stop offset="0.433" stop-color="#d6d6ff"/><stop offset="0.467" stop-color="#d4d4ff"/><stop offset="0.500" stop-color="#d3d3ff"/><stop offset="0.533" stop-color="#d3d3ff"/><stop offset="0.567" stop-color="#d4d4ff"/><stop offset="0.600" stop-color="#d6d6ff"/><stop offset="0.633" stop-color="#d8d8ff"/><stop offset="0.667" stop-color="#dadaff"/><stop offset="0.700" stop-color="#ddddff"/><stop offset="0.733" stop-color="#dfdfff"/><stop offset="0.767" stop-color="#e2e2ff"/><stop offset="0.800" stop-color="#e5e5ff"/><stop offset="0.833" stop-color="#e7e7ff"/><stop offset="0.867" stop-color="#e9e9ff"/><stop offset="0.900" stop-color="#ebebff"/><stop offset="0.933" stop-color="#ececff"/><stop offset="0.967" stop-color="#ededff"/><stop offset="1.000" stop-color="#eeeeff"/></linearGradient><linearGradient id="g125"><stop offset="0.000" stop-color="#efefff"/><stop offset="0.033" stop-color="#f0f0ff"/><stop offset="0.067" stop-color="#f0f0ff"/><stop offset="0.100" stop-color="#f0f0ff"/><stop offset="0.133" stop-color="#f0f0ff"/><stop offset="0.167" stop-color="#efefff"/><stop offset="0.200" stop-color="#ededff"/><stop offset="0.233" stop-color="#eaeaff"/><stop offset="0.267" stop-color="#e7e7ff"/><stop offset="0.300" stop-color="#e4e4ff"/><stop offset="0.333" stop-color="#e1e1ff"/><stop offset="0.367" stop-color="#dedeff"/><stop offset="0.400" stop-color="#dbdbff"/><stop offset="0.433" stop-color="#d8d8ff"/><stop offset="0.467" stop-color="#d5d5ff"/><stop offset="0.500" stop-color="#d4d4ff"/><stop offset="0.533" stop-color="#d4d4ff"/><stop offset="0.567" stop-color="#d5d5ff"/><stop offset="0.600" stop-color="#d7d7ff"/><stop offset="0.633" stop-color="#d8d8ff"/><stop offset="0.667" stop-color="#dbdbff"/><stop offset="0.700" stop-color="#ddddff"/><stop offset="0.733" stop-color="#e0e0ff"/><stop offset="0.767" stop-color="#e2e2ff"/><stop offset="0.800" stop-color="#e5e5ff"/><stop offset="0.833" stop-color="#e8e8ff"/><stop offset="0.867" stop-color="#e9e9ff"/><stop offset="0.900" stop-color="#ebebff"/><stop offset="0.933" stop-color="#ededff"/><stop offset="0.967" stop-color="#eeeeff"/><stop offset="1.000" stop-color="#efefff"/></linearGradient><linearGradient id="g126"><stop offset="0.000" stop-color="#efefff"/><stop offset="0.033" stop-color="#f0f0ff"/><stop offset="0.067" stop-color="#f1f1ff"/><stop offset="0.100" stop-color="#f1f1ff"/><stop offset="0.133" stop-color="#f0f0ff"/><stop offset="0.167" stop-color="#f0f0ff"/><stop offset="0.200" stop-color="#eeeeff"/><stop offset="0.233" stop-color="#ebebff"/><stop offset="0.267" stop-color="#e8e8ff"/><stop offset="0.300" stop-color="#e5e5ff"/><stop offset="0.333" stop-color="#e2e2ff"/><stop offset="0.367" stop-color="#dfdfff"/><stop offset="0.400" stop-color="#dcdcff"/><stop offset="0.433" stop-color="#d8d8ff"/><stop offset="0.467" stop-color="#d6d6ff"/><stop offset="0.500" stop-color="#d5d5ff"/><stop offset="0.533" stop-color="#d5d5ff"/><stop offset="0.567" stop-color="#d6d6ff"/><stop offset="0.600" stop-color="#d7d7ff"/><stop offset="0.633" stop-color="#d9d9ff"/><stop offset="0.667" stop-color="#dbdbff"/><stop offset="0.700" stop-color="#dedeff"/><stop offset="0.733" stop-color="#e0e0ff"/><stop offset="0.767" stop-color="#e3e3ff"/><stop offset="0.800" stop-color="#e6e6ff"/><stop offset="0.833" stop-color="#e8e8ff"/><stop offset="0.867" stop-color="#eaeaff"/><stop offset="0.900" stop-color="#ececff"/><stop offset="0.933" stop-color="#ededff"/><stop offset="0.967" stop-color="#eeeeff"/><stop offset="1.000" stop-color="#efefff"/></linearGradient><linearGradient id="g127"><stop offset="0.000" stop-color="#f0f0ff"/><stop offset="0.033" stop-color="#f0f0ff"/><stop offset="0.067" stop-color="#f1f1ff"/><stop offset="0.100" stop-color="#f1f1ff"/><stop offset="0.133" stop-color="#f1f1ff"/><stop offset="0.167" stop-color="#f0f0ff"/><stop offset="0.200" stop-color="#eeeeff"/><stop offset="0.233" stop-color="#ebebff"/><stop offset="0.267" stop-color="#e9e9ff"/><stop offset="0.300" stop-color="#e6e6ff"/><stop offset="0.333" stop-color="#e3e3ff"/><stop offset="0.367" stop-color="#e0e0ff"/><stop offset="0.400" stop-color="#dcdcff"/><stop offset="0.433" stop-color="#d9d9ff"/><stop offset="0.467" stop-color="#d7d7ff"/><stop offset="0.500" stop-color="#d6d6ff"/><stop offset="0.533" stop-color="#d6d6ff"/><stop offset="0.567" stop-color="#d7d7ff"/><stop offset="0.600" stop-color="#d8d8ff"/><stop offset="0.633" stop-color="#dadaff"/><stop offset="0.667" stop-color="#dcdcff"/><stop offset="0.700" stop-color="#dedeff"/><stop offset="0.733" stop-color="#e0e0ff"/><stop offset="0.767" stop-color="#e3e3ff"/><stop offset="0.800" stop-color="#e6e6ff"/><stop offset="0.833" stop-color="#e9e9ff"/><stop offset="0.867" stop-color="#ebebff"/><stop offset="0.900" stop-color="#ededff"/><stop offset="0.933" stop-color="#eeeeff"/><stop offset="0.967" stop-color="#efefff"/><stop offset="1.000" stop-color="#f0f0ff"/></linearGradient><linearGradient id="g128"><stop offset="0.000" stop-color="#f0f0ff"/><stop offset="0.033" stop-color="#f1f1ff"/><stop offset="0.067" stop-color="#f1f1ff"/><stop offset="0.100" stop-color="#f1f1ff"/><stop offset="0.133" stop-color="#f1f1ff"/><stop offset="0.167" stop-color="#f0f0ff"/><stop offset="0.200" stop-color="#efefff"/><stop offset="0.233" stop-color="#ececff"/><stop offset="0.267" stop-color="#e9e9ff"/><stop offset="0.300" stop-color="#e6e6ff"/><stop offset="0.333" stop-color="#e3e3ff"/><stop offset="0.367" stop-color="#e0e0ff"/><stop offset="0.400" stop-color="#ddddff"/><stop offset="0.433" stop-color="#dadaff"/><stop offset="0.467" stop-color="#d7d7ff"/><stop offset="0.500" stop-color="#d7d7ff"/><stop offset="0.533" stop-color="#d7d7ff"/><stop offset="0.567" stop-color="#d7d7ff"/><stop offset="0.600" stop-color="#d9d9ff"/><stop offset="0.633" stop-color="#dbdbff"/><stop offset="0.667" stop-color="#ddddff"/><stop offset="0.700" stop-color="#dfdfff"/><stop offset="0.733" stop-color="#e1e1ff"/><stop offset="0.767" stop-color="#e4e4ff"/><stop offset="0.800" stop-color="#e7e7ff"/><stop offset="0.833" stop-color="#e9e9ff"/><stop offset="0.867" stop-color="#ebebff"/><stop offset="0.900" stop-color="#ededff"/><stop offset="0.933" stop-color="#efefff"/><stop offset="0.967" stop-color="#f0f0ff"/><stop offset="1.000" stop-color="#f1f1ff"/></linearGradient><linearGradient id="g129"><stop offset="0.000" stop-color="#f0f0ff"/><stop offset="0.033" stop-color="#f1f1ff"/><stop offset="0.067" stop-color="#f2f2ff"/><stop offset="0.100" stop-color="#f2f2ff"/><stop offset="0.133" stop-color="#f1f1ff"/><stop offset="0.167" stop-color="#f1f1ff"/><stop offset="0.200" stop-color="#efefff"/><stop offset="0.233" stop-color="#ececff"/><stop offset="0.267" stop-color="#eaeaff"/><stop offset="0.300" stop-color="#e7e7ff"/><stop offset="0.333" stop-color="#e4e4ff"/><stop offset="0.367" stop-color="#e1e1ff"/><stop offset="0.400" stop-color="#dedeff"/><stop offset="0.433" stop-color="#dadaff"/><stop offset="0.467" stop-color="#d8d8ff"/><stop offset="0.500" stop-color="#d8d8ff"/><stop offset="0.533" stop-color="#d7d7ff"/><stop offset="0.567" stop-color="#d8d8ff"/><stop offset="0.600" stop-color="#dadaff"/><stop offset="0.633" stop-color="#dbdbff"/><stop offset="0.667" stop-color="#ddddff"/><stop offset="0.700" stop-color="#dfdfff"/><stop offset="0.733" stop-color="#e1e1ff"/><stop offset="0.767" stop-color="#e4e4ff"/><stop offset="0.800" stop-color="#e7e7ff"/><stop offset="0.833" stop-color="#eaeaff"/><stop offset="0.867" stop-color="#ececff"/><stop offset="0.900" stop-color="#eeeeff"/><stop offset="0.933" stop-color="#efefff"/><stop offset="0.967" stop-color="#f0f0ff"/><stop offset="1.000" stop-color="#f1f1ff"/></linearGradient><linearGradient id="g130"><stop offset="0.000" stop-color="#f1f1ff"/><stop offset="0.033" stop-color="#f1f1ff"/><stop offset="0.067" stop-color="#f2f2ff"/><stop offset="0.100" stop-color="#f2f2ff"/><stop offset="0.133" stop-color="#f2f2ff"/><stop offset="0.167" stop-color="#f1f1ff"/><stop offset="0.200" stop-color="#efefff"/><stop offset="0.233" stop-color="#ededff"/><stop offset="0.267" stop-color="#eaeaff"/><stop offset="0.300" stop-color="#e7e7ff"/><stop offset="0.333" stop-color="#e4e4ff"/><stop offset="0.367" stop-color="#e1e1ff"/><stop offset="0.400" stop-color="#dedeff"/><stop offset="0.433" stop-color="#dbdbff"/><stop offset="0.467" stop-color="#d9d9ff"/><stop offset="0.500" stop-color="#d9d9ff"/><stop offset="0.533" stop-color="#d8d8ff"/><stop offset="0.567" stop-color="#d9d9ff"/><stop offset="0.600" stop-color="#dbdbff"/><stop offset="0.633" stop-color="#dcdcff"/><stop offset="0.667" stop-color="#dedeff"/><stop offset="0.700" stop-color="#dfdfff"/><stop offset="0.733" stop-color="#e1e1ff"/><stop offset="0.767" stop-color="#e5e5ff"/><stop offset="0.800" stop-color="#e8e8ff"/><stop offset="0.833" stop-color="#ebebff"/><stop offset="0.867" stop-color="#ededff"/><stop offset="0.900" stop-color="#efefff"/><stop offset="0.933" stop-color="#f0f0ff"/><stop offset="0.967" stop-color="#f1f1ff"/><stop offset="1.000" stop-color="#f2f2ff"/></linearGradient><linearGradient id="g131"><stop offset="0.000" stop-color="#f1f1ff"/><stop offset="0.033" stop-color="#f2f2ff"/><stop offset="0.067" stop-color="#f2f2ff"/><stop offset="0.100" stop-color="#f3f3ff"/><stop offset="0.133" stop-color="#f2f2ff"/><stop offset="0.167" stop-color="#f1f1ff"/><stop offset="0.200" stop-color="#f0f0ff"/><stop offset="0.233" stop-color="#ededff"/><stop offset="0.267" stop-color="#ebebff"/><stop offset="0.300" stop-color="#e8e8ff"/><stop offset="0.333" stop-color="#e5e5ff"/><stop offset="0.367" stop-color="#e2e2ff"/><stop offset="0.400" stop-color="#dfdfff"/><stop offset="0.433" stop-color="#dcdcff"/><stop offset="0.467" stop-color="#dadaff"/><stop offset="0.500" stop-color="#d9d9ff"/><stop offset="0.533" stop-color="#d9d9ff"/><stop offset="0.567" stop-color="#dadaff"/><stop offset="0.600" stop-color="#dbdbff"/><stop offset="0.633" stop-color="#ddddff"/><stop offset="0.667" stop-color="#dedeff"/><stop offset="0.700" stop-color="#e0e0ff"/><stop offset="0.733" stop-color="#e2e2ff"/><stop offset="0.767" stop-color="#e5e5ff"/><stop offset="0.800" stop-color="#e8e8ff"/><stop offset="0.833" stop-color="#ebebff"/><stop offset="0.867" stop-color="#ededff"/><stop offset="0.900" stop-color="#efefff"/><stop offset="0.933" stop-color="#f1f1ff"/><stop offset="0.967" stop-color="#f1f1ff"/><stop offset="1.000" stop-color="#f2f2ff"/></linearGradient><linearGradient id="g132"><stop offset="0.000" stop-color="#f2f2ff"/><stop offset="0.033" stop-color="#f2f2ff"/><stop offset="0.067" stop-color="#f3f3ff"/><stop offset="0.100" stop-color="#f3f3ff"/><stop offset="0.133" stop-color="#f2f2ff"/><stop offset="0.167" stop-color="#f2f2ff"/><stop offset="0.200" stop-color="#f0f0ff"/><stop offset="0.233" stop-color="#eeeeff"/><stop offset="0.267" stop-color="#ebebff"/><stop offset="0.300" stop-color="#e8e8ff"/><stop offset="0.333" stop-color="#e5e5ff"/><stop offset="0.367" stop-color="#e3e3ff"/><stop offset="0.400" stop-color="#dfdfff"/><stop offset="0.433" stop-color="#dcdcff"/><stop offset="0.467" stop-color="#dadaff"/><stop offset="0.500" stop-color="#dadaff"/><stop offset="0.533" stop-color="#dadaff"/><stop offset="0.567" stop-color="#dbdbff"/><stop offset="0.600" stop-color="#dcdcff"/><stop offset="0.633" stop-color="#dedeff"/><stop offset="0.667" stop-color="#dfdfff"/><stop offset="0.700" stop-color="#e0e0ff"/><stop offset="0.733" stop-color="#e2e2ff"/><stop offset="0.767" stop-color="#e6e6ff"/><stop offset="0.800" stop-color="#e9e9ff"/><stop offset="0.833" stop-color="#ececff"/><stop offset="0.867" stop-color="#eeeeff"/><stop offset="0.900" stop-color="#f0f0ff"/><stop offset="0.933" stop-color="#f1f1ff"/><stop offset="0.967" stop-color="#f2f2ff"/><stop offset="1.000" stop-color="#f3f3ff"/></linearGradient><linearGradient id="g133"><stop offset="0.000" stop-color="#f2f2ff"/><stop offset="0.033" stop-color="#f2f2ff"/><stop offset="0.067" stop-color="#f3f3ff"/><stop offset="0.100" stop-color="#f3f3ff"/><stop offset="0.133" stop-color="#f3f3ff"/><stop offset="0.167" stop-color="#f2f2ff"/><stop offset="0.200" stop-color="#f1f1ff"/><stop offset="0.233" stop-color="#eeeeff"/><stop offset="0.267" stop-color="#ececff"/><stop offset="0.300" stop-color="#e9e9ff"/><stop offset="0.333" stop-color="#e6e6ff"/><stop offset="0.367" stop-color="#e3e3ff"/><stop offset="0.400" stop-color="#e0e0ff"/><stop offset="0.433" stop-color="#ddddff"/><stop offset="0.467" stop-color="#dbdbff"/><stop offset="0.500" stop-color="#dbdbff"/><stop offset="0.533" stop-color="#dbdbff"/><stop offset="0.567" stop-color="#dcdcff"/><stop offset="0.600" stop-color="#ddddff"/><stop offset="0.633" stop-color="#dedeff"/><stop offset="0.667" stop-color="#e0e0ff"/><stop offset="0.700" stop-color="#e1e1ff"/><stop offset="0.733" stop-color="#e3e3ff"/><stop offset="0.767" stop-color="#e6e6ff"/><stop offset="0.800" stop-color="#e9e9ff"/><stop offset="0.833" stop-color="#ececff"/><stop offset="0.867" stop-color="#efefff"/><stop offset="0.900" stop-color="#f1f1ff"/><stop offset="0.933" stop-color="#f2f2ff"/><stop offset="0.967" stop-color="#f3f3ff"/><stop offset="1.000" stop-color="#f3f3ff"/></linearGradient><linearGradient id="g134"><stop offset="0.000" stop-color="#f2f2ff"/><stop offset="0.033" stop-color="#f3f3ff"/><stop offset="0.067" stop-color="#f3f3ff"/><stop offset="0.100" stop-color="#f4f4ff"/><stop offset="0.133" stop-color="#f3f3ff"/><stop offset="0.167" stop-color="#f2f2ff"/><stop offset="0.200" stop-color="#f1f1ff"/><stop offset="0.233" stop-color="#efefff"/><stop offset="0.267" stop-color="#ececff"/><stop offset="0.300" stop-color="#e9e9ff"/><stop offset="0.333" stop-color="#e6e6ff"/><stop offset="0.367" stop-color="#e3e3ff"/><stop offset="0.400" stop-color="#e1e1ff"/><stop offset="0.433" stop-color="#dedeff"/><stop offset="0.467" stop-color="#dcdcff"/><stop offset="0.500" stop-color="#dcdcff"/><stop offset="0.533" stop-color="#dcdcff"/><stop offset="0.567" stop-color="#dcdcff"/><stop offset="0.600" stop-color="#dedeff"/><stop offset="0.633" stop-color="#dfdfff"/><stop offset="0.667" stop-color="#e0e0ff"/><stop offset="0.700" stop-color="#e1e1ff"/><stop offset="0.733" stop-color="#e3e3ff"/><stop offset="0.767" stop-color="#e6e6ff"/><stop offset="0.800" stop-color="#eaeaff"/><stop offset="0.833" stop-color="#ededff"/><stop offset="0.867" stop-color="#efefff"/><stop offset="0.900" stop-color="#f1f1ff"/><stop offset="0.933" stop-color="#f2f2ff"/><stop offset="0.967" stop-color="#f3f3ff"/><stop offset="1.000" stop-color="#f4f4ff"/></linearGradient></defs>
<rect x="277.4" y="157.9" width="183.8" height="2.3" fill="url(#g91)"/><rect x="277.4" y="159.9" width="183.8" height="2.3" fill="url(#g92)"/><rect x="277.4" y="161.9" width="183.8" height="2.3" fill="url(#g93)"/><rect x="277.4" y="163.9" width="183.8" height="2.3" fill="url(#g94)"/><rect x="277.4" y="165.9" width="183.8" height="2.3" fill="url(#g95)"/><rect x="277.4" y="167.9" width="183.8" height="2.3" fill="url(#g96)"/><rect x="277.4" y="169.9" width="183.8" height="2.3" fill="url(#g97)"/><rect x="277.4" y="171.9" width="183.8" height="2.3" fill="url(#g98)"/><rect x="277.4" y="173.9" width="183.8" height="2.3" fill="url(#g99)"/><rect x="277.4" y="175.9" width="183.8" height="2.3" fill="url(#g100)"/><rect x="277.4" y="177.9" width="183.8" height="2.3" fill="url(#g101)"/><rect x="277.4" y="179.9" width="183.8" height="2.3" fill="url(#g102)"/><rect x="277.4" y="181.9" width="183.8" height="2.3" fill="url(#g103)"/><rect x="277.4" y="183.9" width="183.8" height="2.3" fill="url(#g104)"/><rect x="277.4" y="185.9" width="183.8" height="2.3" fill="url(#g105)"/><rect x="277.4" y="187.9" width="183.8" height="2.3" fill="url(#g106)"/><rect x="277.4" y="189.9" width="183.8" height="2.3" fill="url(#g107)"/><rect x="277.4" y="191.9" width="183.8" height="2.3" fill="url(#g108)"/><rect x="277.4" y="193.9" width="183.8" height="2.3" fill="url(#g109)"/><rect x="277.4" y="195.9" width="183.8" height="2.3" fill="url(#g110)"/><rect x="277.4" y="197.9" width="183.8" height="2.3" fill="url(#g111)"/><rect x="277.4" y="199.9" width="183.8" height="2.3" fill="url(#g112)"/><rect x="277.4" y="201.9" width="183.8" height="2.3" fill="url(#g113)"/><rect x="277.4" y="203.9" width="183.8" height="2.3" fill="url(#g114)"/><rect x="277.4" y="205.9" width="183.8" height="2.3" fill="url(#g115)"/><rect x="277.4" y="207.9" width="183.8" height="2.3" fill="url(#g116)"/><rect x="277.4" y="209.9" width="183.8" height="2.3" fill="url(#g117)"/><rect x="277.4" y="211.9" width="183.8" height="2.3" fill="url(#g118)"/><rect x="277.4" y="213.9" width="183.8" height="2.3" fill="url(#g119)"/><rect x="277.4" y="215.9" width="183.8" height="2.3" fill="url(#g120)"/><rect x="277.4" y="217.9" width="183.8" height="2.3" fill="url(#g121)"/><rect x="277.4" y="219.9" width="183.8" height="2.3" fill="url(#g122)"/><rect x="277.4" y="221.9" width="183.8" height="2.3" fill="url(#g123)"/><rect x="277.4" y="223.9" width="183.8" height="2.3" fill="url(#g124)"/><rect x="277.4" y="225.9" width="183.8" height="2.3" fill="url(#g125)"/><rect x="277.4" y="227.9" width="183.8" height="2.3" fill="url(#g126)"/><rect x="277.4" y="229.9" width="183.8" height="2.3" fill="url(#g127)"/><rect x="277.4" y="231.9" width="183.8" height="2.3" fill="url(#g128)"/><rect x="277.4" y="233.9" width="183.8" height="2.3" fill="url(#g129)"/><rect x="277.4" y="235.9" width="183.8" height="2.3" fill="url(#g130)"/><rect x="277.4" y="237.9" width="183.8" height="2.3" fill="url(#g131)"/><rect x="277.4" y="239.9" width="183.8" height="2.3" fill="url(#g132)"/><rect x="277.4" y="241.9" width="183.8" height="2.3" fill="url(#g133)"/><rect x="277.4" y="243.9" width="183.8" height="1.4" fill="url(#g134)"/>
<clipPath id="clipD"><rect x="277.4" y="157.9" width="183.8" height="87.1"/></clipPath>
<g clip-path="url(#clipD)">
<path d="M285 157.9 L284.5 163.5 L282.6 171 L279.8 178.6 L277.4 181.4" stroke="#303030" stroke-width="0.45" fill="none"/>
<path d="M306 157.9 L305.7 172.9 L303.3 182.3 L297.6 193.6 L287.3 201.1 L277.4 205.2" stroke="#303030" stroke-width="0.45" fill="none"/>
<path d="M277.4 225 L293.6 220.9 L308.1 213.6 L317.4 204.3 L321.6 201.2 L325.7 198.1 L334 196 L343.3 196 L359.9 203.3 L370 210.5 L387.7 218.8 L412.5 222.9 L443.5 230 L461.2 233" stroke="#303030" stroke-width="0.45" fill="none"/>
<path d="M277.4 242.6 L293.6 241.6 L310.2 236.4 L326.8 232.3 L343.3 232.3 L353.7 233.3 L370 237.4 L389.8 243.6 L400 245.5" stroke="#303030" stroke-width="0.45" fill="none"/>
<path d="M352 196 L365 205 L385.7 211 L414.6 215 L443.5 218 L461.2 216" stroke="#303030" stroke-width="0.45" fill="none"/>
<path d="M369.88 157.9 L369.97 158.62 L370.09 159.06 L370.23 159.44 L370.39 159.78 L370.58 160.08 L370.79 160.37 L371.02 160.63 L371.27 160.88 L371.54 161.1 L371.82 161.31 L372.12 161.51 L372.44 161.69 L372.77 161.86 L373.11 162.01 L373.46 162.15 L373.82 162.27 L374.19 162.38 L374.57 162.47 L374.95 162.55 L375.33 162.62 L375.71 162.67 L376.1 162.7 L376.48 162.73 L376.85 162.73 L377.23 162.73 L377.59 162.7 L377.95 162.67 L378.29 162.62 L378.63 162.55 L378.95 162.47 L379.26 162.38 L379.55 162.27 L379.83 162.15 L380.08 162.01 L380.32 161.86 L380.54 161.69 L380.74 161.51 L380.91 161.31 L381.06 161.1 L381.19 160.88 L381.3 160.63 L381.38 160.37 L381.43 160.08 L381.46 159.78 L381.47 159.44 L381.45 159.06 L381.4 158.62 L381.33 157.9" stroke="#303030" stroke-width="0.45" fill="none"/>
<path d="M367.75 157.9 L367.94 159.33 L368.17 160.22 L368.46 160.98 L368.79 161.65 L369.16 162.27 L369.58 162.83 L370.04 163.36 L370.54 163.85 L371.07 164.31 L371.64 164.73 L372.24 165.12 L372.87 165.48 L373.53 165.82 L374.22 166.12 L374.92 166.4 L375.64 166.64 L376.38 166.86 L377.13 167.05 L377.89 167.2 L378.66 167.33 L379.42 167.44 L380.19 167.51 L380.95 167.55 L381.71 167.57 L382.45 167.55 L383.18 167.51 L383.9 167.44 L384.59 167.33 L385.26 167.2 L385.9 167.05 L386.52 166.86 L387.1 166.64 L387.65 166.4 L388.17 166.12 L388.64 165.82 L389.08 165.48 L389.47 165.12 L389.82 164.73 L390.12 164.31 L390.38 163.85 L390.59 163.36 L390.75 162.83 L390.86 162.27 L390.92 161.65 L390.93 160.98 L390.89 160.22 L390.81 159.33 L390.67 157.9" stroke="#303030" stroke-width="0.45" fill="none"/>
<path d="M365.62 157.9 L365.91 160.05 L366.26 161.39 L366.69 162.52 L367.18 163.53 L367.74 164.45 L368.37 165.3 L369.06 166.09 L369.8 166.83 L370.61 167.51 L371.46 168.14 L372.36 168.73 L373.31 169.28 L374.3 169.78 L375.32 170.23 L376.38 170.64 L377.47 171.01 L378.57 171.34 L379.7 171.62 L380.84 171.86 L381.99 172.05 L383.14 172.2 L384.29 172.31 L385.43 172.38 L386.56 172.4 L387.68 172.38 L388.77 172.31 L389.84 172.2 L390.88 172.05 L391.89 171.86 L392.85 171.62 L393.78 171.34 L394.65 171.01 L395.48 170.64 L396.25 170.23 L396.96 169.78 L397.62 169.28 L398.21 168.73 L398.73 168.14 L399.19 167.51 L399.57 166.83 L399.89 166.09 L400.13 165.3 L400.29 164.45 L400.38 163.53 L400.4 162.52 L400.34 161.39 L400.21 160.05 L400 157.9" stroke="#303030" stroke-width="0.45" fill="none"/>
<path d="M363.5 157.9 L363.88 160.77 L364.35 162.55 L364.92 164.06 L365.57 165.41 L366.32 166.64 L367.16 167.77 L368.07 168.82 L369.07 169.8 L370.14 170.71 L371.28 171.56 L372.48 172.34 L373.75 173.07 L375.07 173.73 L376.43 174.34 L377.84 174.89 L379.29 175.38 L380.77 175.82 L382.27 176.19 L383.78 176.51 L385.32 176.77 L386.85 176.97 L388.38 177.12 L389.91 177.2 L391.42 177.23 L392.9 177.2 L394.37 177.12 L395.79 176.97 L397.18 176.77 L398.52 176.51 L399.81 176.19 L401.04 175.82 L402.21 175.38 L403.31 174.89 L404.33 174.34 L405.29 173.73 L406.16 173.07 L406.94 172.34 L407.64 171.56 L408.25 170.71 L408.76 169.8 L409.18 168.82 L409.5 167.77 L409.72 166.64 L409.85 165.41 L409.87 164.06 L409.79 162.55 L409.61 160.77 L409.33 157.9" stroke="#303030" stroke-width="0.45" fill="none"/>
<path d="M361.38 157.9 L361.85 161.48 L362.44 163.71 L363.14 165.6 L363.97 167.28 L364.9 168.82 L365.95 170.24 L367.09 171.55 L368.34 172.78 L369.68 173.92 L371.1 174.97 L372.6 175.95 L374.18 176.86 L375.83 177.69 L377.54 178.45 L379.3 179.14 L381.11 179.75 L382.96 180.29 L384.83 180.76 L386.73 181.16 L388.64 181.49 L390.56 181.74 L392.48 181.92 L394.38 182.03 L396.27 182.07 L398.13 182.03 L399.96 181.92 L401.74 181.74 L403.47 181.49 L405.15 181.16 L406.76 180.76 L408.3 180.29 L409.76 179.75 L411.13 179.14 L412.42 178.45 L413.61 177.69 L414.7 176.86 L415.68 175.95 L416.55 174.97 L417.31 173.92 L417.95 172.78 L418.48 171.55 L418.88 170.24 L419.16 168.82 L419.31 167.28 L419.34 165.6 L419.24 163.71 L419.01 161.48 L418.67 157.9" stroke="#303030" stroke-width="0.45" fill="none"/>
<path d="M359.25 157.9 L359.81 162.2 L360.52 164.87 L361.37 167.14 L362.36 169.16 L363.49 171 L364.74 172.7 L366.11 174.28 L367.61 175.75 L369.21 177.12 L370.92 178.39 L372.73 179.57 L374.62 180.65 L376.6 181.65 L378.65 182.56 L380.76 183.39 L382.93 184.12 L385.15 184.77 L387.4 185.34 L389.68 185.81 L391.97 186.2 L394.27 186.51 L396.57 186.73 L398.86 186.86 L401.12 186.9 L403.36 186.86 L405.55 186.73 L407.69 186.51 L409.77 186.2 L411.78 185.81 L413.71 185.34 L415.56 184.77 L417.31 184.12 L418.96 183.39 L420.5 182.56 L421.93 181.65 L423.24 180.65 L424.41 179.57 L425.46 178.39 L426.37 177.12 L427.14 175.75 L427.77 174.28 L428.25 172.7 L428.59 171 L428.77 169.16 L428.8 167.14 L428.68 164.87 L428.42 162.2 L428 157.9" stroke="#303030" stroke-width="0.45" fill="none"/>
<path d="M357.12 157.9 L357.78 162.91 L358.61 166.03 L359.6 168.68 L360.76 171.04 L362.07 173.19 L363.53 175.17 L365.13 177.01 L366.87 178.73 L368.75 180.32 L370.74 181.8 L372.85 183.18 L375.06 184.45 L377.37 185.61 L379.76 186.67 L382.22 187.63 L384.75 188.49 L387.34 189.25 L389.97 189.91 L392.62 190.47 L395.3 190.92 L397.99 191.28 L400.67 191.53 L403.34 191.68 L405.98 191.73 L408.58 191.68 L411.14 191.53 L413.63 191.28 L416.06 190.92 L418.41 190.47 L420.66 189.91 L422.81 189.25 L424.86 188.49 L426.79 187.63 L428.58 186.67 L430.25 185.61 L431.77 184.45 L433.15 183.18 L434.37 181.8 L435.44 180.32 L436.34 178.73 L437.07 177.01 L437.63 175.17 L438.02 173.19 L438.23 171.04 L438.27 168.68 L438.13 166.03 L437.82 162.91 L437.33 157.9" stroke="#303030" stroke-width="0.45" fill="none"/>
<path d="M355 157.9 L355.75 163.63 L356.7 167.2 L357.83 170.22 L359.15 172.91 L360.65 175.37 L362.32 177.64 L364.15 179.74 L366.14 181.7 L368.28 183.52 L370.56 185.22 L372.97 186.79 L375.5 188.24 L378.13 189.57 L380.87 190.78 L383.68 191.88 L386.58 192.86 L389.53 193.73 L392.53 194.48 L395.57 195.12 L398.63 195.64 L401.7 196.05 L404.77 196.33 L407.81 196.51 L410.83 196.57 L413.81 196.51 L416.73 196.33 L419.58 196.05 L422.36 195.64 L425.04 195.12 L427.61 194.48 L430.07 193.73 L432.41 192.86 L434.61 191.88 L436.67 190.78 L438.57 189.57 L440.31 188.24 L441.89 186.79 L443.28 185.22 L444.5 183.52 L445.53 181.7 L446.36 179.74 L447 177.64 L447.45 175.37 L447.69 172.91 L447.74 170.22 L447.58 167.2 L447.22 163.63 L446.67 157.9" stroke="#303030" stroke-width="0.45" fill="none"/>
<path d="M352.88 157.9 L353.72 164.35 L354.78 168.36 L356.06 171.76 L357.54 174.79 L359.23 177.55 L361.11 180.11 L363.17 182.47 L365.41 184.68 L367.82 186.73 L370.38 188.63 L373.09 190.4 L375.93 192.03 L378.9 193.53 L381.97 194.89 L385.14 196.13 L388.4 197.23 L391.72 198.21 L395.1 199.05 L398.52 199.77 L401.96 200.36 L405.41 200.81 L408.86 201.14 L412.29 201.33 L415.69 201.4 L419.04 201.33 L422.32 201.14 L425.53 200.81 L428.65 200.36 L431.66 199.77 L434.56 199.05 L437.33 198.21 L439.96 197.23 L442.44 196.13 L444.75 194.89 L446.89 193.53 L448.85 192.03 L450.62 190.4 L452.19 188.63 L453.56 186.73 L454.72 184.68 L455.66 182.47 L456.38 180.11 L456.88 177.55 L457.15 174.79 L457.2 171.76 L457.03 168.36 L456.63 164.35 L456 157.9" stroke="#303030" stroke-width="0.45" fill="none"/>
<path d="M350.75 157.9 L351.69 165.06 L352.87 169.52 L354.29 173.3 L355.94 176.66 L357.81 179.74 L359.89 182.57 L362.19 185.2 L364.68 187.65 L367.35 189.93 L370.2 192.05 L373.21 194.01 L376.37 195.82 L379.66 197.49 L383.08 199 L386.61 200.38 L390.22 201.6 L393.91 202.69 L397.67 203.63 L401.46 204.42 L405.29 205.07 L409.12 205.58 L412.96 205.94 L416.77 206.16 L420.54 206.23 L424.26 206.16 L427.91 205.94 L431.48 205.58 L434.94 205.07 L438.29 204.42 L441.51 203.63 L444.59 202.69 L447.51 201.6 L450.26 200.38 L452.84 199 L455.21 197.49 L457.39 195.82 L459.36 194.01 L461.1 192.05 L462.62 189.93 L463.91 187.65 L464.95 185.2 L465.76 182.57 L466.31 179.74 L466.62 176.66 L466.67 173.3 L466.47 169.52 L466.03 165.06 L465.33 157.9" stroke="#303030" stroke-width="0.45" fill="none"/>
<path d="M348.62 157.9 L349.66 165.78 L350.96 170.68 L352.52 174.84 L354.33 178.54 L356.39 181.92 L358.68 185.04 L361.21 187.94 L363.94 190.63 L366.89 193.13 L370.02 195.46 L373.33 197.62 L376.81 199.61 L380.43 201.44 L384.19 203.11 L388.07 204.62 L392.04 205.97 L396.1 207.17 L400.23 208.2 L404.41 209.08 L408.62 209.79 L412.84 210.35 L417.05 210.75 L421.24 210.99 L425.4 211.07 L429.49 210.99 L433.5 210.75 L437.43 210.35 L441.24 209.79 L444.92 209.08 L448.47 208.2 L451.85 207.17 L455.06 205.97 L458.09 204.62 L460.92 203.11 L463.54 201.44 L465.93 199.61 L468.09 197.62 L470.01 195.46 L471.68 193.13 L473.1 190.63 L474.25 187.94 L475.13 185.04 L475.74 181.92 L476.08 178.54 L476.14 174.84 L475.92 170.68 L475.43 165.78 L474.67 157.9" stroke="#303030" stroke-width="0.45" fill="none"/>
<path d="M346.5 157.9 L347.63 166.5 L349.05 171.84 L350.75 176.38 L352.72 180.42 L354.97 184.11 L357.47 187.51 L360.22 190.67 L363.21 193.6 L366.42 196.34 L369.84 198.88 L373.45 201.23 L377.24 203.41 L381.2 205.4 L385.3 207.22 L389.53 208.87 L393.87 210.34 L398.3 211.65 L402.8 212.77 L407.35 213.73 L411.95 214.51 L416.55 215.12 L421.15 215.55 L425.72 215.81 L430.25 215.9 L434.71 215.81 L439.1 215.55 L443.37 215.12 L447.53 214.51 L451.55 213.73 L455.42 212.77 L459.11 211.65 L462.62 210.34 L465.92 208.87 L469 207.22 L471.86 205.4 L474.47 203.41 L476.83 201.23 L478.92 198.88 L480.75 196.34 L482.29 193.6 L483.54 190.67 L484.51 187.51 L485.17 184.11 L485.54 180.42 L485.61 176.38 L485.37 171.84 L484.83 166.5 L484 157.9" stroke="#303030" stroke-width="0.45" fill="none"/>
<path d="M277.4 189.03 L294.11 190.97 L310.82 199.77 L327.53 199.77 L344.24 189.03 L360.95 164.22 L377.65 160.17 L394.36 161.05 L411.07 165.45 L427.78 170.38 L444.49 176.36 L461.2 183.93" stroke="#b22222" stroke-width="0.9" fill="none"/>
<path d="M277.4 192.38 L294.11 196.42 L310.82 202.76 L327.53 199.59 L344.24 185.16 L360.95 161.4 L377.65 158.76 L394.36 159.64 L411.07 164.04 L427.78 169.14 L444.49 175.3 L461.2 183.05" stroke="#b22222" stroke-width="0.9" fill="none" stroke-dasharray="3,1.4"/>
</g>
<rect x="277.4" y="157.9" width="183.8" height="87.1" fill="none" stroke="#333" stroke-width="0.7"/>
<path d="M277.4 245 L277.4 247" stroke="#333" stroke-width="0.6" fill="none"/>
<text x="277.4" y="253.2" font-size="6.1" text-anchor="middle" fill="#1a1a1a">Jan</text>
<path d="M294.11 245 L294.11 247" stroke="#333" stroke-width="0.6" fill="none"/>
<text x="294.11" y="253.2" font-size="6.1" text-anchor="middle" fill="#1a1a1a">Feb</text>
<path d="M310.82 245 L310.82 247" stroke="#333" stroke-width="0.6" fill="none"/>
<text x="310.82" y="253.2" font-size="6.1" text-anchor="middle" fill="#1a1a1a">Mar</text>
<path d="M327.53 245 L327.53 247" stroke="#333" stroke-width="0.6" fill="none"/>
<text x="327.53" y="253.2" font-size="6.1" text-anchor="middle" fill="#1a1a1a">Apr</text>
<path d="M344.24 245 L344.24 247" stroke="#333" stroke-width="0.6" fill="none"/>
<text x="344.24" y="253.2" font-size="6.1" text-anchor="middle" fill="#1a1a1a">May</text>
<path d="M360.95 245 L360.95 247" stroke="#333" stroke-width="0.6" fill="none"/>
<text x="360.95" y="253.2" font-size="6.1" text-anchor="middle" fill="#1a1a1a">Jun</text>
<path d="M377.65 245 L377.65 247" stroke="#333" stroke-width="0.6" fill="none"/>
<text x="377.65" y="253.2" font-size="6.1" text-anchor="middle" fill="#1a1a1a">Jul</text>
<path d="M394.36 245 L394.36 247" stroke="#333" stroke-width="0.6" fill="none"/>
<text x="394.36" y="253.2" font-size="6.1" text-anchor="middle" fill="#1a1a1a">Aug</text>
<path d="M411.07 245 L411.07 247" stroke="#333" stroke-width="0.6" fill="none"/>
<text x="411.07" y="253.2" font-size="6.1" text-anchor="middle" fill="#1a1a1a">Sep</text>
<path d="M427.78 245 L427.78 247" stroke="#333" stroke-width="0.6" fill="none"/>
<text x="427.78" y="253.2" font-size="6.1" text-anchor="middle" fill="#1a1a1a">Oct</text>
<path d="M444.49 245 L444.49 247" stroke="#333" stroke-width="0.6" fill="none"/>
<text x="444.49" y="253.2" font-size="6.1" text-anchor="middle" fill="#1a1a1a">Nov</text>
<path d="M461.2 245 L461.2 247" stroke="#333" stroke-width="0.6" fill="none"/>
<text x="461.2" y="253.2" font-size="6.1" text-anchor="middle" fill="#1a1a1a">Dec</text>
<path d="M275.4 174.6 L277.4 174.6" stroke="#333" stroke-width="0.6" fill="none"/>
<text x="274.4" y="176.8" font-size="6.1" text-anchor="end" fill="#1a1a1a">10</text>
<path d="M275.4 192.2 L277.4 192.2" stroke="#333" stroke-width="0.6" fill="none"/>
<text x="274.4" y="194.4" font-size="6.1" text-anchor="end" fill="#1a1a1a">20</text>
<path d="M275.4 209.8 L277.4 209.8" stroke="#333" stroke-width="0.6" fill="none"/>
<text x="274.4" y="212" font-size="6.1" text-anchor="end" fill="#1a1a1a">30</text>
<path d="M275.4 227.4 L277.4 227.4" stroke="#333" stroke-width="0.6" fill="none"/>
<text x="274.4" y="229.6" font-size="6.1" text-anchor="end" fill="#1a1a1a">40</text>
<path d="M275.4 245 L277.4 245" stroke="#333" stroke-width="0.6" fill="none"/>
<text x="274.4" y="247.2" font-size="6.1" text-anchor="end" fill="#1a1a1a">50</text>
<text x="368.8" y="260.9" font-size="6.2" text-anchor="middle" fill="#1a1a1a">month</text>
<text x="264.6" y="201" font-size="6.7" text-anchor="middle" fill="#1a1a1a" transform="rotate(-90 264.6 201)">depth [m]</text>
<text x="265.5" y="156.4" font-size="11.2" text-anchor="start" fill="#111" font-weight="bold" textLength="13.2" lengthAdjust="spacingAndGlyphs">(d)</text>
<text x="304.9" y="154.4" font-size="7.0" text-anchor="start" fill="#1a1a1a" textLength="127.5" lengthAdjust="spacingAndGlyphs">Difference of stratification,  POST.lvl - POST.rdg</text>
<text x="282.6" y="171.3" font-size="6.1" text-anchor="middle" fill="#1a1a1a" transform="rotate(-72 282.6 171.3)" dominant-baseline="central" stroke="#222" stroke-width="0.06">26.7</text>
<text x="303.5" y="182.3" font-size="6.1" text-anchor="middle" fill="#1a1a1a" transform="rotate(-72 303.5 182.3)" dominant-baseline="central" stroke="#222" stroke-width="0.06">26.8</text>
<text x="320" y="202" font-size="6.1" text-anchor="middle" fill="#1a1a1a" transform="rotate(-50 320 202)" dominant-baseline="central" stroke="#222" stroke-width="0.06">26.9</text>
<text x="343.3" y="232.5" font-size="6.1" text-anchor="middle" fill="#1a1a1a" transform="rotate(3 343.3 232.5)" dominant-baseline="central" stroke="#222" stroke-width="0.06">27.0</text>
<text x="347.3" y="162.3" font-size="6.1" text-anchor="middle" fill="#1a1a1a" transform="rotate(-80 347.3 162.3)" dominant-baseline="central" stroke="#222" stroke-width="0.06">26.8</text>
<text x="393.3" y="172" font-size="6.1" text-anchor="middle" fill="#1a1a1a" transform="rotate(-5 393.3 172)" dominant-baseline="central" stroke="#222" stroke-width="0.06">26.0</text>
<text x="404.6" y="174.4" font-size="6.1" text-anchor="middle" fill="#1a1a1a" transform="rotate(-10 404.6 174.4)" dominant-baseline="central" stroke="#222" stroke-width="0.06">26.1</text>
<text x="411.4" y="179.9" font-size="6.1" text-anchor="middle" fill="#1a1a1a" dominant-baseline="central" stroke="#222" stroke-width="0.06">26.2</text>
<text x="394.5" y="180.6" font-size="6.1" text-anchor="middle" fill="#1a1a1a" transform="rotate(-10 394.5 180.6)" dominant-baseline="central" stroke="#222" stroke-width="0.06">26.3</text>
<text x="376.4" y="181" font-size="6.1" text-anchor="middle" fill="#1a1a1a" transform="rotate(-40 376.4 181)" dominant-baseline="central" stroke="#222" stroke-width="0.06">26.6</text>
<text x="383.2" y="182.2" font-size="6.1" text-anchor="middle" fill="#1a1a1a" transform="rotate(-40 383.2 182.2)" dominant-baseline="central" stroke="#222" stroke-width="0.06">26.5</text>
<text x="367.4" y="182.6" font-size="6.1" text-anchor="middle" fill="#1a1a1a" transform="rotate(-50 367.4 182.6)" dominant-baseline="central" stroke="#222" stroke-width="0.06">26.7</text>
<text x="370.4" y="166.5" font-size="6.1" text-anchor="middle" fill="#1a1a1a" transform="rotate(-60 370.4 166.5)" dominant-baseline="central" stroke="#222" stroke-width="0.06">26.8</text>
<rect x="370.2" y="224.5" width="90.3" height="16.5" rx="1" fill="#fff" fill-opacity="0.8" stroke="#d0d0d0" stroke-width="0.5"/>
<path d="M371.6 228.6 L382.6 228.6" stroke="#b22222" stroke-width="0.9" fill="none"/>
<path d="M371.6 237 L382.6 237" stroke="#b22222" stroke-width="0.9" fill="none" stroke-dasharray="3,1.4"/>
<text x="385.9" y="230.8" font-size="6.1" text-anchor="start" fill="#1a1a1a" textLength="70" lengthAdjust="spacingAndGlyphs">Mixed layer depth, POST.rdg</text>
<text x="385.9" y="239.2" font-size="6.1" text-anchor="start" fill="#1a1a1a" textLength="68.5" lengthAdjust="spacingAndGlyphs">Mixed layer depth, POST.lvl</text>
<defs><linearGradient id="cb135" x1="0" y1="0" x2="0" y2="1"><stop offset="0" stop-color="#f00"/><stop offset="0.5" stop-color="#fff"/><stop offset="1" stop-color="#00f"/></linearGradient></defs>
<rect x="466.3" y="170.5" width="6.5" height="74.5" fill="url(#cb135)" stroke="#333" stroke-width="0.4"/>
<path d="M472.8 170.5 L474.8 170.5" stroke="#333" stroke-width="0.6" fill="none"/>
<text x="475.8" y="172.65" font-size="6.0" text-anchor="start" fill="#1a1a1a">1.6</text>
<path d="M472.8 189.12 L474.8 189.12" stroke="#333" stroke-width="0.6" fill="none"/>
<text x="475.8" y="191.28" font-size="6.0" text-anchor="start" fill="#1a1a1a">0.8</text>
<path d="M472.8 207.75 L474.8 207.75" stroke="#333" stroke-width="0.6" fill="none"/>
<text x="475.8" y="209.9" font-size="6.0" text-anchor="start" fill="#1a1a1a">0.0</text>
<path d="M472.8 226.38 L474.8 226.38" stroke="#333" stroke-width="0.6" fill="none"/>
<text x="475.8" y="228.53" font-size="6.0" text-anchor="start" fill="#1a1a1a">−0.8</text>
<path d="M472.8 245 L474.8 245" stroke="#333" stroke-width="0.6" fill="none"/>
<text x="475.8" y="247.15" font-size="6.0" text-anchor="start" fill="#1a1a1a">−1.6</text>
<text x="494.6" y="207.5" font-size="6.4" text-anchor="middle" fill="#1a1a1a" transform="rotate(-90 494.6 207.5)">ρ<tspan dy="-2.2" font-size="4">−1</tspan><tspan dy="2.2">dρ/dz difference  [10<tspan dy="-2.2" font-size="4">−5</tspan><tspan dy="2.2">m<tspan dy="-2.2" font-size="4">−1</tspan><tspan dy="2.2">]</tspan></tspan></tspan></text>
</svg></body></html>
